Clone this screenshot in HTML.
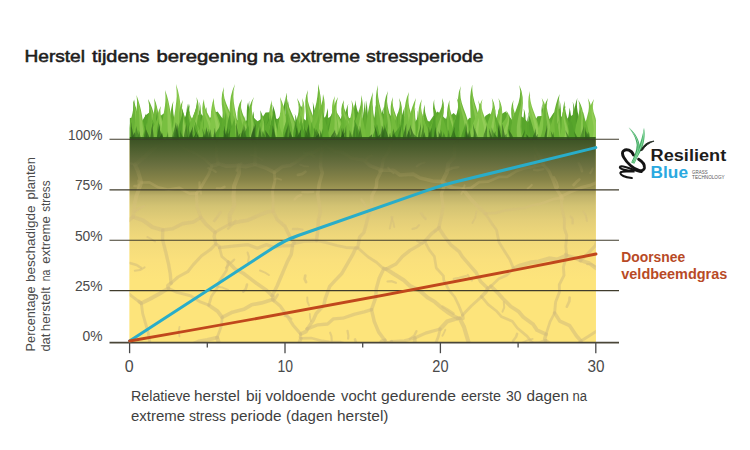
<!DOCTYPE html>
<html><head><meta charset="utf-8"><style>
html,body{margin:0;padding:0;background:#fff;width:750px;height:450px;overflow:hidden}
svg{display:block}
text{font-family:"Liberation Sans",Arial,sans-serif}
</style></head><body>
<svg width="750" height="450" viewBox="0 0 750 450">
<defs>
<linearGradient id="soil" x1="0" y1="139" x2="0" y2="343" gradientUnits="userSpaceOnUse">
<stop offset="0.005" stop-color="#3d5425"/>
<stop offset="0.054" stop-color="#4f6030"/>
<stop offset="0.127" stop-color="#6a7040"/>
<stop offset="0.201" stop-color="#878448"/>
<stop offset="0.245" stop-color="#9e9654"/>
<stop offset="0.279" stop-color="#bfb26a"/>
<stop offset="0.328" stop-color="#d3c373"/>
<stop offset="0.397" stop-color="#e3ce78"/>
<stop offset="0.495" stop-color="#f2da7b"/>
<stop offset="0.593" stop-color="#fae07c"/>
<stop offset="0.691" stop-color="#fde47b"/>
</linearGradient>
<linearGradient id="cmg" x1="0" y1="139" x2="0" y2="250" gradientUnits="userSpaceOnUse">
<stop offset="0" stop-color="#fff" stop-opacity="0"/>
<stop offset="0.2" stop-color="#fff" stop-opacity="0.04"/>
<stop offset="0.45" stop-color="#fff" stop-opacity="0.45"/>
<stop offset="0.72" stop-color="#fff" stop-opacity="0.95"/>
<stop offset="1" stop-color="#fff" stop-opacity="1"/>
</linearGradient>
<mask id="cm" maskUnits="userSpaceOnUse" x="0" y="0" width="750" height="450"><rect x="0" y="130" width="750" height="220" fill="url(#cmg)"/></mask>
<clipPath id="soilc"><rect x="129.6" y="139" width="466.2" height="203.4"/></clipPath>
<clipPath id="plot"><rect x="129.6" y="60" width="466.2" height="80"/></clipPath>
</defs>
<rect width="750" height="450" fill="#fff"/>
<text y="62.2" font-size="17.2" fill="#1e1c1c" stroke="#1e1c1c" stroke-width="0.55"><tspan x="24.50" textLength="60.50" lengthAdjust="spacingAndGlyphs">Herstel</tspan> <tspan x="92.00" textLength="57.50" lengthAdjust="spacingAndGlyphs">tijdens</tspan> <tspan x="156.50" textLength="101.50" lengthAdjust="spacingAndGlyphs">beregening</tspan> <tspan x="263.00" textLength="21.00" lengthAdjust="spacingAndGlyphs">na</tspan> <tspan x="290.00" textLength="70.00" lengthAdjust="spacingAndGlyphs">extreme</tspan> <tspan x="366.00" textLength="117.50" lengthAdjust="spacingAndGlyphs">stressperiode</tspan></text>
<rect x="129.6" y="139" width="466.2" height="203.4" fill="#fde47b"/>
<rect x="129.6" y="139" width="466.2" height="203.4" fill="url(#soil)"/>
<g clip-path="url(#soilc)" mask="url(#cm)" fill="none" stroke="#d5c07c" stroke-opacity="0.6" stroke-linecap="round" stroke-linejoin="round">
<path d="M34.0,276.7 L41.7,271.9 L51.8,266.3 L57.9,261.8 L64.4,256.3 L74.4,252.4 L79.9,245.2 L87.9,242.3 L98.5,233.8 L107.7,232.7 L114.2,226.1 L121.5,220.5" stroke-width="2.9"/>
<path d="M625.5,284.4 L618.0,293.7 L612.8,301.2 L608.2,309.6 L603.7,320.5 L598.5,329.9" stroke-width="3.9"/>
<path d="M605.4,361.5 L603.2,351.6 L600.8,341.1 L598.5,329.9" stroke-width="3.3"/>
<path d="M565.9,432.9 L564.5,425.7 L567.3,415.6 L565.6,404.0 L563.1,394.5 L562.0,387.2 L563.0,378.1 L562.6,369.3 L562.7,357.9" stroke-width="4.0"/>
<path d="M565.9,432.9 L568.1,423.7 L576.5,416.9 L581.2,408.7 L581.6,401.7 L589.1,392.2 L590.4,384.6 L598.7,378.5 L599.4,368.3 L605.4,361.5" stroke-width="2.8"/>
<path d="M598.5,329.9 L587.8,336.7 L581.0,341.0" stroke-width="2.9"/>
<path d="M581.0,341.0 L572.1,349.2 L562.7,357.9" stroke-width="2.9"/>
<path d="M34.0,276.7 L44.0,276.4 L52.5,277.6 L60.5,279.3 L68.7,283.9 L80.0,282.3 L89.3,283.2 L96.1,287.3 L106.1,285.3 L116.5,287.1 L123.3,289.6" stroke-width="3.0"/>
<path d="M121.5,220.5 L126.0,219.9 L128.1,220.9" stroke-width="3.1"/>
<path d="M128.1,220.9 L125.6,228.9 L127.1,239.4 L126.5,249.8 L125.2,262.2 L124.6,270.3 L125.6,278.4 L123.3,289.6" stroke-width="2.8"/>
<path d="M123.3,289.6 L133.4,297.4 L139.9,302.4" stroke-width="3.0"/>
<path d="M554.6,313.0 L559.8,321.1 L569.7,325.7 L576.4,335.7 L581.0,341.0" stroke-width="3.6"/>
<path d="M554.6,313.0 L550.0,321.9 L546.0,334.3" stroke-width="2.7"/>
<path d="M562.7,357.9 L556.1,348.1 L545.5,340.6" stroke-width="3.7"/>
<path d="M546.0,334.3 L544.7,338.9 L545.5,340.6" stroke-width="3.6"/>
<path d="M554.6,313.0 L555.6,302.0 L559.5,292.0 L559.3,284.6 L564.0,275.3 L563.4,267.1 L566.4,255.7" stroke-width="2.9"/>
<path d="M513.6,268.6 L520.3,265.4 L531.0,262.4 L538.6,261.6 L549.1,258.4 L557.0,259.6 L566.4,255.7" stroke-width="4.2"/>
<path d="M513.6,268.6 L506.7,275.3 L498.8,278.8 L490.9,286.2" stroke-width="2.7"/>
<path d="M546.0,334.3 L537.0,330.1 L533.1,324.3 L523.2,316.9 L518.4,311.3 L510.8,306.5 L502.8,298.5 L498.8,294.0 L490.9,286.2" stroke-width="3.8"/>
<path d="M78.3,139.1 L88.6,137.0 L99.0,131.8 L107.4,130.8 L117.6,125.4 L126.7,124.0 L135.2,119.6 L143.8,116.1 L154.2,110.5 L163.1,109.0" stroke-width="3.6"/>
<path d="M78.3,139.1 L89.9,145.0 L98.2,147.1 L107.7,152.2 L115.9,157.5 L123.8,161.4 L135.1,164.6" stroke-width="2.6"/>
<path d="M135.1,164.6 L143.8,157.4 L150.3,151.3 L159.7,143.8 L168.0,136.3" stroke-width="4.1"/>
<path d="M163.1,109.0 L165.1,115.5 L169.2,126.2" stroke-width="3.1"/>
<path d="M168.0,136.3 L169.4,129.9 L169.2,126.2" stroke-width="2.9"/>
<path d="M215.8,244.0 L219.4,246.5 L219.5,247.7" stroke-width="3.3"/>
<path d="M215.8,244.0 L210.1,249.8 L201.6,255.7 L193.1,264.9 L187.8,271.7 L178.0,277.0 L171.0,283.1" stroke-width="3.1"/>
<path d="M171.0,283.1 L168.0,285.8 L168.3,288.4" stroke-width="3.9"/>
<path d="M208.9,305.2 L200.3,301.9 L190.6,295.8 L177.0,292.4 L168.3,288.4" stroke-width="3.0"/>
<path d="M208.9,305.2 L211.5,296.2 L217.2,287.9 L219.7,280.8 L226.5,270.4 L228.3,262.0" stroke-width="2.7"/>
<path d="M228.3,262.0 L221.8,256.5 L219.5,247.7" stroke-width="2.7"/>
<path d="M625.5,284.4 L617.4,280.0 L606.7,276.1 L596.4,268.4 L589.3,263.2 L580.5,260.5" stroke-width="3.9"/>
<path d="M566.4,255.7 L565.4,254.0 L566.8,255.4" stroke-width="2.7"/>
<path d="M580.5,260.5 L574.2,257.7 L566.8,255.4" stroke-width="3.6"/>
<path d="M580.5,260.5 L587.6,253.9 L595.4,245.5 L598.4,236.6 L604.8,226.7 L612.5,221.9 L617.6,212.0 L625.4,205.1" stroke-width="3.2"/>
<path d="M513.6,268.6 L509.8,259.5 L504.7,251.4 L499.0,242.3 L496.5,230.0 L491.9,223.6 L485.3,213.5" stroke-width="2.8"/>
<path d="M566.8,255.4 L565.7,246.4 L566.8,235.7 L564.3,228.3 L564.4,219.0 L561.9,208.2 L561.2,197.9" stroke-width="2.9"/>
<path d="M485.3,213.5 L495.7,212.9 L504.9,210.5 L512.5,209.4 L525.3,207.8 L532.9,205.0 L541.4,203.6 L553.2,199.2 L561.2,197.9" stroke-width="2.7"/>
<path d="M128.1,220.9 L130.3,219.1 L133.1,216.9" stroke-width="3.8"/>
<path d="M135.1,164.6 L138.1,171.5 L141.3,182.5" stroke-width="3.9"/>
<path d="M141.3,182.5 L136.6,195.3 L134.4,204.7 L133.1,216.9" stroke-width="3.9"/>
<path d="M139.9,302.4 L139.0,301.3 L141.3,303.2" stroke-width="3.4"/>
<path d="M171.0,283.1 L170.3,274.0 L168.5,263.8 L166.0,253.2 L162.5,239.4 L162.7,230.0" stroke-width="3.4"/>
<path d="M141.3,303.2 L149.4,299.3 L159.9,293.5 L168.3,288.4" stroke-width="3.9"/>
<path d="M133.1,216.9 L143.2,220.4 L152.3,227.1 L162.7,230.0" stroke-width="4.0"/>
<path d="M226.0,354.0 L220.3,347.4 L217.1,337.7" stroke-width="4.1"/>
<path d="M226.0,354.0 L221.6,362.2 L215.6,370.0 L212.3,378.2 L205.6,387.8 L203.2,393.2 L199.9,401.8 L194.0,410.3 L187.5,417.6 L184.5,427.3 L182.1,432.2 L175.6,439.6 L170.8,450.5 L168.3,456.9 L161.2,463.6 L157.9,474.8 L151.2,482.1 L146.2,487.4 L142.5,497.5 L138.3,504.0 L135.1,510.8 L131.0,518.8 L125.4,527.3 L119.5,536.5 L116.2,544.3" stroke-width="3.3"/>
<path d="M217.1,337.7 L207.2,339.9 L198.6,341.4 L187.9,346.1 L180.5,348.3 L172.1,351.3 L162.8,352.2 L152.0,356.0" stroke-width="3.8"/>
<path d="M116.2,544.3 L119.3,537.1 L118.8,525.5 L123.2,516.1 L125.2,510.1 L123.1,498.3 L127.4,489.4 L126.4,483.0 L129.5,473.8 L129.9,463.2 L134.1,452.5 L133.6,446.5 L138.5,438.8 L136.7,427.8 L141.2,418.8 L142.6,408.4 L141.6,399.1 L143.1,392.1 L146.9,383.2 L147.0,372.6 L149.0,366.5 L152.0,356.0" stroke-width="4.2"/>
<path d="M222.2,317.3 L221.5,325.7 L217.1,337.7" stroke-width="2.7"/>
<path d="M222.2,317.3 L217.5,311.1 L208.9,305.2" stroke-width="3.8"/>
<path d="M141.3,303.2 L142.7,313.6 L145.7,324.0 L148.2,332.8 L150.7,347.0 L152.0,356.0" stroke-width="2.9"/>
<path d="M545.5,340.6 L538.8,342.9 L532.4,343.0" stroke-width="3.2"/>
<path d="M486.7,385.3 L493.0,376.8 L502.0,369.1 L511.3,365.5 L518.1,358.7 L525.4,349.6 L532.4,343.0" stroke-width="3.6"/>
<path d="M295.2,378.2 L286.6,377.3 L279.3,371.1 L271.1,370.2 L261.8,367.5 L251.6,364.8 L245.0,360.9 L235.8,358.2 L226.0,354.0" stroke-width="3.2"/>
<path d="M295.2,378.2 L297.6,366.3 L297.3,358.1 L297.3,347.7 L300.9,338.4" stroke-width="3.6"/>
<path d="M300.9,338.4 L311.1,338.1 L322.3,340.9 L329.3,341.7 L340.1,342.1 L349.0,345.0 L359.9,344.6 L370.1,346.7 L378.7,345.5" stroke-width="2.6"/>
<path d="M315.7,481.6 L320.2,474.2 L322.5,464.2 L325.5,454.7 L330.9,445.8 L334.3,440.9 L339.6,430.6 L345.3,422.3 L349.4,414.1 L352.5,403.2 L355.5,397.7 L357.0,389.9 L361.5,379.4 L365.4,371.0 L371.3,360.5 L376.7,353.6 L378.7,345.5" stroke-width="3.4"/>
<path d="M168.0,136.3 L177.2,141.6 L184.6,148.7 L194.6,153.0 L204.0,158.9 L211.8,165.7" stroke-width="2.6"/>
<path d="M141.3,182.5 L149.4,182.3 L158.2,187.3 L168.4,189.7 L179.2,187.8 L189.5,193.6 L196.5,193.4" stroke-width="2.7"/>
<path d="M211.8,165.7 L208.5,174.6 L201.5,186.3 L196.5,193.4" stroke-width="3.0"/>
<path d="M162.7,230.0 L172.3,228.8 L182.7,223.6 L193.4,222.0 L200.8,217.5" stroke-width="3.6"/>
<path d="M196.5,193.4 L197.0,206.0 L200.8,217.5" stroke-width="3.3"/>
<path d="M215.8,244.0 L214.1,236.2 L215.1,232.3" stroke-width="3.4"/>
<path d="M215.1,232.3 L206.3,224.6 L200.8,217.5" stroke-width="3.7"/>
<path d="M438.8,227.9 L431.6,233.6 L424.8,241.3" stroke-width="3.5"/>
<path d="M438.8,227.9 L444.6,236.7 L451.2,245.2 L459.2,251.6 L462.1,256.4 L471.1,266.8 L476.1,272.5 L480.6,281.5 L487.7,288.2" stroke-width="3.5"/>
<path d="M424.8,241.3 L429.4,250.1 L434.3,256.3 L436.3,268.0 L443.4,275.8 L443.8,280.4 L449.0,290.2 L454.7,297.0 L458.6,305.1 L462.6,315.1" stroke-width="2.7"/>
<path d="M487.7,288.2 L485.5,292.6 L481.6,296.6" stroke-width="3.6"/>
<path d="M481.6,296.6 L471.5,305.8 L462.6,315.1" stroke-width="2.9"/>
<path d="M444.7,184.5 L453.1,187.9 L463.0,189.2" stroke-width="3.9"/>
<path d="M444.7,184.5 L441.4,193.7 L443.1,206.7 L441.5,215.8 L438.8,227.9" stroke-width="3.3"/>
<path d="M490.9,286.2 L488.2,288.6 L487.7,288.2" stroke-width="3.2"/>
<path d="M463.0,189.2 L471.1,199.4 L477.1,205.6 L485.3,213.5" stroke-width="3.8"/>
<path d="M532.4,343.0 L527.0,336.1 L517.3,328.0 L512.3,321.3 L501.6,316.8 L496.1,310.7 L488.0,304.4 L481.6,296.6" stroke-width="2.7"/>
<path d="M486.7,385.3 L482.1,377.6 L478.1,367.7 L477.6,361.0 L472.3,350.2 L469.2,344.4 L465.9,333.4 L464.0,327.0 L459.7,318.3" stroke-width="4.1"/>
<path d="M459.7,318.3 L463.1,318.5 L462.6,315.1" stroke-width="3.3"/>
<path d="M442.3,181.6 L447.0,172.0 L448.2,163.7 L454.3,157.1 L454.7,146.0 L458.5,137.3 L462.0,128.7 L464.5,120.7 L470.5,111.9 L474.1,103.2 L474.5,95.3 L481.0,84.5 L480.6,76.8 L486.3,68.3 L489.4,59.3" stroke-width="4.1"/>
<path d="M442.3,181.6 L432.8,181.0 L420.1,178.0 L413.2,174.1 L400.0,175.0 L393.4,170.3 L381.6,170.2" stroke-width="3.6"/>
<path d="M381.6,170.2 L379.9,171.2 L381.4,170.1" stroke-width="3.6"/>
<path d="M381.4,170.1 L383.3,159.5 L388.7,151.4 L391.7,141.5 L392.9,134.7 L397.4,123.2 L399.9,114.8 L403.7,106.3 L405.8,95.1" stroke-width="3.3"/>
<path d="M322.0,126.7 L325.0,136.4 L325.1,144.6" stroke-width="4.0"/>
<path d="M322.0,126.7 L332.6,124.7 L342.3,121.7 L350.5,116.3 L360.1,114.0 L368.2,108.8 L376.3,106.7 L389.3,101.6 L395.0,97.4 L405.8,95.1" stroke-width="3.3"/>
<path d="M325.1,144.6 L333.6,150.9 L342.0,152.2 L351.6,158.0 L363.9,160.2 L370.1,165.6 L381.4,170.1" stroke-width="3.5"/>
<path d="M283.7,-46.0 L287.6,-38.9 L286.0,-29.2 L288.5,-19.9 L292.7,-9.2 L292.6,-1.9 L294.8,7.1 L299.0,16.8 L300.0,28.1 L301.8,34.8 L305.6,46.8 L305.2,54.2 L309.9,63.0 L308.7,70.2 L313.9,82.6 L313.4,90.5 L316.0,98.5 L320.1,109.2 L318.8,115.5 L322.0,126.7" stroke-width="3.4"/>
<path d="M228.3,262.0 L235.1,269.0 L243.9,273.7 L248.7,277.4 L256.8,283.5 L266.5,290.2 L272.2,295.8" stroke-width="3.6"/>
<path d="M219.5,247.7 L230.8,246.4 L237.9,245.6 L248.1,244.7 L257.4,248.2 L266.6,244.6 L273.3,247.2 L281.7,245.9 L292.6,245.7" stroke-width="3.3"/>
<path d="M292.6,245.7 L291.2,254.5 L287.4,261.6 L283.7,270.4 L280.8,277.3 L277.0,286.2 L272.2,295.8" stroke-width="3.5"/>
<path d="M222.2,317.3 L232.4,312.2 L243.8,309.3 L251.5,304.8 L261.6,302.9 L272.5,299.5" stroke-width="3.7"/>
<path d="M300.9,338.4 L300.1,337.0 L300.7,334.0" stroke-width="2.8"/>
<path d="M300.7,334.0 L293.1,325.2 L288.6,318.2 L280.2,306.0 L272.5,299.5" stroke-width="3.2"/>
<path d="M272.5,299.5 L273.3,296.5 L272.2,295.8" stroke-width="3.5"/>
<path d="M543.2,161.2 L543.0,160.7 L543.2,164.4" stroke-width="4.2"/>
<path d="M543.2,164.4 L549.0,171.1 L552.7,179.5 L556.2,188.6 L561.2,196.4" stroke-width="3.1"/>
<path d="M561.2,196.4 L570.6,191.9 L582.1,187.3 L590.1,185.3 L601.6,180.3" stroke-width="3.1"/>
<path d="M444.7,184.5 L445.4,183.3 L442.3,181.6" stroke-width="3.8"/>
<path d="M463.0,189.2 L471.1,187.9 L479.0,182.1 L487.9,181.7 L499.5,176.8 L507.1,176.9 L516.9,170.9 L524.2,168.4 L532.6,166.8 L543.2,164.4" stroke-width="2.7"/>
<path d="M489.4,59.3 L495.8,67.4 L498.5,76.9 L504.1,86.2 L506.9,92.5 L511.5,99.6 L515.9,111.1 L522.9,120.0 L526.0,127.7 L527.7,135.0 L533.6,144.9 L537.0,152.2 L543.2,161.2" stroke-width="3.4"/>
<path d="M561.2,197.9 L562.5,198.6 L561.2,196.4" stroke-width="3.6"/>
<path d="M625.4,205.1 L616.0,198.0 L611.3,188.8 L601.6,180.3" stroke-width="3.2"/>
<path d="M378.7,345.5 L381.8,341.2 L384.8,340.2" stroke-width="3.7"/>
<path d="M307.3,328.9 L306.1,331.5 L300.7,334.0" stroke-width="3.7"/>
<path d="M307.3,328.9 L317.9,324.8 L327.6,324.0 L333.5,318.8 L342.8,318.2 L354.0,314.4 L364.2,311.8 L371.5,309.6" stroke-width="3.3"/>
<path d="M384.8,340.2 L378.7,332.1 L374.3,321.6 L371.5,309.6" stroke-width="3.5"/>
<path d="M357.7,247.7 L357.0,248.2 L355.8,248.0" stroke-width="3.0"/>
<path d="M357.7,247.7 L368.2,257.0 L376.4,262.3 L383.7,268.9" stroke-width="2.8"/>
<path d="M355.8,248.0 L352.4,255.2 L347.8,263.1 L341.6,273.8 L335.0,280.6 L329.7,286.4 L325.3,298.7 L323.8,305.3 L316.2,313.5 L313.2,320.3 L307.3,328.9" stroke-width="3.5"/>
<path d="M371.5,309.6 L375.8,297.3 L376.2,289.1 L379.1,278.6 L383.7,268.9" stroke-width="3.5"/>
<path d="M459.7,318.3 L457.2,318.4 L457.5,318.3" stroke-width="3.0"/>
<path d="M424.8,241.3 L417.4,246.1 L410.0,250.4 L402.5,256.4 L396.0,264.0 L386.3,269.1" stroke-width="3.4"/>
<path d="M457.5,318.3 L449.2,313.4 L442.5,308.5 L434.9,301.9 L428.1,297.9 L419.5,290.6 L409.8,285.8 L403.9,280.2 L394.3,274.3 L386.3,269.1" stroke-width="4.0"/>
<path d="M357.7,247.7 L359.6,237.2 L364.0,232.3 L366.7,222.3 L369.4,212.4 L371.4,202.8 L372.0,195.8 L376.3,187.0 L376.9,179.7 L381.6,170.2" stroke-width="3.4"/>
<path d="M383.7,268.9 L383.9,268.2 L386.3,269.1" stroke-width="3.2"/>
<path d="M169.2,126.2 L177.9,121.2 L190.6,122.1 L199.3,118.5 L208.0,115.2 L218.2,110.7" stroke-width="3.0"/>
<path d="M211.8,165.7 L215.9,164.8 L217.9,163.3" stroke-width="4.0"/>
<path d="M217.9,163.3 L216.2,154.0 L216.4,142.4 L220.0,129.5 L217.0,120.3 L218.2,110.7" stroke-width="3.1"/>
<path d="M217.9,163.3 L226.4,166.1 L238.8,165.4" stroke-width="3.9"/>
<path d="M246.1,68.7 L246.5,77.6 L248.2,85.8 L246.6,99.1 L248.7,106.9 L252.3,118.6 L251.2,124.8 L251.3,137.5 L254.8,143.8 L255.4,154.1 L254.8,164.3" stroke-width="3.4"/>
<path d="M254.8,164.3 L245.3,166.5 L238.8,165.4" stroke-width="4.2"/>
<path d="M215.1,232.3 L221.1,228.7 L229.8,224.1" stroke-width="2.9"/>
<path d="M238.8,165.4 L239.0,173.2 L234.1,185.9 L233.5,196.5 L234.4,205.4 L229.7,215.1 L229.8,224.1" stroke-width="4.1"/>
<path d="M273.1,211.0 L273.1,199.5 L272.5,190.8 L274.9,180.7 L274.3,172.4" stroke-width="2.9"/>
<path d="M273.1,211.0 L277.2,219.7 L285.0,226.4 L289.8,236.6 L294.4,242.9" stroke-width="3.5"/>
<path d="M294.4,242.9 L304.3,240.8 L316.5,240.5" stroke-width="4.1"/>
<path d="M316.5,240.5 L317.9,230.1 L318.4,219.9 L320.5,212.1 L319.2,203.1 L317.7,194.0 L319.4,183.0 L322.3,172.9 L320.6,166.4 L321.1,154.9 L322.8,146.5" stroke-width="3.5"/>
<path d="M322.8,146.5 L313.4,152.6 L308.8,153.1 L298.4,160.5 L290.0,165.6 L282.4,166.6 L274.3,172.4" stroke-width="3.5"/>
<path d="M254.8,164.3 L265.2,167.7 L274.3,172.4" stroke-width="3.7"/>
<path d="M229.8,224.1 L239.7,221.5 L247.1,220.4 L256.6,216.3 L266.4,212.2 L273.1,211.0" stroke-width="3.8"/>
<path d="M292.6,245.7 L292.0,244.8 L294.4,242.9" stroke-width="3.0"/>
<path d="M355.8,248.0 L345.7,247.4 L337.4,245.6 L325.2,242.4 L316.5,240.5" stroke-width="3.0"/>
<path d="M325.1,144.6 L324.3,145.6 L322.8,146.5" stroke-width="2.7"/>
<path d="M407.9,421.1 L411.5,412.8 L414.7,404.3 L416.2,391.9 L418.7,384.2 L423.7,374.8 L426.2,367.1 L428.6,358.4 L434.0,347.6 L438.2,337.1 L440.2,329.0" stroke-width="2.8"/>
<path d="M406.9,410.9 L407.0,399.8 L408.0,393.2 L410.0,382.5 L411.2,372.6 L413.3,363.9 L411.8,354.7 L414.7,348.6 L414.8,338.0" stroke-width="3.9"/>
<path d="M440.2,329.0 L425.6,333.1 L414.8,338.0" stroke-width="3.2"/>
<path d="M384.8,340.2 L386.9,342.9 L391.5,341.5" stroke-width="2.7"/>
<path d="M391.5,341.5 L393.6,352.5 L398.0,359.7 L397.9,372.3 L398.2,380.0 L404.2,389.5 L404.2,400.1 L406.9,410.9" stroke-width="3.3"/>
<path d="M457.5,318.3 L447.0,321.6 L440.2,329.0" stroke-width="4.2"/>
<path d="M391.5,341.5 L404.3,340.8 L414.8,338.0" stroke-width="3.0"/>
<path d="M247.6,252.6 L248.9,256.9 L248.1,261.8" stroke-width="2.1"/>
<path d="M587.1,264.1 L591.6,264.1 L595.4,266.3" stroke-width="2.1"/>
<path d="M453.5,313.6 L447.9,309.8 L442.5,306.6" stroke-width="2.6"/>
<path d="M307.3,297.4 L307.4,301.4 L309.0,305.3" stroke-width="2.0"/>
<path d="M224.5,186.8 L220.6,188.8 L216.9,188.4" stroke-width="2.5"/>
<path d="M531.8,184.9 L530.2,186.5 L527.6,188.7" stroke-width="2.1"/>
<path d="M138.3,180.5 L138.9,185.3 L137.6,189.0" stroke-width="2.1"/>
<path d="M297.9,174.9 L302.4,173.9 L305.5,171.7" stroke-width="2.7"/>
<path d="M139.1,207.8 L137.9,209.3 L134.8,211.6" stroke-width="2.6"/>
<path d="M371.7,155.7 L367.8,157.1 L366.1,160.1" stroke-width="2.4"/>
<path d="M144.4,205.9 L139.1,208.7 L135.6,210.4" stroke-width="2.1"/>
<path d="M467.8,274.9 L469.4,278.1 L471.9,280.4" stroke-width="2.2"/>
<path d="M309.8,313.9 L310.0,317.0 L310.9,321.4" stroke-width="1.8"/>
<path d="M141.0,267.9 L136.6,265.0 L129.8,263.0" stroke-width="2.5"/>
<path d="M558.1,187.2 L557.1,182.9 L554.0,177.0" stroke-width="2.0"/>
<path d="M424.5,162.5 L419.6,164.1 L416.8,166.3" stroke-width="2.1"/>
<path d="M361.4,199.6 L363.6,202.4 L366.0,206.8" stroke-width="2.5"/>
<path d="M241.4,163.1 L238.2,167.0 L236.6,170.5" stroke-width="2.5"/>
<path d="M387.5,281.5 L391.4,281.1 L395.9,282.8" stroke-width="2.2"/>
<path d="M155.1,241.6 L150.7,238.7 L147.2,236.9" stroke-width="1.8"/>
<path d="M291.4,318.9 L288.4,316.7 L284.7,315.9" stroke-width="2.3"/>
<path d="M416.4,331.2 L414.2,335.7 L409.8,338.9" stroke-width="2.4"/>
<path d="M419.0,225.1 L416.6,227.9 L412.6,228.9" stroke-width="2.2"/>
<path d="M553.7,152.4 L556.3,155.7 L559.9,159.6" stroke-width="2.8"/>
<path d="M199.5,182.5 L199.6,186.8 L201.0,193.5" stroke-width="2.3"/>
<path d="M313.2,191.7 L307.9,192.2 L302.4,192.1" stroke-width="2.4"/>
<path d="M517.1,333.9 L516.0,337.0 L513.0,340.9" stroke-width="2.5"/>
<path d="M453.8,278.9 L459.0,277.8 L465.9,276.1" stroke-width="2.3"/>
<path d="M392.5,217.1 L391.2,222.1 L389.8,228.5" stroke-width="2.0"/>
<path d="M281.1,179.7 L277.0,178.4 L275.0,179.1" stroke-width="1.9"/>
<path d="M458.2,167.0 L452.4,168.0 L446.8,170.6" stroke-width="2.7"/>
<path d="M535.1,155.4 L535.7,159.9 L534.9,165.0" stroke-width="2.5"/>
<path d="M247.0,284.6 L245.8,288.9 L243.3,291.7" stroke-width="2.6"/>
<path d="M394.2,227.0 L393.5,222.6 L391.3,216.8" stroke-width="1.9"/>
<path d="M305.3,275.5 L304.6,279.0 L306.1,282.1" stroke-width="2.7"/>
<path d="M582.0,171.1 L580.7,166.8 L578.7,163.0" stroke-width="2.7"/>
<path d="M590.6,154.5 L588.8,151.0 L589.2,148.6" stroke-width="2.5"/>
<path d="M592.8,168.4 L591.7,170.7 L590.3,173.0" stroke-width="2.2"/>
<path d="M273.7,301.1 L275.5,298.2 L277.7,294.7" stroke-width="2.6"/>
<path d="M586.9,220.9 L585.9,215.4 L583.5,211.6" stroke-width="2.0"/>
<path d="M179.5,327.0 L178.6,331.3 L179.5,336.4" stroke-width="1.8"/>
<path d="M393.4,173.0 L390.1,170.3 L388.2,167.7" stroke-width="2.2"/>
<path d="M250.6,155.0 L256.2,156.5 L262.6,160.1" stroke-width="2.0"/>
<path d="M355.0,339.4 L356.8,345.4 L358.8,351.7" stroke-width="2.6"/>
<path d="M314.2,156.2 L309.3,154.0 L303.8,152.8" stroke-width="2.7"/>
<path d="M532.7,338.9 L527.4,340.3 L521.0,343.3" stroke-width="1.8"/>
<path d="M208.3,168.2 L212.6,169.6 L215.7,171.9" stroke-width="2.3"/>
<path d="M134.5,186.0 L137.0,186.1 L139.4,184.7" stroke-width="2.6"/>
<path d="M472.4,222.9 L475.1,218.1 L476.5,211.1" stroke-width="1.9"/>
<path d="M572.7,223.4 L572.6,218.8 L570.7,216.5" stroke-width="2.4"/>
<path d="M235.5,220.7 L232.6,224.4 L228.1,228.7" stroke-width="2.4"/>
<path d="M294.7,199.4 L297.0,196.8 L301.2,195.0" stroke-width="2.5"/>
<path d="M228.1,289.9 L222.0,287.4 L217.5,286.7" stroke-width="1.9"/>
<path d="M292.9,229.0 L297.4,228.9 L302.4,229.6" stroke-width="2.3"/>
<path d="M573.6,184.9 L577.1,181.3 L579.3,179.5" stroke-width="2.8"/>
<path d="M330.1,332.7 L331.4,336.2 L331.8,341.2" stroke-width="2.1"/>
<path d="M445.3,329.8 L443.5,334.0 L442.4,335.8" stroke-width="1.9"/>
<path d="M425.5,218.7 L423.7,216.9 L421.2,213.3" stroke-width="2.7"/>
<path d="M422.7,243.4 L420.7,242.7 L417.2,241.0" stroke-width="2.3"/>
<path d="M439.8,226.8 L437.4,229.3 L434.5,231.5" stroke-width="2.3"/>
<path d="M144.6,267.3 L140.0,270.1 L134.8,270.7" stroke-width="2.0"/>
<path d="M348.1,338.6 L348.4,335.9 L347.5,330.8" stroke-width="2.2"/>
<path d="M534.0,169.7 L538.1,170.2 L543.4,169.1" stroke-width="2.4"/>
<path d="M566.8,306.7 L569.4,301.1 L569.6,297.5" stroke-width="2.7"/>
<path d="M461.4,193.9 L463.0,190.5 L464.6,185.4" stroke-width="2.0"/>
<path d="M260.0,270.5 L265.1,272.7 L268.9,275.0" stroke-width="2.0"/>
<path d="M502.5,311.7 L504.2,307.5 L503.8,301.9" stroke-width="2.0"/>
<path d="M300.2,164.6 L305.0,166.3 L308.1,166.4" stroke-width="1.9"/>
<path d="M214.3,220.8 L218.4,215.5 L220.5,212.2" stroke-width="2.8"/>
<path d="M226.0,267.7 L229.4,264.1 L234.2,259.6" stroke-width="2.2"/>
</g>
<g clip-path="url(#plot)">
<path d="M129.6,139.5 L129.6,122 L129.6,118.0 L133.6,117.6 L137.6,122.0 L141.6,121.8 L145.6,115.3 L149.6,112.2 L153.6,116.3 L157.6,118.9 L161.6,115.0 L165.6,112.2 L169.6,117.1 L173.6,122.7 L177.6,120.9 L181.6,117.0 L185.6,119.3 L189.6,124.2 L193.6,122.3 L197.6,115.7 L201.6,114.6 L205.6,118.7 L209.6,118.7 L213.6,113.1 L217.6,111.5 L221.6,117.2 L225.6,121.0 L229.6,117.9 L233.6,115.6 L237.6,120.3 L241.6,124.9 L245.6,121.8 L249.6,116.4 L253.6,117.5 L257.6,121.3 L261.6,118.8 L265.6,112.5 L269.6,112.2 L273.6,117.7 L277.6,119.0 L281.6,114.7 L285.6,114.4 L289.6,120.6 L293.6,124.2 L297.6,120.3 L301.6,117.0 L305.6,120.3 L309.6,123.4 L313.6,119.0 L317.6,113.1 L321.6,114.3 L325.6,118.7 L329.6,117.2 L333.6,112.3 L337.6,113.7 L341.6,120.3 L345.6,122.1 L349.6,118.0 L353.6,117.2 L357.6,122.4 L361.6,124.5 L365.6,119.0 L369.6,114.6 L373.6,117.3 L377.6,120.1 L381.6,116.0 L385.6,111.1 L389.6,113.9 L393.6,119.7 L397.6,119.3 L401.6,115.4 L405.6,117.1 L409.6,123.4 L413.6,124.1 L417.6,118.6 L421.6,116.5 L425.6,120.4 L429.6,121.4 L433.6,115.5 L437.6,111.5 L441.6,115.1 L445.6,119.1 L449.6,116.4 L453.6,113.0 L457.6,116.9 L461.6,123.1 L465.6,122.4 L469.6,117.7 L473.6,118.3 L477.6,123.1 L481.6,122.3 L485.6,115.7 L489.6,113.2 L493.6,117.3 L497.6,118.9 L501.6,114.1 L505.6,111.6 L509.6,116.8 L513.6,121.8 L517.6,119.6 L521.6,116.3 L525.6,119.7 L529.6,124.7 L533.6,122.4 L537.6,116.2 L541.6,115.9 L545.6,119.9 L549.6,118.9 L553.6,112.8 L557.6,111.6 L561.6,117.1 L565.6,120.0 L569.6,116.4 L573.6,114.8 L577.6,120.3 L581.6,124.7 L585.6,121.4 L589.6,116.8 L593.6,118.8 L595.8,120 L595.8,139.5 Z" fill="#5ba82d"/>
<path d="M145.4,139.8 145.0,135.0 144.3,130.6 143.5,126.5 142.5,122.7 141.5,119.1 140.6,115.5 139.8,111.9 139.1,108.1 138.8,104.1 138.8,104.1 138.2,108.1 137.8,112.0 137.6,115.8 137.5,119.6 137.4,123.3 137.3,127.1 137.0,130.9 136.6,135.0 135.9,139.2Z" fill="#4f9c28"/>
<path d="M233.0,139.5 232.6,134.8 232.3,130.4 232.2,126.2 232.2,122.1 232.2,118.2 232.2,114.2 232.2,110.2 232.0,106.1 231.8,101.8 231.8,101.8 231.3,106.0 230.6,110.1 229.8,113.9 228.9,117.8 228.1,121.7 227.2,125.7 226.4,130.0 225.8,134.6 225.3,139.5Z" fill="#62ad30"/>
<path d="M197.5,139.2 196.8,134.5 196.5,130.1 196.6,125.9 196.8,121.6 197.2,117.4 197.5,113.2 197.7,108.9 197.6,104.6 197.2,100.1 197.2,100.1 196.7,104.5 195.8,108.7 194.6,112.7 193.2,116.6 191.8,120.6 190.5,124.8 189.3,129.4 188.5,134.4 188.0,139.8Z" fill="#4f9c28"/>
<path d="M142.2,140.0 141.9,134.4 141.2,129.3 140.1,124.6 138.8,120.3 137.5,116.2 136.3,112.1 135.3,108.1 134.6,103.8 134.3,99.2 134.3,99.2 133.6,103.8 133.3,108.2 133.2,112.6 133.4,116.9 133.6,121.2 133.7,125.5 133.6,129.8 133.2,134.3 132.4,139.0Z" fill="#4f9c28"/>
<path d="M229.6,139.4 228.9,134.2 228.2,129.4 227.5,124.9 226.8,120.6 226.1,116.4 225.3,112.3 224.6,108.1 223.8,103.8 223.0,99.3 223.0,99.3 222.9,103.9 222.8,108.2 222.7,112.5 222.5,116.7 222.2,120.9 222.0,125.2 221.7,129.7 221.4,134.5 221.1,139.6Z" fill="#62ad30"/>
<path d="M347.1,139.4 346.6,135.5 346.4,131.9 346.5,128.3 346.7,124.9 347.0,121.4 347.3,117.9 347.5,114.4 347.5,110.8 347.3,107.1 347.3,107.1 346.7,110.7 345.8,114.1 344.7,117.4 343.5,120.6 342.3,123.9 341.1,127.4 340.0,131.1 339.2,135.2 338.7,139.6Z" fill="#62ad30"/>
<path d="M364.5,139.8 364.1,134.4 363.2,129.4 362.0,124.9 360.7,120.6 359.4,116.6 358.1,112.7 356.9,108.7 356.0,104.6 355.5,100.1 355.5,100.1 355.0,104.6 354.8,109.0 354.8,113.2 355.0,117.4 355.2,121.6 355.2,125.8 355.1,130.1 354.8,134.5 354.0,139.2Z" fill="#57a52b"/>
<path d="M347.0,138.7 346.0,136.0 345.3,133.4 344.8,130.8 344.4,128.1 344.0,125.5 343.5,122.9 342.9,120.2 342.0,117.5 340.9,114.8 340.9,114.8 341.1,117.7 340.8,120.3 340.4,122.8 339.7,125.3 339.0,127.8 338.3,130.5 337.7,133.4 337.3,136.7 337.1,140.3Z" fill="#62ad30"/>
<path d="M431.3,140.4 431.4,135.2 430.8,130.6 429.7,126.5 428.5,122.7 427.2,119.2 426.1,115.8 425.2,112.3 424.8,108.6 425.0,104.6 425.0,104.6 423.8,108.5 423.3,112.4 423.1,116.2 423.3,120.0 423.6,123.7 423.7,127.4 423.6,131.1 423.1,134.8 422.1,138.6Z" fill="#62ad30"/>
<path d="M271.8,139.3 271.2,135.8 270.9,132.5 270.7,129.4 270.6,126.3 270.5,123.2 270.5,120.1 270.3,117.0 270.0,113.8 269.6,110.5 269.6,110.5 269.2,113.8 268.7,116.9 268.0,119.8 267.2,122.7 266.3,125.7 265.5,128.8 264.8,132.2 264.2,135.8 263.9,139.7Z" fill="#4f9c28"/>
<path d="M409.4,140.2 409.4,136.4 408.9,132.9 408.1,129.8 407.2,127.0 406.2,124.4 405.3,121.9 404.6,119.3 404.2,116.6 404.3,113.6 404.3,113.6 403.4,116.5 402.9,119.4 402.7,122.2 402.8,125.0 402.9,127.8 402.9,130.6 402.7,133.3 402.3,136.0 401.5,138.8Z" fill="#57a52b"/>
<path d="M526.8,138.8 525.9,135.3 525.5,132.0 525.3,128.7 525.4,125.4 525.5,122.1 525.6,118.8 525.4,115.5 524.8,112.1 523.7,108.6 523.7,108.6 524.0,112.2 523.8,115.5 523.2,118.6 522.4,121.6 521.5,124.8 520.5,128.1 519.8,131.7 519.4,135.8 519.6,140.2Z" fill="#57a52b"/>
<path d="M304.9,140.5 305.2,135.5 304.9,131.0 304.3,126.9 303.5,123.1 302.7,119.6 302.1,116.1 301.7,112.5 301.8,108.8 302.4,104.7 302.4,104.7 300.8,108.6 299.7,112.3 299.0,116.1 298.6,119.8 298.3,123.5 297.9,127.1 297.4,130.8 296.6,134.6 295.5,138.5Z" fill="#4f9c28"/>
<path d="M511.1,139.2 510.6,136.2 510.2,133.3 510.1,130.5 510.0,127.8 510.0,125.0 509.9,122.3 509.8,119.5 509.5,116.6 509.0,113.7 509.0,113.7 508.8,116.6 508.2,119.4 507.6,122.0 506.8,124.5 505.9,127.2 505.1,129.9 504.4,132.9 503.8,136.2 503.5,139.8Z" fill="#57a52b"/>
<path d="M351.2,140.4 351.4,135.3 351.1,130.7 350.5,126.5 349.6,122.6 348.8,118.9 348.1,115.3 347.7,111.7 347.7,107.8 348.3,103.7 348.3,103.7 346.8,107.7 345.8,111.5 345.2,115.4 344.8,119.2 344.6,123.0 344.3,126.8 343.9,130.6 343.1,134.5 342.0,138.6Z" fill="#57a52b"/>
<path d="M593.1,138.7 592.2,135.0 591.8,131.4 591.8,127.8 592.1,124.1 592.6,120.4 592.9,116.6 593.0,112.8 592.6,109.0 591.7,105.1 591.7,105.1 591.7,109.0 591.0,112.6 589.9,116.0 588.6,119.4 587.1,122.8 585.7,126.5 584.5,130.6 583.7,135.2 583.7,140.3Z" fill="#62ad30"/>
<path d="M165.0,139.6 164.5,136.6 164.0,133.9 163.6,131.3 163.2,128.8 162.9,126.3 162.5,123.8 162.2,121.3 161.8,118.7 161.5,116.0 161.5,116.0 160.8,118.6 160.1,121.1 159.3,123.5 158.5,125.9 157.8,128.3 157.0,130.8 156.2,133.5 155.5,136.3 154.9,139.4Z" fill="#57a52b"/>
<path d="M405.8,140.0 405.7,135.7 405.5,131.7 405.2,128.0 404.9,124.5 404.6,121.1 404.4,117.7 404.3,114.3 404.3,110.7 404.6,107.0 404.6,107.0 403.4,110.6 402.4,114.0 401.5,117.4 400.7,120.8 400.0,124.2 399.3,127.6 398.6,131.2 397.7,135.0 396.8,139.0Z" fill="#57a52b"/>
<path d="M176.6,140.2 176.6,134.9 176.3,130.0 175.7,125.5 174.9,121.4 174.1,117.4 173.4,113.5 173.0,109.6 172.9,105.4 173.4,101.0 173.4,101.0 172.0,105.3 171.1,109.5 170.4,113.6 170.1,117.6 169.8,121.7 169.5,125.8 169.0,130.0 168.3,134.2 167.2,138.8Z" fill="#62ad30"/>
<path d="M442.8,139.4 442.2,136.4 441.5,133.5 440.9,130.9 440.3,128.3 439.7,125.8 439.1,123.3 438.5,120.8 437.9,118.2 437.3,115.5 437.3,115.5 436.8,118.2 436.3,120.8 435.8,123.3 435.2,125.8 434.6,128.3 434.0,130.9 433.4,133.6 432.8,136.5 432.3,139.6Z" fill="#4f9c28"/>
<path d="M146.0,138.4 145.1,136.1 144.7,133.8 144.7,131.2 145.1,128.4 145.7,125.5 146.2,122.5 146.4,119.4 146.2,116.4 145.3,113.5 145.3,113.5 145.1,116.4 144.3,119.0 143.0,121.4 141.5,123.8 139.8,126.3 138.2,129.1 136.7,132.4 135.8,136.2 135.7,140.6Z" fill="#57a52b"/>
<path d="M327.8,139.1 327.1,135.6 326.8,132.3 326.9,128.9 327.1,125.6 327.5,122.2 327.9,118.7 328.1,115.2 328.0,111.7 327.6,108.1 327.6,108.1 327.0,111.6 326.1,114.9 324.8,117.9 323.4,121.0 321.9,124.1 320.4,127.5 319.2,131.2 318.2,135.3 317.8,139.9Z" fill="#57a52b"/>
<path d="M369.8,139.5 369.4,134.5 369.0,129.8 368.7,125.4 368.3,121.2 368.0,117.1 367.7,113.1 367.3,108.9 367.0,104.7 366.7,100.2 366.7,100.2 366.3,104.7 365.8,108.9 365.3,113.0 364.8,117.1 364.3,121.1 363.8,125.4 363.3,129.8 362.8,134.4 362.3,139.5Z" fill="#57a52b"/>
<path d="M279.5,138.6 278.4,134.6 277.6,130.7 277.1,126.9 276.6,123.2 276.2,119.5 275.7,115.8 275.0,112.0 273.9,108.2 272.4,104.3 272.4,104.3 273.0,108.4 273.1,112.2 272.8,115.8 272.3,119.4 271.6,123.0 270.9,126.8 270.4,130.9 270.2,135.4 270.3,140.4Z" fill="#4f9c28"/>
<path d="M237.7,140.1 237.6,135.5 237.2,131.2 236.6,127.4 235.9,123.8 235.1,120.3 234.4,117.0 233.9,113.5 233.7,110.0 233.9,106.1 233.9,106.1 232.8,109.9 232.1,113.5 231.6,117.1 231.3,120.6 231.1,124.1 230.8,127.7 230.5,131.3 229.8,135.0 228.9,138.9Z" fill="#57a52b"/>
<path d="M368.3,139.7 368.0,134.6 367.6,129.9 367.2,125.5 366.7,121.3 366.2,117.3 365.8,113.3 365.4,109.2 365.2,105.0 365.1,100.6 365.1,100.6 364.4,105.0 363.9,109.2 363.4,113.3 363.0,117.3 362.6,121.4 362.1,125.5 361.7,129.9 361.2,134.4 360.6,139.3Z" fill="#62ad30"/>
<path d="M532.9,140.1 532.9,136.6 532.5,133.4 531.8,130.5 530.9,127.9 530.1,125.4 529.3,123.1 528.7,120.7 528.4,118.1 528.5,115.3 528.5,115.3 527.7,118.0 527.2,120.7 527.1,123.4 527.1,126.0 527.2,128.6 527.2,131.1 527.1,133.7 526.7,136.2 525.9,138.9Z" fill="#57a52b"/>
<path d="M187.8,138.5 186.7,135.5 186.1,132.5 185.8,129.6 185.6,126.6 185.5,123.6 185.3,120.5 184.8,117.5 184.0,114.4 182.6,111.3 182.6,111.3 183.2,114.6 183.2,117.6 182.7,120.4 182.1,123.2 181.2,126.1 180.4,129.1 179.8,132.5 179.5,136.3 179.8,140.5Z" fill="#62ad30"/>
<path d="M188.9,139.3 188.3,135.0 188.1,131.0 188.1,127.1 188.3,123.2 188.6,119.4 188.9,115.5 189.1,111.6 189.1,107.5 188.8,103.4 188.8,103.4 188.1,107.5 187.1,111.2 185.9,114.9 184.6,118.5 183.2,122.1 181.9,126.0 180.8,130.2 179.9,134.7 179.3,139.7Z" fill="#57a52b"/>
<path d="M275.6,139.2 274.9,134.6 274.3,130.3 273.9,126.1 273.6,122.1 273.3,118.2 273.0,114.2 272.5,110.2 272.0,106.1 271.2,101.9 271.2,101.9 271.0,106.1 270.6,110.2 269.9,114.1 269.2,117.9 268.4,121.8 267.6,125.8 266.9,130.1 266.4,134.8 266.0,139.8Z" fill="#4f9c28"/>
<path d="M362.9,140.8 363.1,136.4 362.9,132.4 362.4,128.9 361.8,125.6 361.3,122.6 360.8,119.6 360.6,116.5 360.8,113.3 361.5,109.8 361.5,109.8 359.8,113.0 358.4,116.2 357.4,119.3 356.7,122.5 356.0,125.6 355.4,128.8 354.6,131.9 353.7,135.0 352.4,138.2Z" fill="#62ad30"/>
<path d="M562.4,139.1 561.7,134.3 561.2,129.8 561.1,125.4 561.0,121.2 561.0,117.0 561.0,112.8 560.8,108.6 560.4,104.2 559.6,99.7 559.6,99.7 559.6,104.3 559.2,108.5 558.5,112.6 557.6,116.6 556.7,120.7 555.8,125.0 555.1,129.5 554.5,134.5 554.4,139.9Z" fill="#62ad30"/>
<path d="M306.4,139.2 305.7,135.1 305.1,131.2 304.7,127.5 304.4,123.9 304.1,120.3 303.7,116.8 303.3,113.2 302.7,109.5 301.9,105.7 301.9,105.7 301.8,109.6 301.5,113.2 301.0,116.7 300.5,120.2 299.8,123.6 299.2,127.3 298.6,131.1 298.2,135.3 297.9,139.8Z" fill="#4f9c28"/>
<path d="M190.9,139.6 190.6,134.9 190.2,130.6 189.7,126.6 189.3,122.8 188.8,119.0 188.4,115.3 188.0,111.6 187.7,107.7 187.4,103.6 187.4,103.6 186.9,107.7 186.5,111.5 186.0,115.3 185.6,119.0 185.2,122.8 184.7,126.6 184.3,130.6 183.8,134.9 183.3,139.4Z" fill="#4f9c28"/>
<path d="M321.0,139.3 320.2,134.4 319.4,130.0 318.5,125.8 317.7,121.8 316.7,117.9 315.8,114.1 314.8,110.2 313.8,106.2 312.8,102.0 312.8,102.0 313.0,106.3 313.1,110.4 313.1,114.4 313.1,118.3 313.1,122.3 313.0,126.3 312.9,130.5 312.7,134.9 312.5,139.7Z" fill="#4f9c28"/>
<path d="M574.3,139.3 573.6,135.3 573.0,131.6 572.6,128.1 572.1,124.6 571.7,121.2 571.3,117.9 570.8,114.5 570.3,111.0 569.6,107.4 569.6,107.4 569.3,111.0 568.8,114.5 568.2,117.8 567.5,121.1 566.8,124.4 566.1,127.8 565.4,131.5 564.8,135.4 564.4,139.7Z" fill="#4f9c28"/>
<path d="M581.7,140.4 581.8,134.5 581.3,129.2 580.5,124.4 579.5,119.9 578.5,115.7 577.6,111.5 577.0,107.3 576.9,102.9 577.3,98.1 577.3,98.1 575.8,102.7 574.8,107.2 574.2,111.7 573.9,116.1 573.7,120.5 573.4,124.9 573.0,129.3 572.2,133.9 571.0,138.6Z" fill="#4f9c28"/>
<path d="M456.5,139.0 455.6,135.7 454.8,132.7 454.0,129.8 453.2,127.0 452.4,124.3 451.6,121.5 450.7,118.8 449.7,116.0 448.6,113.1 448.6,113.1 448.7,116.2 448.6,119.1 448.4,121.9 448.2,124.6 447.8,127.4 447.4,130.3 447.1,133.3 446.7,136.5 446.5,140.0Z" fill="#57a52b"/>
<path d="M365.2,139.0 364.5,135.3 364.2,131.8 364.2,128.3 364.5,124.9 364.8,121.4 365.0,118.0 365.1,114.5 364.8,110.9 364.2,107.3 364.2,107.3 364.1,110.9 363.6,114.4 362.8,117.6 361.8,120.8 360.6,124.1 359.6,127.5 358.7,131.3 358.1,135.4 358.0,140.0Z" fill="#57a52b"/>
<path d="M408.5,139.3 407.9,136.3 407.6,133.4 407.6,130.5 407.8,127.6 408.0,124.7 408.3,121.7 408.4,118.7 408.4,115.6 408.1,112.5 408.1,112.5 407.5,115.5 406.5,118.3 405.3,120.9 404.1,123.6 402.8,126.3 401.5,129.1 400.4,132.3 399.5,135.8 398.9,139.7Z" fill="#4f9c28"/>
<path d="M270.0,139.0 269.0,135.3 268.0,131.8 267.0,128.6 266.0,125.5 265.0,122.5 263.9,119.5 262.8,116.5 261.6,113.4 260.4,110.2 260.4,110.2 260.5,113.7 260.6,116.9 260.5,120.1 260.4,123.1 260.2,126.2 259.9,129.4 259.7,132.7 259.4,136.2 259.1,140.0Z" fill="#4f9c28"/>
<path d="M283.6,140.8 283.9,136.7 283.7,133.1 283.2,129.8 282.5,126.9 281.8,124.2 281.3,121.5 281.0,118.8 281.1,115.9 281.9,112.7 281.9,112.7 280.2,115.6 279.1,118.5 278.3,121.4 277.8,124.3 277.4,127.2 277.0,130.0 276.4,132.7 275.6,135.4 274.4,138.2Z" fill="#57a52b"/>
<path d="M362.0,139.7 361.7,135.0 360.9,130.7 359.9,126.7 358.8,123.0 357.6,119.5 356.4,116.1 355.4,112.6 354.6,109.0 354.1,105.1 354.1,105.1 353.8,109.0 353.8,112.8 354.1,116.6 354.4,120.2 354.8,123.9 355.1,127.6 355.2,131.3 355.0,135.2 354.5,139.3Z" fill="#4f9c28"/>
<path d="M148.4,140.4 148.4,136.8 148.2,133.6 147.7,130.7 147.2,128.0 146.7,125.4 146.2,123.0 146.0,120.4 146.0,117.7 146.4,114.8 146.4,114.8 145.1,117.5 144.1,120.1 143.3,122.8 142.7,125.4 142.2,128.0 141.6,130.6 141.0,133.2 140.2,135.9 139.3,138.6Z" fill="#57a52b"/>
<path d="M358.4,138.8 357.5,134.8 356.9,130.9 356.6,127.2 356.5,123.4 356.5,119.6 356.4,115.8 356.1,111.9 355.5,108.0 354.4,104.0 354.4,104.0 354.4,108.1 353.9,111.8 353.0,115.4 352.0,118.9 350.8,122.5 349.7,126.4 348.7,130.5 348.1,135.1 347.9,140.2Z" fill="#57a52b"/>
<path d="M176.9,139.3 176.1,135.5 175.2,131.9 174.3,128.6 173.3,125.5 172.2,122.5 171.2,119.6 170.2,116.6 169.2,113.6 168.2,110.3 168.2,110.3 168.2,113.7 168.1,116.9 168.1,120.1 168.0,123.2 167.9,126.3 167.8,129.4 167.5,132.7 167.2,136.1 166.8,139.7Z" fill="#62ad30"/>
<path d="M191.2,140.2 191.5,135.2 191.4,130.7 190.9,126.6 190.4,122.7 189.8,119.0 189.3,115.4 189.1,111.7 189.3,107.9 190.0,103.8 190.0,103.8 188.6,107.7 187.6,111.6 187.0,115.4 186.7,119.2 186.4,122.9 186.2,126.7 185.8,130.6 185.1,134.6 184.1,138.8Z" fill="#57a52b"/>
<path d="M301.6,139.0 300.8,136.1 300.4,133.3 300.1,130.4 300.1,127.6 300.1,124.8 300.0,121.9 299.9,118.9 299.5,116.0 298.8,113.0 298.8,113.0 298.5,116.0 297.8,118.7 297.0,121.4 295.9,124.0 294.9,126.6 293.8,129.5 292.9,132.6 292.2,136.1 291.8,140.0Z" fill="#4f9c28"/>
<path d="M574.6,139.2 574.0,135.6 573.8,132.1 573.9,128.7 574.2,125.4 574.6,122.0 575.0,118.6 575.3,115.2 575.2,111.7 574.9,108.1 574.9,108.1 574.5,111.6 573.7,114.9 572.6,118.0 571.4,121.2 570.1,124.3 568.9,127.7 567.8,131.4 567.1,135.4 566.7,139.8Z" fill="#4f9c28"/>
<path d="M201.6,138.4 200.6,135.8 199.8,133.2 199.2,130.7 198.8,128.1 198.4,125.5 197.8,122.9 197.0,120.3 195.9,117.7 194.3,115.1 194.3,115.1 195.1,118.0 195.4,120.6 195.3,123.1 194.9,125.6 194.4,128.1 193.9,130.7 193.6,133.7 193.5,137.0 193.8,140.6Z" fill="#4f9c28"/>
<path d="M336.9,139.4 336.2,135.1 335.7,131.1 335.3,127.3 335.0,123.6 334.7,119.9 334.5,116.2 334.2,112.5 333.8,108.7 333.3,104.8 333.3,104.8 332.7,108.7 332.0,112.4 331.1,116.0 330.2,119.5 329.3,123.1 328.3,126.8 327.5,130.7 326.7,135.0 326.2,139.6Z" fill="#4f9c28"/>
<path d="M504.1,140.1 504.0,135.5 503.5,131.4 502.8,127.7 501.9,124.2 501.1,120.9 500.3,117.6 499.7,114.4 499.3,110.9 499.4,107.2 499.4,107.2 498.4,110.8 497.8,114.4 497.4,117.8 497.1,121.3 497.0,124.7 496.8,128.1 496.4,131.6 495.8,135.2 495.0,138.9Z" fill="#57a52b"/>
<path d="M286.9,139.7 286.5,134.4 286.2,129.5 286.0,124.9 285.8,120.5 285.6,116.2 285.5,111.9 285.4,107.5 285.3,103.0 285.3,98.3 285.3,98.3 284.4,102.9 283.4,107.3 282.5,111.6 281.5,115.8 280.6,120.1 279.7,124.5 278.9,129.1 278.1,134.0 277.3,139.3Z" fill="#4f9c28"/>
<path d="M377.0,140.1 376.8,135.3 376.3,131.0 375.6,127.0 374.9,123.2 374.1,119.7 373.4,116.2 372.8,112.7 372.5,109.0 372.6,105.0 372.6,105.0 371.5,108.8 370.7,112.6 370.1,116.3 369.7,119.9 369.3,123.6 368.9,127.2 368.4,131.0 367.7,134.8 366.7,138.9Z" fill="#4f9c28"/>
<path d="M205.0,139.0 204.2,135.6 203.7,132.4 203.3,129.2 203.0,126.2 202.7,123.1 202.4,120.1 201.9,117.0 201.3,113.9 200.3,110.7 200.3,110.7 200.5,114.0 200.4,117.1 200.1,120.1 199.6,123.0 199.0,125.9 198.5,129.1 198.0,132.4 197.7,136.0 197.7,140.0Z" fill="#4f9c28"/>
<path d="M257.3,140.1 257.3,136.1 256.9,132.5 256.4,129.2 255.7,126.1 255.0,123.2 254.4,120.3 254.0,117.5 253.8,114.4 254.1,111.1 254.1,111.1 253.0,114.3 252.3,117.4 251.9,120.4 251.6,123.4 251.4,126.5 251.1,129.5 250.8,132.5 250.2,135.6 249.3,138.9Z" fill="#57a52b"/>
<path d="M255.7,139.6 255.0,134.6 254.2,130.0 253.2,125.8 252.2,121.8 251.1,118.0 250.0,114.3 249.0,110.5 248.1,106.6 247.5,102.4 247.5,102.4 247.1,106.6 246.8,110.7 246.7,114.7 246.6,118.6 246.5,122.5 246.3,126.5 246.1,130.6 245.7,134.9 245.0,139.4Z" fill="#57a52b"/>
<path d="M585.1,138.7 584.2,136.0 583.6,133.3 583.2,130.7 583.0,128.1 582.8,125.4 582.5,122.6 582.1,119.9 581.3,117.2 580.2,114.4 580.2,114.4 580.4,117.3 580.2,120.0 579.7,122.5 579.0,125.0 578.2,127.5 577.4,130.2 576.7,133.2 576.3,136.6 576.3,140.3Z" fill="#57a52b"/>
<path d="M421.4,139.2 420.8,135.7 420.4,132.3 420.0,129.1 419.7,126.0 419.5,122.9 419.2,119.8 418.8,116.7 418.3,113.5 417.7,110.2 417.7,110.2 417.6,113.6 417.3,116.7 416.8,119.7 416.2,122.7 415.6,125.7 415.0,128.9 414.5,132.2 414.1,135.8 413.9,139.8Z" fill="#62ad30"/>
<path d="M211.1,140.1 211.0,135.5 210.5,131.3 209.8,127.5 209.0,124.0 208.1,120.7 207.4,117.4 206.8,114.1 206.5,110.6 206.6,106.8 206.6,106.8 205.6,110.5 205.0,114.0 204.6,117.6 204.4,121.0 204.3,124.5 204.1,128.0 203.8,131.5 203.2,135.1 202.4,138.9Z" fill="#4f9c28"/>
<path d="M182.2,140.0 182.0,136.0 181.4,132.4 180.5,129.2 179.4,126.2 178.3,123.5 177.2,120.8 176.3,118.1 175.7,115.2 175.5,112.1 175.5,112.1 174.9,115.2 174.7,118.3 174.8,121.3 175.0,124.3 175.3,127.2 175.5,130.1 175.4,133.0 175.1,136.0 174.5,139.0Z" fill="#62ad30"/>
<path d="M295.1,139.8 294.9,134.5 294.2,129.7 293.3,125.3 292.2,121.2 291.1,117.2 290.1,113.3 289.1,109.4 288.5,105.3 288.2,100.9 288.2,100.9 287.7,105.3 287.6,109.5 287.7,113.7 287.9,117.8 288.1,121.8 288.3,126.0 288.3,130.2 288.1,134.6 287.5,139.2Z" fill="#4f9c28"/>
<path d="M304.3,140.6 304.7,136.9 304.5,133.6 304.0,130.6 303.3,127.9 302.6,125.5 302.0,123.1 301.7,120.6 301.9,118.0 302.6,115.1 302.6,115.1 301.1,117.8 300.1,120.4 299.5,123.1 299.1,125.7 298.9,128.3 298.6,130.9 298.2,133.4 297.5,135.8 296.5,138.4Z" fill="#62ad30"/>
<path d="M189.5,139.0 188.5,134.7 187.6,130.6 186.8,126.7 185.9,123.0 185.1,119.3 184.2,115.7 183.2,112.1 182.1,108.3 180.9,104.4 180.9,104.4 181.1,108.5 181.0,112.3 180.9,116.0 180.6,119.7 180.2,123.3 179.9,127.1 179.5,131.1 179.2,135.4 178.9,140.0Z" fill="#62ad30"/>
<path d="M253.5,139.9 253.4,134.6 253.0,129.8 252.3,125.3 251.5,121.1 250.7,117.0 250.0,113.1 249.4,109.0 249.2,104.8 249.3,100.4 249.3,100.4 248.4,104.8 247.8,109.0 247.4,113.2 247.3,117.3 247.2,121.4 247.1,125.6 246.8,129.9 246.3,134.3 245.4,139.1Z" fill="#4f9c28"/>
<path d="M571.0,140.2 570.9,134.7 570.2,129.7 569.3,125.2 568.2,121.0 567.0,117.1 566.0,113.2 565.2,109.3 564.7,105.2 564.8,100.7 564.8,100.7 563.7,105.1 563.0,109.3 562.8,113.5 562.7,117.7 562.7,121.8 562.6,125.9 562.4,130.1 561.8,134.4 560.8,138.8Z" fill="#62ad30"/>
<path d="M417.4,139.9 417.2,135.7 416.9,131.8 416.5,128.2 416.1,124.8 415.7,121.5 415.3,118.2 415.1,114.9 415.0,111.4 415.2,107.8 415.2,107.8 414.1,111.3 413.2,114.7 412.5,118.0 411.8,121.3 411.1,124.6 410.5,128.0 409.9,131.5 409.1,135.2 408.3,139.1Z" fill="#62ad30"/>
<path d="M407.9,139.8 407.6,135.7 407.0,131.9 406.1,128.4 405.2,125.2 404.3,122.1 403.4,119.1 402.6,116.1 402.0,112.9 401.7,109.5 401.7,109.5 401.1,112.9 400.8,116.2 400.6,119.4 400.6,122.6 400.6,125.8 400.5,129.0 400.3,132.3 399.9,135.7 399.2,139.2Z" fill="#4f9c28"/>
<path d="M386.3,140.3 386.5,135.7 386.3,131.4 385.7,127.6 385.0,124.0 384.3,120.7 383.7,117.4 383.4,114.0 383.5,110.5 384.1,106.7 384.1,106.7 382.6,110.3 381.7,113.9 381.1,117.4 380.8,120.9 380.5,124.3 380.2,127.8 379.8,131.3 379.1,134.9 378.1,138.7Z" fill="#57a52b"/>
<path d="M369.2,138.8 368.2,135.2 367.6,131.7 367.2,128.4 367.0,125.0 366.7,121.7 366.4,118.4 365.9,115.1 365.0,111.7 363.8,108.2 363.8,108.2 364.3,111.8 364.3,115.2 363.9,118.4 363.4,121.5 362.7,124.7 362.0,128.1 361.5,131.8 361.2,135.8 361.4,140.2Z" fill="#62ad30"/>
<path d="M569.7,140.6 569.7,135.8 568.8,131.5 567.3,127.9 565.7,124.7 563.9,121.8 562.4,119.0 561.1,116.2 560.3,113.2 560.3,109.8 560.3,109.8 559.3,113.2 559.0,116.6 559.2,120.0 559.7,123.3 560.3,126.6 560.7,129.8 560.7,132.8 560.3,135.6 559.3,138.4Z" fill="#57a52b"/>
<path d="M578.1,138.8 577.1,134.3 576.4,130.1 576.1,126.0 575.9,122.0 575.7,117.9 575.4,113.9 574.9,109.9 574.0,105.8 572.7,101.5 572.7,101.5 573.2,105.9 573.2,110.0 572.8,113.9 572.1,117.7 571.3,121.6 570.6,125.7 570.0,130.1 569.7,134.9 569.8,140.2Z" fill="#57a52b"/>
<path d="M443.5,140.3 443.5,134.4 442.7,129.1 441.3,124.3 439.6,120.0 437.8,116.0 436.2,112.0 434.9,108.0 434.2,103.8 434.2,99.2 434.2,99.2 433.3,103.8 433.0,108.3 433.4,112.7 434.0,117.1 434.8,121.4 435.4,125.7 435.6,130.0 435.3,134.3 434.3,138.7Z" fill="#62ad30"/>
<path d="M584.5,138.7 583.6,136.1 583.1,133.5 582.8,130.9 582.7,128.2 582.7,125.6 582.5,122.8 582.2,120.1 581.6,117.3 580.6,114.6 580.6,114.6 580.7,117.4 580.4,120.1 579.8,122.5 579.0,125.0 578.1,127.5 577.2,130.2 576.4,133.2 575.9,136.5 575.9,140.3Z" fill="#62ad30"/>
<path d="M378.8,138.9 377.8,134.8 377.3,130.9 377.1,127.1 377.1,123.4 377.1,119.7 377.0,115.9 376.7,112.1 376.1,108.3 374.9,104.4 374.9,104.4 375.3,108.4 375.1,112.2 374.6,115.7 373.8,119.3 372.9,122.9 372.0,126.6 371.3,130.7 371.0,135.2 371.1,140.1Z" fill="#62ad30"/>
<path d="M201.0,139.0 200.2,134.5 199.8,130.3 199.9,126.2 200.2,122.1 200.5,118.1 200.8,114.0 200.8,109.9 200.4,105.8 199.5,101.5 199.5,101.5 199.7,105.8 199.4,109.8 198.6,113.7 197.5,117.5 196.4,121.4 195.3,125.5 194.4,129.9 193.9,134.7 194.0,140.0Z" fill="#62ad30"/>
<path d="M549.7,140.2 549.8,134.9 549.2,130.1 548.1,125.7 546.8,121.8 545.3,118.0 544.1,114.4 543.1,110.7 542.6,106.8 542.9,102.6 542.9,102.6 541.8,106.8 541.4,110.8 541.6,114.9 542.0,118.9 542.5,122.8 542.9,126.7 543.0,130.7 542.7,134.6 541.7,138.8Z" fill="#57a52b"/>
<path d="M574.2,139.9 573.8,136.7 573.5,133.8 573.2,131.0 573.0,128.3 572.8,125.7 572.6,123.1 572.5,120.4 572.5,117.6 572.5,114.7 572.5,114.7 571.4,117.4 570.3,120.0 569.3,122.5 568.3,124.9 567.2,127.5 566.3,130.1 565.3,132.9 564.4,135.9 563.5,139.1Z" fill="#57a52b"/>
<path d="M503.2,140.9 503.3,137.0 502.9,133.6 502.1,130.6 501.1,128.1 500.1,125.7 499.2,123.5 498.6,121.2 498.4,118.7 498.8,115.9 498.8,115.9 497.4,118.5 496.5,121.1 495.9,123.7 495.6,126.4 495.4,129.0 495.2,131.4 494.7,133.7 494.0,135.9 493.0,138.1Z" fill="#4f9c28"/>
<path d="M176.7,139.2 176.2,135.5 176.1,131.9 176.3,128.4 176.7,125.0 177.2,121.6 177.7,118.1 178.1,114.6 178.1,111.0 177.8,107.3 177.8,107.3 177.4,111.0 176.6,114.3 175.5,117.6 174.3,120.7 173.0,124.0 171.7,127.5 170.6,131.2 169.9,135.3 169.6,139.8Z" fill="#57a52b"/>
<path d="M142.7,138.2 141.3,133.8 140.2,129.6 139.3,125.4 138.7,121.3 138.0,117.1 137.2,112.9 136.2,108.6 134.8,104.3 133.0,100.0 133.0,100.0 133.4,104.6 133.2,108.9 132.5,112.9 131.6,116.8 130.6,120.9 129.6,125.2 128.7,129.9 128.1,135.1 128.0,140.8Z" fill="#69b236"/>
<path d="M140.6,139.0 139.6,134.5 138.9,130.3 138.3,126.3 137.9,122.4 137.4,118.6 136.8,114.8 135.9,111.0 134.8,107.1 133.2,103.0 133.2,103.0 134.3,107.2 134.9,111.2 135.1,115.0 135.1,118.7 135.0,122.5 134.9,126.5 134.9,130.6 135.0,135.1 135.5,140.0Z" fill="#a3d566" fill-opacity="0.5"/>
<path d="M146.7,138.6 145.4,133.3 144.3,128.3 143.4,123.4 142.5,118.7 141.7,114.0 140.8,109.4 139.6,104.7 138.2,99.9 136.5,95.0 136.5,95.0 137.0,100.2 137.0,105.0 136.6,109.6 136.1,114.2 135.5,118.8 134.8,123.6 134.3,128.7 133.9,134.3 133.8,140.4Z" fill="#74bb3c"/>
<path d="M144.9,139.2 143.9,134.0 143.1,129.1 142.5,124.5 141.8,120.0 141.1,115.7 140.4,111.4 139.4,107.1 138.2,102.6 136.7,98.0 136.7,98.0 137.8,102.8 138.5,107.3 138.9,111.6 139.2,115.9 139.4,120.3 139.5,124.7 139.7,129.4 139.9,134.4 140.4,139.8Z" fill="#a3d566" fill-opacity="0.5"/>
<path d="M160.0,138.0 158.4,133.5 157.1,129.1 156.1,124.8 155.2,120.6 154.4,116.3 153.3,112.0 152.0,107.7 150.3,103.4 148.0,99.0 148.0,99.0 148.9,103.8 149.2,108.2 149.0,112.4 148.4,116.5 147.7,120.7 147.0,125.1 146.4,129.9 146.1,135.2 146.4,141.0Z" fill="#69b236"/>
<path d="M158.1,138.9 156.8,134.3 155.9,130.0 155.1,125.9 154.5,121.9 153.8,118.0 152.9,114.1 151.8,110.2 150.2,106.2 148.2,102.0 148.2,102.0 149.8,106.3 150.8,110.4 151.4,114.4 151.7,118.2 151.9,122.1 152.0,126.2 152.2,130.5 152.6,135.1 153.3,140.1Z" fill="#a3d566" fill-opacity="0.5"/>
<path d="M161.7,138.4 160.4,133.7 159.5,129.2 158.9,124.8 158.5,120.4 158.2,116.0 157.7,111.6 157.0,107.1 155.8,102.6 154.0,98.0 154.0,98.0 154.6,102.8 154.5,107.3 154.0,111.5 153.2,115.7 152.2,119.9 151.2,124.4 150.5,129.3 150.1,134.7 150.2,140.6Z" fill="#6fb83a"/>
<path d="M160.1,139.1 159.1,134.3 158.5,129.9 158.1,125.7 157.9,121.6 157.7,117.5 157.4,113.5 156.8,109.5 155.8,105.3 154.2,101.0 154.2,101.0 155.4,105.4 155.9,109.6 156.1,113.6 156.0,117.5 155.7,121.5 155.4,125.7 155.3,130.1 155.5,134.8 156.1,139.9Z" fill="#a3d566" fill-opacity="0.5"/>
<path d="M166.1,141.2 166.4,135.9 165.9,131.1 164.8,127.0 163.6,123.3 162.3,120.0 161.2,116.8 160.5,113.5 160.3,109.9 161.0,106.0 161.0,106.0 159.1,109.7 157.9,113.3 157.3,117.1 157.0,120.8 156.9,124.4 156.7,127.9 156.2,131.3 155.3,134.6 153.9,137.8Z" fill="#82c548"/>
<path d="M164.4,140.1 165.0,135.8 164.8,131.8 164.0,128.3 162.9,125.0 161.8,121.9 160.9,118.8 160.3,115.7 160.3,112.5 161.2,109.0 161.2,109.0 159.9,112.4 159.4,115.8 159.5,119.1 160.0,122.3 160.6,125.6 161.2,128.8 161.4,132.1 161.1,135.4 160.1,138.9Z" fill="#a3d566" fill-opacity="0.5"/>
<path d="M175.3,138.5 173.8,132.6 172.7,127.1 171.8,121.7 171.0,116.5 170.3,111.3 169.4,106.1 168.3,100.8 166.9,95.5 165.0,90.0 165.0,90.0 165.5,95.7 165.4,101.1 164.9,106.2 164.1,111.2 163.3,116.3 162.4,121.7 161.6,127.4 161.1,133.7 161.1,140.5Z" fill="#78bf40"/>
<path d="M173.3,139.1 172.2,133.3 171.4,127.9 170.8,122.7 170.3,117.7 169.7,112.9 169.0,108.1 168.1,103.2 166.8,98.2 165.2,93.0 165.2,93.0 166.3,98.3 167.0,103.4 167.4,108.2 167.5,113.0 167.5,117.9 167.5,122.9 167.6,128.2 167.8,133.8 168.3,139.9Z" fill="#a3d566" fill-opacity="0.5"/>
<path d="M185.1,138.7 183.7,132.0 182.6,125.7 181.9,119.6 181.3,113.7 180.8,107.9 180.1,102.1 179.2,96.2 177.9,90.2 176.0,84.0 176.0,84.0 176.6,90.4 176.7,96.4 176.2,102.1 175.5,107.8 174.7,113.5 173.8,119.5 173.1,125.9 172.7,132.8 172.8,140.3Z" fill="#82c548"/>
<path d="M183.3,139.2 182.3,132.6 181.6,126.4 181.1,120.6 180.7,115.0 180.3,109.5 179.8,104.1 179.0,98.6 177.8,92.9 176.2,87.0 176.2,87.0 177.4,93.0 178.1,98.7 178.4,104.2 178.5,109.6 178.4,115.0 178.2,120.7 178.2,126.6 178.5,133.0 179.0,139.8Z" fill="#a3d566" fill-opacity="0.5"/>
<path d="M186.6,140.9 187.1,135.0 186.7,129.7 185.8,125.0 184.7,120.7 183.6,116.7 182.6,112.8 182.0,108.8 182.1,104.6 183.0,100.0 183.0,100.0 181.0,104.3 179.7,108.7 179.0,113.0 178.8,117.2 178.7,121.5 178.5,125.6 178.0,129.7 177.1,133.9 175.7,138.1Z" fill="#74bb3c"/>
<path d="M185.1,140.0 185.8,135.0 185.7,130.4 185.1,126.2 184.1,122.3 183.1,118.5 182.3,114.8 181.9,111.1 182.1,107.2 183.2,103.0 183.2,103.0 181.7,107.1 181.0,111.1 181.0,115.0 181.5,118.8 182.0,122.7 182.5,126.6 182.7,130.5 182.3,134.6 181.3,139.0Z" fill="#a3d566" fill-opacity="0.5"/>
<path d="M201.2,141.3 201.5,135.9 200.5,131.3 198.6,127.5 196.4,124.3 194.2,121.5 192.2,118.9 190.7,116.3 189.8,113.4 190.0,110.0 190.0,110.0 188.7,113.3 188.4,116.8 188.9,120.3 189.8,123.8 190.8,127.2 191.6,130.3 191.8,133.1 191.3,135.5 190.2,137.7Z" fill="#6fb83a"/>
<path d="M199.7,140.2 200.2,136.1 199.5,132.5 197.9,129.4 195.9,126.5 193.9,123.9 191.9,121.3 190.5,118.7 189.8,116.0 190.2,113.0 190.2,113.0 189.4,116.0 189.7,119.0 190.8,122.0 192.4,124.9 194.1,127.7 195.6,130.6 196.5,133.4 196.7,136.1 195.9,138.8Z" fill="#a3d566" fill-opacity="0.5"/>
<path d="M199.0,138.3 197.7,133.8 197.1,129.4 197.2,125.0 197.6,120.4 198.2,115.8 198.7,111.2 198.7,106.5 198.1,101.8 196.5,97.0 196.5,97.0 197.0,101.9 196.5,106.3 195.3,110.5 193.7,114.6 191.9,118.9 190.1,123.5 188.7,128.6 188.0,134.3 188.3,140.7Z" fill="#6fb83a"/>
<path d="M197.5,139.0 196.5,134.3 196.2,129.8 196.5,125.5 197.1,121.3 197.8,117.1 198.4,113.0 198.6,108.7 198.1,104.4 196.7,100.0 196.7,100.0 197.7,104.5 197.8,108.7 197.2,112.8 196.2,116.8 195.1,120.8 194.0,125.1 193.2,129.6 193.1,134.6 193.7,140.0Z" fill="#a3d566" fill-opacity="0.5"/>
<path d="M215.9,140.7 215.7,134.4 214.6,128.8 212.8,123.9 210.8,119.5 208.7,115.5 206.7,111.7 205.2,107.8 204.2,103.6 204.0,99.0 204.0,99.0 202.8,103.6 202.3,108.2 202.5,112.7 203.0,117.3 203.6,121.7 204.0,126.0 204.0,130.2 203.5,134.2 202.3,138.3Z" fill="#78bf40"/>
<path d="M213.9,140.0 214.1,134.7 213.4,129.9 211.9,125.5 210.1,121.5 208.1,117.7 206.3,114.0 204.9,110.2 204.1,106.2 204.2,102.0 204.2,102.0 203.6,106.3 203.9,110.4 204.9,114.5 206.2,118.5 207.7,122.5 208.9,126.5 209.7,130.6 209.9,134.7 209.2,139.0Z" fill="#a3d566" fill-opacity="0.5"/>
<path d="M222.4,140.6 222.2,134.5 221.3,129.0 220.0,124.0 218.6,119.5 217.1,115.4 215.7,111.3 214.7,107.1 214.0,102.8 214.0,98.0 214.0,98.0 212.5,102.6 211.6,107.2 211.0,111.8 210.8,116.3 210.6,120.7 210.3,125.1 209.8,129.5 209.0,133.9 207.6,138.4Z" fill="#82c548"/>
<path d="M220.3,139.9 220.5,134.6 220.0,129.8 219.0,125.3 217.8,121.2 216.5,117.3 215.3,113.4 214.4,109.5 213.9,105.4 214.2,101.0 214.2,101.0 213.4,105.4 213.3,109.6 213.6,113.7 214.3,117.8 215.0,121.9 215.7,126.0 216.0,130.2 215.9,134.5 215.1,139.1Z" fill="#a3d566" fill-opacity="0.5"/>
<path d="M236.0,141.0 236.3,133.0 235.2,125.9 233.2,119.6 230.9,113.9 228.4,108.7 226.2,103.6 224.5,98.5 223.6,93.0 224.0,87.0 224.0,87.0 222.2,92.9 221.6,98.8 221.8,104.6 222.6,110.4 223.5,116.1 224.2,121.7 224.4,127.2 223.8,132.5 222.2,138.0Z" fill="#78bf40"/>
<path d="M234.1,140.1 234.7,133.2 234.0,127.0 232.3,121.2 230.2,115.9 227.9,110.9 225.8,105.9 224.2,100.9 223.6,95.6 224.2,90.0 224.2,90.0 223.1,95.6 223.2,101.0 224.3,106.4 225.9,111.6 227.7,116.9 229.2,122.2 230.2,127.6 230.3,133.1 229.3,138.9Z" fill="#a3d566" fill-opacity="0.5"/>
<path d="M237.3,140.8 238.0,133.0 237.7,125.8 236.9,119.4 235.8,113.3 234.7,107.7 233.8,102.1 233.3,96.4 233.6,90.4 235.0,84.0 235.0,84.0 232.5,90.2 230.9,96.2 230.1,102.1 229.7,108.0 229.5,113.9 229.3,119.8 228.8,125.7 227.7,131.8 225.9,138.2Z" fill="#78bf40"/>
<path d="M235.7,140.0 236.7,133.0 236.7,126.5 236.1,120.5 235.2,114.9 234.2,109.4 233.4,104.1 233.2,98.6 233.6,93.0 235.2,87.0 235.2,87.0 233.2,92.9 232.3,98.6 232.1,104.2 232.5,109.7 233.0,115.2 233.5,120.8 233.6,126.5 233.1,132.6 231.7,139.0Z" fill="#a3d566" fill-opacity="0.5"/>
<path d="M248.3,141.7 248.9,135.2 248.3,129.3 247.0,124.2 245.3,119.8 243.5,115.8 242.1,111.9 241.1,108.0 241.0,103.8 242.0,99.0 242.0,99.0 239.5,103.4 238.1,107.9 237.5,112.5 237.4,117.0 237.5,121.4 237.5,125.7 237.0,129.7 236.0,133.5 234.2,137.3Z" fill="#6fb83a"/>
<path d="M246.3,140.3 247.3,135.0 247.0,130.0 246.0,125.6 244.5,121.6 242.9,117.8 241.6,114.0 240.8,110.3 240.9,106.3 242.2,102.0 242.2,102.0 240.4,106.2 239.8,110.3 240.0,114.4 240.8,118.4 241.8,122.4 242.7,126.4 243.1,130.4 242.8,134.4 241.5,138.7Z" fill="#a3d566" fill-opacity="0.5"/>
<path d="M254.0,141.0 254.8,134.8 254.8,129.2 254.2,124.1 253.4,119.5 252.6,115.1 251.9,110.9 251.8,106.6 252.4,102.0 254.0,97.0 254.0,97.0 251.4,101.7 249.7,106.2 248.7,110.8 248.2,115.3 247.9,119.9 247.5,124.3 246.9,128.8 245.9,133.3 244.1,138.0Z" fill="#6fb83a"/>
<path d="M252.6,140.1 253.7,134.7 253.9,129.8 253.6,125.2 252.9,121.0 252.2,116.9 251.7,112.9 251.7,108.8 252.4,104.5 254.2,100.0 254.2,100.0 252.1,104.4 250.9,108.7 250.5,112.9 250.6,117.0 251.0,121.2 251.2,125.4 251.2,129.7 250.6,134.2 249.2,138.9Z" fill="#a3d566" fill-opacity="0.5"/>
<path d="M267.1,138.1 266.0,135.6 265.2,133.0 264.8,130.4 264.5,127.6 264.4,124.7 264.1,121.8 263.5,118.8 262.5,115.9 261.0,113.0 261.0,113.0 261.5,116.1 261.3,118.9 260.7,121.5 259.8,124.1 258.8,126.7 257.8,129.6 256.9,132.9 256.5,136.7 256.7,140.9Z" fill="#6fb83a"/>
<path d="M265.7,139.0 264.8,136.2 264.3,133.6 264.1,131.1 264.0,128.6 264.0,126.1 263.8,123.6 263.3,121.1 262.5,118.6 261.2,116.0 261.2,116.0 262.2,118.7 262.6,121.3 262.6,123.7 262.3,126.1 262.0,128.5 261.6,131.0 261.4,133.8 261.5,136.8 262.0,140.0Z" fill="#a3d566" fill-opacity="0.5"/>
<path d="M277.6,140.4 277.6,134.8 277.1,129.6 276.1,125.0 275.0,120.7 273.8,116.7 272.7,112.7 272.0,108.7 271.7,104.5 272.0,100.0 272.0,100.0 270.6,104.4 269.7,108.7 269.2,113.0 269.1,117.3 269.0,121.5 268.9,125.7 268.5,129.9 267.8,134.1 266.6,138.6Z" fill="#82c548"/>
<path d="M276.0,139.9 276.4,134.9 276.1,130.4 275.4,126.2 274.4,122.3 273.3,118.5 272.4,114.8 271.8,111.1 271.7,107.2 272.2,103.0 272.2,103.0 271.3,107.1 271.0,111.1 271.2,115.0 271.7,118.8 272.3,122.7 272.8,126.6 273.1,130.6 272.9,134.7 272.2,139.1Z" fill="#a3d566" fill-opacity="0.5"/>
<path d="M291.3,138.3 289.7,133.4 288.5,128.7 287.6,124.1 286.7,119.6 285.8,115.2 284.8,110.7 283.6,106.2 282.0,101.7 280.0,97.0 280.0,97.0 280.6,102.0 280.7,106.6 280.4,111.0 279.8,115.3 279.1,119.7 278.4,124.3 277.8,129.3 277.4,134.7 277.5,140.7Z" fill="#82c548"/>
<path d="M289.3,139.1 288.2,134.1 287.3,129.5 286.6,125.2 285.9,121.0 285.2,116.8 284.4,112.8 283.3,108.6 282.0,104.4 280.2,100.0 280.2,100.0 281.5,104.5 282.3,108.9 282.9,113.0 283.2,117.1 283.3,121.2 283.4,125.5 283.6,129.9 283.9,134.7 284.5,139.9Z" fill="#a3d566" fill-opacity="0.5"/>
<path d="M298.0,140.7 297.9,133.7 296.9,127.3 295.2,121.7 293.2,116.7 291.2,111.9 289.3,107.4 287.8,102.8 286.9,97.9 287.0,92.5 287.0,92.5 285.6,97.8 285.0,103.0 285.2,108.3 285.7,113.4 286.2,118.5 286.7,123.5 286.7,128.4 286.1,133.3 284.8,138.3Z" fill="#69b236"/>
<path d="M296.1,139.9 296.4,133.9 295.8,128.3 294.4,123.3 292.6,118.6 290.7,114.1 288.9,109.6 287.6,105.2 286.9,100.5 287.2,95.5 287.2,95.5 286.4,100.5 286.6,105.3 287.5,110.1 288.8,114.7 290.2,119.4 291.4,124.1 292.2,128.9 292.3,133.8 291.5,139.1Z" fill="#a3d566" fill-opacity="0.5"/>
<path d="M307.0,138.0 305.4,133.4 304.3,129.0 303.6,124.7 303.1,120.3 302.7,115.9 302.1,111.5 301.0,107.0 299.4,102.5 297.0,98.0 297.0,98.0 298.3,102.9 298.7,107.4 298.5,111.6 297.9,115.7 297.0,120.0 296.2,124.5 295.6,129.4 295.5,134.9 296.1,141.0Z" fill="#6fb83a"/>
<path d="M305.5,138.9 304.2,134.3 303.3,129.8 302.8,125.6 302.6,121.5 302.3,117.5 301.7,113.5 300.9,109.4 299.4,105.3 297.2,101.0 297.2,101.0 299.0,105.4 300.1,109.6 300.5,113.6 300.6,117.6 300.4,121.6 300.3,125.7 300.3,130.1 300.7,134.9 301.7,140.1Z" fill="#a3d566" fill-opacity="0.5"/>
<path d="M305.0,138.3 303.7,133.8 303.1,129.6 303.1,125.3 303.5,120.8 304.1,116.4 304.4,111.8 304.4,107.2 303.7,102.6 302.0,98.0 302.0,98.0 302.6,102.8 302.2,107.1 301.2,111.2 299.7,115.3 298.0,119.4 296.3,123.9 295.0,128.9 294.4,134.5 294.7,140.7Z" fill="#82c548"/>
<path d="M303.6,139.0 302.5,134.4 302.2,130.1 302.5,125.9 303.0,121.8 303.7,117.7 304.2,113.6 304.3,109.5 303.7,105.3 302.2,101.0 302.2,101.0 303.3,105.4 303.5,109.5 303.0,113.5 302.1,117.4 301.1,121.3 300.1,125.5 299.4,129.9 299.3,134.7 300.0,140.0Z" fill="#a3d566" fill-opacity="0.5"/>
<path d="M316.9,140.9 317.2,133.5 316.4,126.9 314.9,120.9 312.9,115.6 310.9,110.6 309.2,105.8 307.9,100.9 307.4,95.7 308.0,90.0 308.0,90.0 306.1,95.5 305.3,101.0 305.3,106.5 305.7,111.9 306.3,117.2 306.8,122.5 306.8,127.7 306.1,132.8 304.6,138.1Z" fill="#74bb3c"/>
<path d="M315.1,140.0 315.8,133.6 315.3,127.8 314.0,122.4 312.3,117.4 310.5,112.7 308.8,108.0 307.7,103.2 307.3,98.3 308.2,93.0 308.2,93.0 306.9,98.2 306.8,103.3 307.5,108.3 308.7,113.3 310.0,118.2 311.3,123.2 312.0,128.2 311.9,133.4 310.8,139.0Z" fill="#a3d566" fill-opacity="0.5"/>
<path d="M325.0,138.7 323.7,132.1 322.8,125.9 322.2,119.9 321.8,114.0 321.5,108.1 321.1,102.2 320.5,96.3 319.5,90.2 318.0,84.0 318.0,84.0 318.0,90.3 317.4,96.3 316.5,102.0 315.2,107.6 313.9,113.3 312.6,119.2 311.4,125.7 310.6,132.6 310.4,140.3Z" fill="#6fb83a"/>
<path d="M322.9,139.2 322.0,132.6 321.5,126.5 321.2,120.7 321.0,115.1 320.9,109.6 320.7,104.1 320.2,98.6 319.4,92.9 318.2,87.0 318.2,87.0 318.9,93.0 319.1,98.6 319.0,104.1 318.7,109.5 318.3,115.0 317.8,120.6 317.5,126.6 317.5,132.9 317.8,139.8Z" fill="#a3d566" fill-opacity="0.5"/>
<path d="M325.3,138.4 324.0,133.6 323.4,128.9 323.4,124.2 323.7,119.3 324.2,114.4 324.6,109.3 324.7,104.3 324.2,99.1 323.0,94.0 323.0,94.0 322.7,99.2 321.6,103.9 320.0,108.3 318.0,112.7 315.9,117.2 313.8,122.1 312.1,127.6 310.9,133.7 310.6,140.6Z" fill="#74bb3c"/>
<path d="M323.2,139.1 322.4,134.0 322.2,129.1 322.4,124.5 323.0,120.0 323.6,115.5 324.2,111.0 324.4,106.4 324.2,101.8 323.2,97.0 323.2,97.0 323.6,101.8 323.3,106.4 322.6,110.7 321.5,115.0 320.2,119.4 319.1,124.0 318.2,128.8 317.8,134.1 318.0,139.9Z" fill="#a3d566" fill-opacity="0.5"/>
<path d="M343.2,141.1 343.7,134.4 342.9,128.3 341.4,123.0 339.5,118.3 337.6,114.0 335.9,109.8 334.7,105.6 334.3,101.0 335.0,96.0 335.0,96.0 333.0,100.8 332.1,105.7 331.9,110.5 332.3,115.4 332.8,120.1 333.2,124.7 333.1,129.1 332.4,133.5 330.8,137.9Z" fill="#82c548"/>
<path d="M341.5,140.1 342.3,134.4 341.8,129.3 340.6,124.6 338.9,120.2 337.1,116.1 335.6,112.0 334.5,107.9 334.3,103.6 335.2,99.0 335.2,99.0 333.8,103.6 333.6,108.0 334.2,112.4 335.3,116.7 336.6,121.0 337.7,125.3 338.4,129.7 338.3,134.2 337.2,138.9Z" fill="#a3d566" fill-opacity="0.5"/>
<path d="M338.3,140.8 338.7,134.8 338.6,129.4 338.1,124.4 337.5,119.7 337.0,115.4 336.6,111.0 336.5,106.6 336.9,102.0 338.0,97.0 338.0,97.0 335.7,101.6 334.0,106.2 332.7,110.7 331.7,115.1 330.9,119.6 330.1,124.1 329.2,128.6 327.9,133.3 326.3,138.2Z" fill="#74bb3c"/>
<path d="M336.6,140.0 337.4,134.7 337.5,129.8 337.3,125.3 336.9,121.0 336.5,116.9 336.2,112.9 336.3,108.8 336.9,104.5 338.2,100.0 338.2,100.0 336.5,104.4 335.4,108.7 334.8,112.9 334.6,117.0 334.6,121.1 334.5,125.3 334.2,129.7 333.6,134.2 332.4,139.0Z" fill="#a3d566" fill-opacity="0.5"/>
<path d="M354.8,141.5 355.1,134.9 354.1,129.0 352.3,124.1 350.0,119.8 347.8,115.9 345.8,112.3 344.3,108.6 343.6,104.6 344.0,100.0 344.0,100.0 342.1,104.4 341.3,108.9 341.3,113.5 341.9,118.0 342.5,122.4 343.0,126.6 342.9,130.4 342.1,134.0 340.6,137.5Z" fill="#6fb83a"/>
<path d="M352.8,140.3 353.5,134.9 352.8,130.1 351.3,125.8 349.3,121.9 347.2,118.2 345.4,114.6 344.0,111.0 343.5,107.2 344.2,103.0 344.2,103.0 343.0,107.1 343.0,111.2 343.8,115.2 345.3,119.1 346.8,123.1 348.2,127.0 349.0,130.8 348.9,134.7 347.9,138.7Z" fill="#a3d566" fill-opacity="0.5"/>
<path d="M357.7,138.6 356.5,134.1 355.8,129.8 355.3,125.5 355.1,121.3 354.9,117.1 354.6,112.9 354.0,108.7 353.0,104.4 351.5,100.0 351.5,100.0 352.0,104.6 351.9,108.8 351.4,112.8 350.6,116.8 349.6,120.8 348.7,125.1 347.9,129.7 347.5,134.8 347.6,140.4Z" fill="#78bf40"/>
<path d="M356.3,139.2 355.4,134.7 354.9,130.4 354.7,126.4 354.6,122.5 354.5,118.7 354.3,114.9 353.9,111.0 353.1,107.1 351.7,103.0 351.7,103.0 352.7,107.2 353.2,111.1 353.2,114.9 353.0,118.7 352.7,122.4 352.3,126.4 352.1,130.5 352.2,135.0 352.8,139.8Z" fill="#a3d566" fill-opacity="0.5"/>
<path d="M363.6,138.6 362.5,133.6 361.9,128.8 361.9,124.1 362.2,119.4 362.6,114.6 362.9,109.8 362.8,104.9 362.3,100.0 361.0,95.0 361.0,95.0 361.2,100.1 360.6,104.8 359.4,109.2 357.9,113.6 356.3,118.1 354.8,122.9 353.5,128.2 352.7,134.0 352.7,140.4Z" fill="#6fb83a"/>
<path d="M362.1,139.2 361.2,134.1 361.0,129.3 361.2,124.8 361.6,120.3 362.2,116.0 362.6,111.6 362.7,107.2 362.3,102.7 361.2,98.0 361.2,98.0 361.9,102.7 361.9,107.2 361.4,111.5 360.5,115.7 359.6,120.0 358.7,124.4 358.0,129.2 357.8,134.3 358.2,139.8Z" fill="#a3d566" fill-opacity="0.5"/>
<path d="M375.6,140.3 375.6,133.9 375.2,128.0 374.6,122.5 374.0,117.4 373.3,112.4 372.8,107.6 372.5,102.6 372.5,97.5 373.0,92.0 373.0,92.0 371.3,97.3 369.9,102.4 368.9,107.4 368.0,112.3 367.2,117.3 366.5,122.4 365.6,127.6 364.5,133.0 363.2,138.7Z" fill="#6fb83a"/>
<path d="M373.8,139.8 374.2,133.9 374.1,128.5 373.8,123.5 373.3,118.7 372.8,114.1 372.4,109.5 372.3,104.9 372.5,100.1 373.2,95.0 373.2,95.0 372.1,100.0 371.4,104.8 371.1,109.5 371.0,114.1 371.0,118.8 370.9,123.6 370.8,128.5 370.3,133.7 369.5,139.2Z" fill="#a3d566" fill-opacity="0.5"/>
<path d="M385.3,140.3 385.3,132.7 384.6,125.8 383.5,119.5 382.0,113.6 380.5,108.0 379.2,102.6 378.2,97.0 377.7,91.2 378.0,85.0 378.0,85.0 376.6,91.1 375.9,97.1 375.8,103.0 376.0,108.8 376.3,114.5 376.4,120.3 376.3,126.2 375.8,132.3 374.5,138.7Z" fill="#6fb83a"/>
<path d="M383.7,139.8 384.1,132.9 383.7,126.6 382.8,120.8 381.5,115.3 380.1,109.9 378.9,104.7 378.0,99.4 377.7,93.8 378.2,88.0 378.2,88.0 377.3,93.8 377.2,99.4 377.7,104.9 378.5,110.3 379.5,115.7 380.3,121.2 380.8,126.9 380.8,132.9 380.0,139.2Z" fill="#a3d566" fill-opacity="0.5"/>
<path d="M392.4,140.7 392.8,133.8 392.3,127.5 391.4,121.7 390.1,116.5 388.9,111.5 387.8,106.7 387.1,101.8 387.1,96.6 388.0,91.0 388.0,91.0 385.9,96.4 384.7,101.7 384.1,106.9 383.8,112.1 383.8,117.3 383.7,122.4 383.2,127.6 382.3,132.8 380.8,138.3Z" fill="#69b236"/>
<path d="M390.7,140.0 391.5,133.8 391.3,128.2 390.6,123.0 389.5,118.1 388.4,113.4 387.4,108.8 386.9,104.1 387.1,99.2 388.2,94.0 388.2,94.0 386.7,99.1 386.1,104.1 386.1,108.9 386.6,113.7 387.3,118.5 387.9,123.3 388.1,128.3 387.8,133.5 386.7,139.0Z" fill="#a3d566" fill-opacity="0.5"/>
<path d="M401.0,140.7 401.1,134.4 400.4,128.6 399.1,123.6 397.4,119.0 395.7,114.7 394.2,110.5 393.1,106.3 392.6,101.9 393.0,97.0 393.0,97.0 391.4,101.8 390.7,106.5 390.6,111.2 390.8,115.8 391.2,120.4 391.5,124.9 391.4,129.3 390.7,133.7 389.4,138.3Z" fill="#74bb3c"/>
<path d="M399.3,140.0 399.8,134.5 399.4,129.5 398.3,125.0 396.8,120.7 395.3,116.7 393.9,112.7 392.9,108.7 392.6,104.5 393.2,100.0 393.2,100.0 392.2,104.5 392.1,108.8 392.6,113.0 393.6,117.2 394.7,121.4 395.7,125.6 396.2,129.9 396.2,134.4 395.3,139.0Z" fill="#a3d566" fill-opacity="0.5"/>
<path d="M403.4,138.1 402.0,133.7 401.3,129.5 401.2,125.2 401.4,120.8 401.8,116.3 402.0,111.8 401.8,107.2 400.9,102.6 399.0,98.0 399.0,98.0 399.8,102.8 399.5,107.2 398.5,111.3 397.1,115.3 395.5,119.5 393.9,124.0 392.6,129.0 392.0,134.6 392.5,140.9Z" fill="#69b236"/>
<path d="M401.9,139.0 400.7,134.4 400.3,130.0 400.4,125.8 400.9,121.7 401.4,117.7 401.7,113.6 401.6,109.5 400.9,105.3 399.2,101.0 399.2,101.0 400.5,105.4 400.8,109.5 400.5,113.5 399.7,117.4 398.8,121.4 397.9,125.5 397.3,129.9 397.3,134.8 398.1,140.0Z" fill="#a3d566" fill-opacity="0.5"/>
<path d="M414.6,140.9 414.8,134.0 414.2,127.7 413.1,122.1 411.8,116.9 410.5,112.1 409.3,107.4 408.5,102.6 408.3,97.5 409.0,92.0 409.0,92.0 406.9,97.3 405.6,102.4 404.8,107.6 404.3,112.7 404.1,117.8 403.7,122.8 403.1,127.8 402.1,132.8 400.5,138.1Z" fill="#78bf40"/>
<path d="M412.6,140.0 413.2,134.0 413.0,128.4 412.2,123.3 411.0,118.5 409.9,113.9 408.9,109.4 408.3,104.8 408.3,100.1 409.2,95.0 409.2,95.0 407.8,100.0 407.2,104.9 407.3,109.6 407.7,114.3 408.4,119.0 408.9,123.7 409.1,128.6 408.7,133.6 407.7,139.0Z" fill="#a3d566" fill-opacity="0.5"/>
<path d="M415.8,140.5 416.0,134.8 415.9,129.6 415.6,124.8 415.2,120.3 414.9,116.0 414.6,111.7 414.6,107.4 415.1,102.9 416.0,98.0 416.0,98.0 414.0,102.6 412.3,107.0 411.0,111.3 410.0,115.6 409.1,120.0 408.2,124.4 407.2,128.9 406.0,133.5 404.6,138.5Z" fill="#78bf40"/>
<path d="M414.2,139.9 414.8,134.8 415.0,130.1 414.9,125.7 414.6,121.5 414.4,117.5 414.3,113.6 414.5,109.6 415.1,105.4 416.2,101.0 416.2,101.0 414.7,105.3 413.7,109.5 413.0,113.5 412.7,117.5 412.5,121.6 412.2,125.7 411.9,129.9 411.3,134.4 410.3,139.1Z" fill="#a3d566" fill-opacity="0.5"/>
<path d="M426.2,140.9 426.7,134.8 426.3,129.4 425.4,124.5 424.1,120.1 422.8,116.0 421.7,112.1 421.1,108.0 421.1,103.7 422.0,99.0 422.0,99.0 420.0,103.5 418.9,107.9 418.4,112.3 418.3,116.7 418.4,121.1 418.4,125.4 418.0,129.6 417.2,133.8 415.8,138.1Z" fill="#82c548"/>
<path d="M424.8,140.0 425.5,134.9 425.4,130.1 424.6,125.8 423.6,121.8 422.4,117.9 421.4,114.1 420.9,110.3 421.1,106.3 422.2,102.0 422.2,102.0 420.7,106.2 420.1,110.3 420.3,114.3 420.8,118.3 421.6,122.2 422.2,126.2 422.5,130.3 422.2,134.5 421.1,139.0Z" fill="#a3d566" fill-opacity="0.5"/>
<path d="M436.7,137.8 435.6,135.7 435.0,133.6 434.9,131.2 435.2,128.5 435.7,125.7 436.0,122.7 435.9,119.7 435.2,116.8 433.6,114.0 433.6,114.0 434.2,117.0 433.9,119.6 433.0,121.9 431.6,124.2 430.1,126.7 428.6,129.5 427.4,132.8 426.8,136.7 427.3,141.2Z" fill="#69b236"/>
<path d="M435.4,138.8 434.5,136.4 434.2,134.0 434.3,131.7 434.8,129.3 435.4,126.9 435.8,124.4 435.8,122.0 435.2,119.5 433.8,117.0 433.8,117.0 434.9,119.6 435.1,122.0 434.7,124.2 433.9,126.4 433.0,128.7 432.1,131.2 431.5,133.8 431.4,136.9 432.2,140.2Z" fill="#a3d566" fill-opacity="0.5"/>
<path d="M443.0,138.0 441.7,133.9 441.1,129.9 441.3,125.7 442.0,121.3 443.0,116.7 443.8,112.1 444.1,107.4 443.6,102.7 442.0,98.0 442.0,98.0 442.3,102.8 441.5,107.0 440.0,111.0 437.9,114.9 435.6,119.0 433.4,123.5 431.6,128.6 430.6,134.4 430.8,141.0Z" fill="#69b236"/>
<path d="M441.3,138.9 440.3,134.4 440.1,130.2 440.6,126.0 441.5,121.9 442.6,117.8 443.5,113.7 443.9,109.6 443.6,105.3 442.2,101.0 442.2,101.0 443.1,105.4 443.0,109.5 442.1,113.4 440.8,117.2 439.2,121.2 437.8,125.3 436.7,129.8 436.4,134.7 437.1,140.1Z" fill="#a3d566" fill-opacity="0.5"/>
<path d="M456.9,140.5 456.7,134.7 456.0,129.5 454.9,124.8 453.5,120.5 452.2,116.5 450.9,112.7 449.9,108.7 449.4,104.5 449.5,100.0 449.5,100.0 448.2,104.4 447.4,108.8 447.0,113.1 446.9,117.4 446.9,121.6 446.8,125.8 446.4,130.0 445.7,134.2 444.5,138.5Z" fill="#74bb3c"/>
<path d="M455.1,139.9 455.3,134.9 454.9,130.3 454.0,126.1 452.9,122.2 451.7,118.4 450.6,114.8 449.7,111.0 449.4,107.1 449.7,103.0 449.7,103.0 448.9,107.1 448.8,111.1 449.2,115.0 449.8,118.9 450.6,122.8 451.2,126.7 451.6,130.6 451.5,134.8 450.8,139.1Z" fill="#a3d566" fill-opacity="0.5"/>
<path d="M465.2,137.5 463.4,133.4 462.4,129.3 461.9,125.1 461.8,120.7 461.7,116.2 461.5,111.7 460.7,107.1 459.2,102.5 456.7,98.0 456.7,98.0 457.9,102.9 458.0,107.3 457.3,111.4 456.2,115.4 454.7,119.6 453.3,124.1 452.2,129.2 451.9,135.0 452.6,141.5Z" fill="#6fb83a"/>
<path d="M463.4,138.8 462.0,134.2 461.2,129.9 461.0,125.8 461.1,121.7 461.2,117.6 461.1,113.5 460.5,109.4 459.2,105.3 456.9,101.0 456.9,101.0 458.8,105.4 459.6,109.6 459.6,113.6 459.3,117.5 458.6,121.4 458.0,125.6 457.7,130.1 457.9,134.9 459.1,140.2Z" fill="#a3d566" fill-opacity="0.5"/>
<path d="M469.4,140.8 469.8,133.0 469.0,125.9 467.5,119.6 465.6,113.8 463.6,108.4 461.8,103.1 460.6,97.8 460.1,92.1 460.8,86.0 460.8,86.0 458.9,92.0 458.1,97.9 458.0,103.8 458.5,109.6 459.2,115.3 459.7,121.0 459.7,126.6 459.0,132.3 457.5,138.2Z" fill="#6fb83a"/>
<path d="M467.7,140.0 468.4,133.1 468.0,126.8 466.7,121.0 465.0,115.6 463.1,110.4 461.5,105.3 460.4,100.1 460.1,94.7 461.0,89.0 461.0,89.0 459.7,94.7 459.5,100.2 460.2,105.6 461.4,110.9 462.8,116.3 464.0,121.7 464.7,127.2 464.7,132.9 463.6,139.0Z" fill="#a3d566" fill-opacity="0.5"/>
<path d="M482.5,140.4 482.3,132.6 481.3,125.5 479.8,119.1 478.0,113.2 476.2,107.6 474.5,102.1 473.2,96.6 472.3,90.8 472.3,84.5 472.3,84.5 470.9,90.7 470.2,96.8 470.1,102.7 470.3,108.6 470.5,114.5 470.7,120.4 470.5,126.3 469.8,132.3 468.5,138.6Z" fill="#6fb83a"/>
<path d="M480.5,139.8 480.7,132.9 480.1,126.4 478.9,120.5 477.3,114.9 475.6,109.6 474.1,104.3 472.9,98.9 472.3,93.4 472.5,87.5 472.5,87.5 471.8,93.4 471.9,99.1 472.6,104.6 473.6,110.1 474.7,115.6 475.7,121.1 476.3,126.9 476.3,132.8 475.6,139.2Z" fill="#a3d566" fill-opacity="0.5"/>
<path d="M481.4,137.9 479.9,133.9 479.3,130.1 479.3,126.1 479.8,121.9 480.5,117.6 481.0,113.2 481.0,108.8 480.0,104.4 478.0,100.0 478.0,100.0 479.0,104.6 478.8,108.7 477.8,112.5 476.2,116.3 474.4,120.3 472.6,124.6 471.2,129.4 470.7,134.9 471.4,141.1Z" fill="#82c548"/>
<path d="M480.0,138.9 478.8,134.6 478.4,130.6 478.7,126.6 479.4,122.7 480.2,118.9 480.7,115.0 480.8,111.1 480.1,107.1 478.2,103.0 478.2,103.0 479.7,107.2 480.1,111.1 479.6,114.8 478.6,118.5 477.4,122.2 476.3,126.2 475.6,130.4 475.5,135.0 476.6,140.1Z" fill="#a3d566" fill-opacity="0.5"/>
<path d="M488.6,141.3 489.1,134.9 488.6,129.3 487.3,124.3 485.7,119.9 484.1,115.8 482.7,111.9 481.7,108.0 481.5,103.7 482.5,99.0 482.5,99.0 480.3,103.5 479.2,107.9 478.8,112.5 478.9,117.0 479.2,121.4 479.3,125.6 479.1,129.7 478.2,133.7 476.7,137.7Z" fill="#82c548"/>
<path d="M486.9,140.2 487.8,134.9 487.5,130.1 486.5,125.7 485.1,121.7 483.6,117.8 482.3,114.1 481.5,110.3 481.5,106.3 482.7,102.0 482.7,102.0 481.1,106.2 480.6,110.3 481.0,114.4 481.8,118.4 482.8,122.4 483.7,126.4 484.2,130.4 484.0,134.5 482.8,138.8Z" fill="#a3d566" fill-opacity="0.5"/>
<path d="M497.4,138.0 495.9,133.7 495.1,129.4 494.9,125.1 495.0,120.8 495.2,116.3 495.3,111.7 494.9,107.2 493.8,102.6 491.8,98.0 491.8,98.0 492.6,102.8 492.5,107.2 491.6,111.3 490.3,115.4 488.8,119.5 487.3,124.0 486.2,129.0 485.6,134.7 486.1,141.0Z" fill="#78bf40"/>
<path d="M495.8,138.9 494.6,134.3 494.1,130.0 494.1,125.8 494.4,121.7 494.8,117.6 495.0,113.6 494.7,109.5 493.8,105.3 492.0,101.0 492.0,101.0 493.4,105.4 493.9,109.6 493.7,113.5 493.0,117.4 492.2,121.4 491.5,125.5 491.0,130.0 491.0,134.8 491.9,140.1Z" fill="#a3d566" fill-opacity="0.5"/>
<path d="M504.6,137.9 503.0,133.6 502.2,129.4 501.9,125.1 502.0,120.7 502.2,116.3 502.2,111.7 501.7,107.1 500.5,102.6 498.4,98.0 498.4,98.0 499.4,102.8 499.4,107.2 498.6,111.3 497.4,115.4 495.9,119.6 494.5,124.1 493.4,129.1 492.9,134.8 493.5,141.1Z" fill="#78bf40"/>
<path d="M503.0,138.9 501.8,134.3 501.2,130.0 501.2,125.8 501.4,121.7 501.8,117.6 501.9,113.6 501.6,109.5 500.5,105.3 498.6,101.0 498.6,101.0 500.2,105.4 500.7,109.6 500.6,113.5 500.1,117.4 499.3,121.4 498.6,125.5 498.1,130.0 498.2,134.8 499.2,140.1Z" fill="#a3d566" fill-opacity="0.5"/>
<path d="M510.3,136.9 508.9,135.1 508.2,133.1 507.9,130.5 508.3,127.5 508.9,124.1 509.3,120.6 509.3,117.0 508.3,113.6 506.3,110.5 506.3,110.5 506.9,113.9 506.4,116.8 505.1,119.3 503.3,121.8 501.3,124.5 499.2,127.7 497.5,131.6 496.6,136.5 497.2,142.1Z" fill="#78bf40"/>
<path d="M508.5,138.5 507.4,135.8 507.0,133.2 507.2,130.6 507.7,127.8 508.5,125.0 509.0,122.1 509.0,119.2 508.3,116.4 506.5,113.5 506.5,113.5 507.8,116.5 508.0,119.3 507.5,121.8 506.5,124.3 505.2,126.9 504.1,129.8 503.2,132.9 503.1,136.5 504.0,140.5Z" fill="#a3d566" fill-opacity="0.5"/>
<path d="M521.3,140.8 521.6,134.8 520.9,129.4 519.5,124.6 517.9,120.3 516.2,116.4 514.6,112.5 513.5,108.7 513.0,104.5 513.5,100.0 513.5,100.0 511.9,104.4 511.2,108.8 511.2,113.2 511.5,117.6 512.0,121.8 512.3,126.0 512.3,130.1 511.7,134.1 510.4,138.2Z" fill="#6fb83a"/>
<path d="M519.8,140.0 520.3,134.9 519.9,130.3 518.8,126.0 517.3,122.1 515.7,118.4 514.3,114.7 513.4,111.0 513.0,107.2 513.7,103.0 513.7,103.0 512.7,107.1 512.6,111.1 513.1,115.1 514.2,118.9 515.3,122.8 516.3,126.7 516.9,130.7 516.9,134.7 516.0,139.0Z" fill="#a3d566" fill-opacity="0.5"/>
<path d="M524.1,138.0 522.3,132.1 521.5,126.4 521.5,120.6 521.8,114.9 522.4,109.0 522.8,103.1 522.6,97.1 521.5,91.1 519.3,85.0 519.3,85.0 520.2,91.3 519.8,97.0 518.6,102.4 516.8,107.8 514.8,113.3 512.8,119.2 511.3,125.7 510.6,133.0 511.1,141.0Z" fill="#69b236"/>
<path d="M522.2,138.9 520.9,132.7 520.4,126.8 520.6,121.2 521.2,115.7 521.9,110.3 522.4,104.9 522.3,99.4 521.5,93.8 519.5,88.0 519.5,88.0 521.0,93.9 521.4,99.4 520.9,104.7 519.9,109.9 518.7,115.3 517.6,120.8 516.8,126.7 516.7,133.1 517.7,140.1Z" fill="#a3d566" fill-opacity="0.5"/>
<path d="M539.7,140.4 539.7,133.4 538.8,127.1 537.3,121.4 535.5,116.2 533.6,111.3 531.9,106.5 530.6,101.6 529.9,96.5 530.0,91.0 530.0,91.0 528.7,96.5 528.3,101.8 528.4,107.1 529.0,112.4 529.6,117.6 530.1,122.8 530.2,127.9 529.7,133.1 528.5,138.6Z" fill="#82c548"/>
<path d="M538.1,139.8 538.4,133.7 537.8,128.0 536.6,122.8 535.0,118.0 533.2,113.3 531.6,108.7 530.4,104.0 529.9,99.2 530.2,94.0 530.2,94.0 529.5,99.2 529.6,104.1 530.4,109.0 531.6,113.8 532.9,118.6 534.1,123.5 534.8,128.5 534.9,133.6 534.2,139.2Z" fill="#a3d566" fill-opacity="0.5"/>
<path d="M552.0,137.7 550.2,133.3 549.1,129.1 548.4,124.8 547.9,120.4 547.5,116.0 546.9,111.5 545.8,107.0 544.2,102.5 541.7,98.0 541.7,98.0 542.9,102.9 543.1,107.4 542.6,111.5 541.7,115.6 540.7,119.9 539.6,124.4 538.7,129.4 538.5,135.0 539.0,141.3Z" fill="#82c548"/>
<path d="M550.2,138.8 548.8,134.2 547.9,129.8 547.5,125.6 547.2,121.6 546.9,117.5 546.4,113.5 545.6,109.4 544.1,105.3 541.9,101.0 541.9,101.0 543.7,105.4 544.6,109.6 545.0,113.6 544.9,117.5 544.6,121.5 544.4,125.7 544.3,130.1 544.7,134.9 545.6,140.2Z" fill="#a3d566" fill-opacity="0.5"/>
<path d="M551.8,141.1 552.4,134.9 552.0,129.2 551.1,124.2 549.8,119.7 548.5,115.5 547.5,111.4 546.8,107.3 546.9,102.9 548.0,98.0 548.0,98.0 545.7,102.6 544.3,107.1 543.6,111.6 543.4,116.1 543.3,120.6 543.2,125.0 542.7,129.3 541.7,133.5 540.1,137.9Z" fill="#69b236"/>
<path d="M550.2,140.1 551.1,134.8 551.0,129.9 550.2,125.4 549.2,121.3 548.0,117.3 547.1,113.5 546.6,109.5 546.9,105.4 548.2,101.0 548.2,101.0 546.5,105.3 545.7,109.5 545.8,113.6 546.2,117.7 546.9,121.8 547.5,125.9 547.7,130.1 547.3,134.4 546.1,138.9Z" fill="#a3d566" fill-opacity="0.5"/>
<path d="M561.5,140.6 561.6,134.3 561.3,128.5 560.7,123.2 560.1,118.3 559.4,113.6 558.9,109.0 558.7,104.2 558.9,99.3 559.6,94.0 559.6,94.0 557.6,99.0 556.1,103.9 554.9,108.7 553.9,113.5 553.1,118.2 552.3,123.1 551.4,128.0 550.3,133.1 548.8,138.4Z" fill="#69b236"/>
<path d="M559.6,139.9 560.1,134.2 560.2,129.0 559.9,124.2 559.4,119.6 558.9,115.2 558.5,110.9 558.5,106.4 558.8,101.9 559.8,97.0 559.8,97.0 558.4,101.8 557.5,106.4 557.1,110.9 557.0,115.3 557.0,119.7 556.9,124.3 556.7,129.0 556.2,133.9 555.2,139.1Z" fill="#a3d566" fill-opacity="0.5"/>
<path d="M568.3,141.2 569.0,135.9 568.8,131.1 568.0,126.9 566.9,123.2 565.8,119.8 565.0,116.5 564.5,113.1 564.7,109.5 566.0,105.5 566.0,105.5 563.8,109.2 562.4,112.9 561.7,116.7 561.5,120.4 561.5,124.1 561.4,127.6 561.0,131.1 560.1,134.4 558.6,137.8Z" fill="#78bf40"/>
<path d="M567.0,140.1 567.9,135.8 568.0,131.8 567.4,128.2 566.4,124.8 565.4,121.6 564.7,118.5 564.4,115.4 564.8,112.1 566.2,108.5 566.2,108.5 564.4,112.0 563.6,115.3 563.6,118.7 564.0,122.0 564.6,125.3 565.1,128.6 565.2,131.9 564.8,135.3 563.6,138.9Z" fill="#a3d566" fill-opacity="0.5"/>
<path d="M588.1,137.9 586.5,133.7 585.4,129.6 584.7,125.5 584.2,121.3 583.7,117.1 583.1,112.9 582.1,108.6 580.6,104.3 578.4,100.0 578.4,100.0 579.3,104.6 579.4,108.9 578.9,112.9 578.1,116.8 577.1,120.8 576.0,125.1 575.2,129.9 574.9,135.2 575.2,141.1Z" fill="#6fb83a"/>
<path d="M586.3,138.9 585.1,134.5 584.3,130.3 583.8,126.3 583.5,122.5 583.2,118.6 582.7,114.8 581.9,111.0 580.5,107.1 578.6,103.0 578.6,103.0 580.1,107.2 580.9,111.2 581.2,115.0 581.2,118.7 581.0,122.5 580.8,126.4 580.7,130.6 581.0,135.2 581.8,140.1Z" fill="#a3d566" fill-opacity="0.5"/>
<path d="M595.5,138.1 594.0,133.6 593.1,129.2 592.6,124.9 592.4,120.5 592.3,116.1 592.0,111.6 591.3,107.1 589.9,102.6 587.8,98.0 587.8,98.0 588.8,102.8 588.9,107.3 588.4,111.5 587.4,115.6 586.3,119.8 585.2,124.3 584.3,129.3 584.0,134.8 584.5,140.9Z" fill="#78bf40"/>
<path d="M594.0,139.0 592.7,134.3 592.1,129.9 591.8,125.7 591.8,121.6 591.8,117.6 591.6,113.5 591.1,109.5 589.9,105.3 588.0,101.0 588.0,101.0 589.5,105.4 590.3,109.6 590.4,113.6 590.1,117.5 589.7,121.5 589.2,125.6 589.0,130.0 589.3,134.8 590.1,140.0Z" fill="#a3d566" fill-opacity="0.5"/>
<path d="M598.8,141.7 599.4,135.2 598.9,129.5 597.8,124.4 596.3,120.0 594.9,115.9 593.6,112.1 592.9,108.1 592.9,103.8 594.0,99.0 594.0,99.0 591.5,103.4 589.8,107.8 589.0,112.3 588.6,116.8 588.5,121.2 588.2,125.5 587.6,129.5 586.5,133.4 584.7,137.3Z" fill="#82c548"/>
<path d="M596.9,140.3 597.8,135.0 597.7,130.1 596.8,125.7 595.5,121.7 594.2,117.8 593.2,114.1 592.6,110.3 592.8,106.3 594.2,102.0 594.2,102.0 592.3,106.2 591.5,110.3 591.6,114.3 592.1,118.4 592.9,122.4 593.5,126.3 593.7,130.3 593.3,134.4 592.0,138.7Z" fill="#a3d566" fill-opacity="0.5"/>
<path d="M555.2,140.0 555.1,136.4 555.0,133.1 554.8,130.1 554.6,127.2 554.4,124.4 554.4,121.6 554.4,118.7 554.5,115.8 554.9,112.6 554.9,112.6 553.8,115.6 552.8,118.4 551.9,121.2 551.1,124.0 550.4,126.8 549.7,129.6 549.0,132.6 548.2,135.7 547.4,139.0Z" fill="#74bb3c"/>
<path d="M290.0,138.9 289.2,135.8 288.7,132.9 288.5,130.0 288.4,127.2 288.4,124.3 288.3,121.4 288.0,118.4 287.5,115.5 286.5,112.5 286.5,112.5 286.7,115.6 286.5,118.5 286.0,121.2 285.2,123.9 284.4,126.6 283.6,129.5 283.0,132.7 282.6,136.2 282.6,140.1Z" fill="#5eaa2f"/>
<path d="M460.4,139.1 459.8,135.5 459.4,132.1 459.4,128.8 459.5,125.5 459.6,122.3 459.7,119.0 459.7,115.7 459.4,112.3 458.7,108.8 458.7,108.8 458.6,112.3 458.1,115.5 457.4,118.6 456.4,121.7 455.4,124.8 454.5,128.1 453.6,131.7 453.1,135.6 452.9,139.9Z" fill="#53a02a"/>
<path d="M402.8,140.1 402.9,136.1 402.5,132.5 401.7,129.2 400.8,126.3 399.8,123.5 399.0,120.7 398.3,117.9 398.1,115.0 398.3,111.9 398.3,111.9 397.4,115.0 397.1,118.0 397.0,121.0 397.2,124.0 397.5,127.0 397.7,129.9 397.7,132.8 397.4,135.8 396.7,138.9Z" fill="#5eaa2f"/>
<path d="M272.8,139.3 272.4,137.4 272.1,135.5 272.0,133.7 272.0,131.8 272.1,129.8 272.2,127.8 272.3,125.8 272.2,123.8 271.9,121.8 271.9,121.8 271.4,123.7 270.7,125.5 269.9,127.2 269.0,128.9 268.1,130.7 267.2,132.6 266.3,134.7 265.7,137.1 265.3,139.7Z" fill="#68b334"/>
<path d="M244.6,139.5 244.3,136.6 244.2,133.9 244.3,131.3 244.4,128.7 244.6,126.2 244.9,123.6 245.1,121.0 245.2,118.3 245.1,115.6 245.1,115.6 244.5,118.2 243.8,120.8 242.9,123.2 242.0,125.5 241.1,128.0 240.2,130.5 239.4,133.3 238.7,136.3 238.3,139.5Z" fill="#74bb3c"/>
<path d="M328.6,139.7 328.2,137.0 327.9,134.5 327.6,132.1 327.4,129.8 327.2,127.5 327.0,125.3 326.9,122.9 326.7,120.6 326.7,118.1 326.7,118.1 325.9,120.4 325.1,122.7 324.3,124.9 323.5,127.0 322.7,129.2 321.9,131.5 321.2,133.9 320.5,136.5 319.8,139.3Z" fill="#53a02a"/>
<path d="M329.2,139.6 328.8,135.4 328.2,131.5 327.4,127.9 326.5,124.6 325.5,121.4 324.6,118.2 323.7,115.0 323.0,111.7 322.6,108.2 322.6,108.2 322.4,111.8 322.4,115.2 322.5,118.6 322.7,121.9 323.0,125.2 323.1,128.6 323.2,132.0 323.0,135.6 322.6,139.4Z" fill="#5eaa2f"/>
<path d="M221.6,138.9 221.0,137.4 220.7,136.0 220.5,134.4 220.6,132.7 220.7,130.9 220.8,129.0 220.8,127.2 220.6,125.3 220.0,123.5 220.0,123.5 219.8,125.3 219.3,126.9 218.5,128.4 217.6,129.8 216.6,131.4 215.6,133.1 214.8,135.1 214.1,137.5 213.9,140.1Z" fill="#53a02a"/>
<path d="M502.0,140.0 502.0,135.6 501.5,131.6 500.5,128.0 499.2,124.7 497.9,121.5 496.8,118.5 495.8,115.4 495.3,112.2 495.4,108.7 495.4,108.7 494.7,112.2 494.6,115.6 494.9,118.9 495.4,122.3 496.0,125.6 496.5,128.9 496.7,132.2 496.6,135.5 495.9,139.0Z" fill="#5eaa2f"/>
<path d="M226.2,139.1 225.6,136.0 225.4,133.0 225.4,130.1 225.6,127.2 225.9,124.2 226.1,121.2 226.2,118.2 226.1,115.2 225.7,112.0 225.7,112.0 225.3,115.1 224.7,118.0 223.8,120.7 222.7,123.4 221.6,126.2 220.5,129.2 219.6,132.4 218.9,135.9 218.6,139.9Z" fill="#5eaa2f"/>
<path d="M455.4,139.3 454.8,136.1 454.2,133.2 453.5,130.4 452.7,127.8 452.0,125.3 451.2,122.8 450.4,120.3 449.6,117.7 448.8,115.0 448.8,115.0 448.9,117.8 448.9,120.5 448.9,123.2 448.9,125.7 448.8,128.3 448.7,131.0 448.6,133.7 448.4,136.6 448.2,139.7Z" fill="#68b334"/>
<path d="M434.3,139.1 433.7,136.8 433.4,134.6 433.3,132.4 433.3,130.2 433.3,128.0 433.3,125.7 433.2,123.5 432.8,121.2 432.2,118.9 432.2,118.9 432.2,121.3 431.9,123.4 431.4,125.5 430.7,127.5 430.0,129.6 429.3,131.8 428.7,134.3 428.3,137.0 428.2,139.9Z" fill="#68b334"/>
<path d="M399.0,139.7 398.7,136.3 398.1,133.2 397.5,130.3 396.8,127.6 396.1,125.0 395.4,122.5 394.8,120.0 394.3,117.3 394.0,114.4 394.0,114.4 393.5,117.3 393.1,120.0 392.8,122.7 392.6,125.4 392.4,128.0 392.1,130.7 391.8,133.4 391.4,136.3 390.8,139.3Z" fill="#74bb3c"/>
<path d="M233.3,140.3 233.3,136.4 233.0,132.8 232.5,129.5 231.9,126.5 231.3,123.7 230.8,120.9 230.5,118.1 230.4,115.1 230.8,111.9 230.8,111.9 229.6,115.0 228.6,117.9 228.0,120.9 227.5,123.8 227.1,126.7 226.7,129.7 226.2,132.6 225.4,135.6 224.5,138.7Z" fill="#53a02a"/>
<path d="M430.2,139.9 429.9,136.1 429.1,132.6 428.0,129.5 426.8,126.7 425.5,124.1 424.3,121.6 423.3,119.0 422.5,116.3 422.1,113.4 422.1,113.4 421.7,116.4 421.6,119.3 421.7,122.2 422.0,125.1 422.4,127.9 422.6,130.7 422.6,133.5 422.3,136.2 421.7,139.1Z" fill="#74bb3c"/>
<path d="M535.3,139.4 534.7,135.7 534.1,132.2 533.3,129.0 532.5,126.0 531.6,123.0 530.8,120.2 529.9,117.3 529.1,114.2 528.4,111.1 528.4,111.1 528.5,114.3 528.6,117.5 528.8,120.5 529.0,123.5 529.1,126.5 529.3,129.6 529.3,132.7 529.2,136.0 529.0,139.6Z" fill="#53a02a"/>
<path d="M304.7,139.4 304.2,136.3 303.7,133.4 303.3,130.7 303.0,128.1 302.6,125.5 302.2,123.0 301.8,120.4 301.3,117.8 300.8,115.0 300.8,115.0 300.7,117.8 300.4,120.4 300.0,123.0 299.6,125.5 299.2,128.0 298.8,130.7 298.4,133.5 298.0,136.4 297.7,139.6Z" fill="#5eaa2f"/>
<path d="M276.5,139.9 276.2,137.1 275.8,134.7 275.2,132.4 274.6,130.4 274.0,128.4 273.4,126.5 272.9,124.6 272.6,122.6 272.4,120.4 272.4,120.4 271.8,122.5 271.4,124.6 271.1,126.7 270.8,128.7 270.6,130.8 270.4,132.8 270.1,134.9 269.6,137.0 269.1,139.1Z" fill="#74bb3c"/>
<path d="M448.6,140.0 448.4,136.8 448.1,133.9 447.8,131.2 447.4,128.7 447.0,126.3 446.7,123.8 446.5,121.4 446.5,118.8 446.6,116.1 446.6,116.1 445.6,118.6 444.7,121.1 444.0,123.6 443.3,126.0 442.6,128.5 442.0,130.9 441.4,133.5 440.6,136.1 439.8,139.0Z" fill="#5eaa2f"/>
<path d="M273.3,139.4 272.9,137.2 272.7,135.0 272.6,132.9 272.7,130.8 272.8,128.6 273.0,126.4 273.1,124.2 273.1,121.9 272.9,119.6 272.9,119.6 272.3,121.8 271.5,123.8 270.6,125.7 269.6,127.7 268.5,129.6 267.5,131.8 266.6,134.1 265.9,136.7 265.4,139.6Z" fill="#74bb3c"/>
<path d="M436.8,139.6 436.5,136.1 436.2,132.8 436.0,129.7 435.8,126.7 435.6,123.7 435.5,120.8 435.4,117.9 435.2,114.8 435.2,111.6 435.2,111.6 434.5,114.7 433.8,117.7 433.1,120.6 432.4,123.4 431.7,126.3 431.0,129.3 430.4,132.4 429.8,135.8 429.2,139.4Z" fill="#53a02a"/>
<path d="M316.5,139.8 316.2,137.2 315.7,134.8 315.1,132.7 314.4,130.8 313.7,129.0 313.0,127.2 312.4,125.4 312.0,123.5 311.7,121.4 311.7,121.4 311.2,123.5 311.0,125.5 310.8,127.5 310.6,129.4 310.5,131.4 310.4,133.3 310.1,135.2 309.8,137.2 309.3,139.2Z" fill="#5eaa2f"/>
<path d="M238.0,138.9 237.4,136.3 237.2,133.7 237.4,131.1 237.9,128.4 238.6,125.7 239.2,122.9 239.5,120.1 239.4,117.2 238.8,114.4 238.8,114.4 238.8,117.2 238.2,119.8 237.2,122.3 235.9,124.7 234.6,127.2 233.3,129.9 232.2,132.9 231.6,136.3 231.6,140.1Z" fill="#74bb3c"/>
<path d="M404.3,140.1 404.2,137.5 404.0,135.2 403.8,133.1 403.6,131.1 403.3,129.2 403.2,127.3 403.1,125.3 403.2,123.3 403.4,121.1 403.4,121.1 402.5,123.1 401.6,125.1 400.9,127.0 400.3,128.9 399.7,130.8 399.1,132.7 398.6,134.7 397.9,136.8 397.2,138.9Z" fill="#53a02a"/>
<path d="M402.6,140.3 402.8,136.3 402.6,132.8 402.1,129.5 401.4,126.5 400.8,123.7 400.3,121.0 400.0,118.2 400.0,115.2 400.5,112.0 400.5,112.0 399.2,115.1 398.4,118.0 397.9,121.0 397.5,123.9 397.3,126.8 397.1,129.7 396.7,132.7 396.0,135.6 395.1,138.7Z" fill="#68b334"/>
<path d="M200.2,138.9 199.5,136.8 198.9,134.7 198.3,132.6 197.9,130.6 197.4,128.6 196.9,126.6 196.3,124.6 195.6,122.6 194.7,120.5 194.7,120.5 194.8,122.7 194.6,124.8 194.3,126.7 193.9,128.7 193.5,130.6 193.0,132.7 192.6,134.9 192.3,137.4 192.1,140.1Z" fill="#5eaa2f"/>
<path d="M396.7,139.8 396.5,136.6 396.2,133.8 395.7,131.1 395.2,128.6 394.7,126.3 394.2,123.9 393.8,121.6 393.5,119.1 393.4,116.5 393.4,116.5 392.9,119.0 392.4,121.6 392.1,124.0 391.9,126.4 391.7,128.9 391.5,131.3 391.2,133.8 390.8,136.5 390.2,139.2Z" fill="#74bb3c"/>
<path d="M269.3,139.4 268.9,137.0 268.4,134.8 268.0,132.8 267.6,130.8 267.2,128.8 266.8,126.9 266.3,125.0 265.9,123.0 265.4,120.9 265.4,120.9 265.2,123.0 265.0,125.0 264.7,127.0 264.4,128.9 264.1,130.9 263.8,132.9 263.5,135.0 263.2,137.2 262.9,139.6Z" fill="#5eaa2f"/>
<path d="M380.8,139.3 380.2,137.5 379.7,135.8 379.3,134.1 379.0,132.4 378.6,130.7 378.2,129.1 377.9,127.4 377.4,125.6 376.9,123.9 376.9,123.9 376.5,125.6 376.0,127.3 375.5,128.9 374.8,130.4 374.2,132.0 373.5,133.7 372.9,135.5 372.4,137.5 371.9,139.7Z" fill="#53a02a"/>
<path d="M160.6,139.9 160.6,135.6 160.3,131.7 159.8,128.1 159.2,124.7 158.6,121.5 158.0,118.3 157.6,115.1 157.5,111.7 157.7,108.1 157.7,108.1 156.9,111.7 156.3,115.1 156.0,118.4 155.8,121.7 155.7,125.0 155.5,128.4 155.3,131.8 154.8,135.3 154.1,139.1Z" fill="#53a02a"/>
<path d="M311.6,139.6 311.2,136.0 310.6,132.7 310.1,129.6 309.4,126.7 308.8,123.9 308.2,121.1 307.6,118.3 307.1,115.4 306.7,112.4 306.7,112.4 306.3,115.5 306.0,118.4 305.8,121.3 305.6,124.1 305.3,127.0 305.1,129.9 304.8,132.9 304.4,136.1 304.0,139.4Z" fill="#5eaa2f"/>
<path d="M319.8,139.0 319.1,136.2 318.8,133.6 318.7,131.0 318.8,128.3 319.0,125.6 319.1,122.9 319.1,120.1 318.8,117.3 318.2,114.5 318.2,114.5 318.0,117.3 317.5,119.9 316.7,122.4 315.7,124.8 314.7,127.4 313.6,130.0 312.8,133.0 312.2,136.3 312.0,140.0Z" fill="#68b334"/>
<path d="M148.3,139.0 147.7,137.2 147.4,135.5 147.3,133.7 147.3,131.9 147.3,130.1 147.3,128.2 147.2,126.4 146.9,124.5 146.3,122.6 146.3,122.6 146.3,124.5 146.0,126.3 145.4,127.9 144.8,129.6 144.1,131.3 143.4,133.1 142.8,135.1 142.3,137.4 142.3,140.0Z" fill="#68b334"/>
<path d="M361.9,138.8 361.0,136.4 360.2,134.1 359.4,131.8 358.7,129.7 357.9,127.6 357.1,125.5 356.1,123.4 355.1,121.3 353.9,119.1 353.9,119.1 354.3,121.6 354.5,123.8 354.5,126.0 354.3,128.1 354.2,130.3 354.0,132.5 353.8,134.9 353.6,137.4 353.5,140.2Z" fill="#53a02a"/>
<path d="M460.2,140.3 460.1,137.1 459.5,134.2 458.7,131.7 457.7,129.5 456.7,127.5 455.8,125.6 455.1,123.6 454.6,121.5 454.6,119.2 454.6,119.2 453.8,121.5 453.3,123.7 453.1,126.0 453.1,128.3 453.1,130.6 453.1,132.7 452.9,134.8 452.4,136.7 451.7,138.7Z" fill="#68b334"/>
<path d="M459.1,139.7 458.8,135.8 458.6,132.1 458.4,128.6 458.3,125.3 458.3,122.0 458.2,118.7 458.2,115.4 458.2,112.0 458.3,108.4 458.3,108.4 457.4,111.9 456.5,115.2 455.6,118.4 454.7,121.5 453.8,124.8 453.0,128.1 452.2,131.6 451.4,135.3 450.7,139.3Z" fill="#53a02a"/>
<path d="M589.8,139.7 589.4,135.9 588.8,132.4 588.0,129.1 587.1,126.1 586.2,123.3 585.4,120.5 584.6,117.7 584.0,114.7 583.6,111.6 583.6,111.6 583.2,114.8 583.0,117.8 582.9,120.8 582.9,123.8 583.0,126.8 582.9,129.8 582.8,132.8 582.5,136.0 581.9,139.3Z" fill="#68b334"/>
<path d="M559.1,140.3 559.3,137.6 559.2,135.1 559.0,132.8 558.7,130.7 558.4,128.8 558.2,126.9 558.2,124.9 558.4,122.9 559.0,120.6 559.0,120.6 557.8,122.6 556.9,124.6 556.2,126.6 555.7,128.6 555.2,130.6 554.8,132.6 554.3,134.6 553.6,136.6 552.8,138.7Z" fill="#68b334"/>
<path d="M447.8,139.9 447.6,135.9 447.1,132.2 446.4,128.9 445.5,125.8 444.7,122.9 443.8,120.0 443.2,117.1 442.7,114.0 442.6,110.7 442.6,110.7 441.9,114.0 441.5,117.1 441.3,120.2 441.2,123.3 441.2,126.4 441.1,129.5 440.9,132.6 440.5,135.7 439.8,139.1Z" fill="#68b334"/>
<path d="M282.6,139.9 282.5,137.4 282.2,135.0 281.7,132.9 281.1,131.0 280.5,129.2 280.0,127.4 279.6,125.6 279.4,123.7 279.4,121.7 279.4,121.7 278.7,123.7 278.3,125.6 278.1,127.6 277.9,129.5 277.8,131.4 277.6,133.3 277.4,135.2 277.0,137.1 276.5,139.1Z" fill="#74bb3c"/>
<path d="M159.3,138.5 158.4,136.3 157.6,134.1 156.9,132.0 156.3,129.9 155.7,127.7 155.0,125.6 154.1,123.4 153.0,121.3 151.7,119.1 151.7,119.1 152.2,121.6 152.4,123.8 152.3,126.0 152.0,128.0 151.7,130.1 151.4,132.4 151.1,134.8 150.9,137.5 151.0,140.5Z" fill="#5eaa2f"/>
<path d="M157.7,138.8 157.0,136.2 156.7,133.6 156.8,130.9 157.3,128.1 157.8,125.3 158.4,122.4 158.6,119.5 158.5,116.6 157.8,113.6 157.8,113.6 157.7,116.6 157.0,119.2 156.0,121.7 154.7,124.2 153.3,126.7 151.9,129.5 150.8,132.6 150.1,136.2 150.0,140.2Z" fill="#74bb3c"/>
<path d="M183.5,139.0 182.7,135.4 182.4,132.0 182.4,128.6 182.6,125.3 182.9,122.0 183.1,118.6 183.1,115.3 182.7,111.8 181.8,108.3 181.8,108.3 182.1,111.9 181.8,115.2 181.1,118.3 180.2,121.4 179.2,124.6 178.2,128.0 177.4,131.6 176.9,135.6 177.0,140.0Z" fill="#53a02a"/>
<path d="M207.7,139.6 207.2,136.6 206.4,133.9 205.5,131.5 204.5,129.3 203.4,127.2 202.4,125.3 201.4,123.2 200.6,121.1 200.0,118.9 200.0,118.9 199.8,121.3 199.8,123.6 199.8,125.9 200.0,128.2 200.1,130.4 200.2,132.7 200.1,134.9 199.8,137.1 199.4,139.4Z" fill="#68b334"/>
<path d="M300.0,138.8 299.1,135.8 298.5,133.1 298.1,130.3 297.9,127.6 297.6,124.9 297.3,122.1 296.8,119.4 295.9,116.6 294.7,113.8 294.7,113.8 295.2,116.8 295.3,119.5 295.1,122.2 294.7,124.7 294.2,127.4 293.6,130.2 293.2,133.2 293.1,136.6 293.3,140.2Z" fill="#53a02a"/>
<path d="M303.7,140.0 303.7,136.4 303.1,133.1 302.3,130.1 301.2,127.5 300.2,125.0 299.2,122.5 298.4,120.1 297.9,117.5 297.9,114.7 297.9,114.7 297.3,117.5 297.1,120.2 297.2,123.0 297.5,125.7 297.8,128.4 298.1,131.0 298.2,133.6 297.9,136.3 297.3,139.0Z" fill="#68b334"/>
<path d="M352.8,139.9 352.5,136.5 351.9,133.5 351.2,130.8 350.3,128.3 349.4,125.9 348.6,123.6 347.8,121.3 347.3,118.8 347.0,116.2 347.0,116.2 346.4,118.8 346.1,121.4 345.9,124.0 345.8,126.5 345.7,129.0 345.5,131.5 345.3,134.0 344.9,136.5 344.2,139.1Z" fill="#74bb3c"/>
<path d="M366.7,139.4 366.2,136.2 365.6,133.3 365.1,130.5 364.6,127.8 364.1,125.2 363.6,122.7 363.1,120.1 362.6,117.4 362.0,114.6 362.0,114.6 361.8,117.5 361.6,120.2 361.3,122.8 360.9,125.4 360.6,128.0 360.2,130.6 359.9,133.4 359.5,136.4 359.2,139.6Z" fill="#74bb3c"/>
<path d="M401.2,138.1 400.5,137.2 400.1,136.3 400.0,134.9 400.2,133.3 400.6,131.4 400.9,129.5 401.0,127.5 400.6,125.7 399.6,124.0 399.6,124.0 399.7,125.8 399.2,127.3 398.4,128.5 397.3,129.8 396.1,131.2 394.8,132.9 393.7,135.1 393.0,137.8 393.2,140.9Z" fill="#53a02a"/>
<path d="M275.5,139.5 275.1,135.7 274.8,132.0 274.6,128.6 274.5,125.3 274.4,122.0 274.3,118.7 274.2,115.4 274.1,112.1 273.9,108.5 273.9,108.5 273.3,112.0 272.6,115.3 271.8,118.5 271.0,121.6 270.3,124.8 269.5,128.2 268.8,131.7 268.2,135.4 267.6,139.5Z" fill="#53a02a"/>
<path d="M305.6,140.1 305.5,137.6 305.2,135.3 304.7,133.3 304.1,131.5 303.5,129.8 303.0,128.2 302.6,126.5 302.4,124.7 302.4,122.8 302.4,122.8 301.7,124.6 301.1,126.4 300.7,128.3 300.4,130.1 300.1,131.9 299.8,133.6 299.5,135.4 299.0,137.1 298.3,138.9Z" fill="#53a02a"/>
<path d="M346.1,138.7 345.3,136.0 344.8,133.4 344.5,130.8 344.4,128.2 344.4,125.5 344.3,122.7 344.0,119.9 343.4,117.2 342.3,114.4 342.3,114.4 342.5,117.3 342.2,119.9 341.6,122.4 340.8,124.8 339.8,127.4 338.9,130.1 338.1,133.1 337.7,136.5 337.7,140.3Z" fill="#68b334"/>
<path d="M250.3,138.3 249.6,137.1 249.1,135.8 248.9,134.3 248.9,132.6 249.0,130.8 249.0,128.9 248.7,127.1 248.1,125.3 247.1,123.5 247.1,123.5 247.4,125.4 247.2,127.1 246.6,128.5 245.8,130.0 245.0,131.5 244.1,133.3 243.3,135.3 243.0,137.9 243.2,140.7Z" fill="#53a02a"/>
<path d="M269.9,138.7 269.1,136.1 268.9,133.6 269.0,130.9 269.5,128.2 270.1,125.3 270.6,122.5 270.8,119.5 270.6,116.6 269.8,113.7 269.8,113.7 269.9,116.6 269.3,119.3 268.3,121.8 267.0,124.2 265.6,126.8 264.3,129.6 263.1,132.7 262.4,136.3 262.5,140.3Z" fill="#5eaa2f"/>
<path d="M204.7,139.6 204.5,136.4 204.2,133.3 203.9,130.5 203.6,127.8 203.3,125.1 203.1,122.5 202.9,119.9 202.7,117.1 202.7,114.2 202.7,114.2 202.1,117.1 201.6,119.8 201.1,122.4 200.6,125.0 200.2,127.7 199.8,130.4 199.3,133.2 198.9,136.2 198.4,139.4Z" fill="#74bb3c"/>
<path d="M387.2,139.7 387.0,135.7 386.8,132.0 386.6,128.6 386.3,125.3 386.0,122.1 385.8,118.9 385.7,115.7 385.6,112.4 385.7,108.9 385.7,108.9 385.0,112.3 384.4,115.6 383.9,118.8 383.4,122.0 383.0,125.2 382.5,128.5 382.1,131.9 381.6,135.4 381.0,139.3Z" fill="#68b334"/>
<path d="M236.3,138.7 235.5,136.1 235.1,133.6 234.9,131.1 235.0,128.5 235.1,125.9 235.1,123.2 234.9,120.5 234.3,117.9 233.3,115.2 233.3,115.2 233.7,118.0 233.5,120.5 232.9,123.0 232.2,125.3 231.3,127.8 230.4,130.4 229.7,133.3 229.3,136.6 229.5,140.3Z" fill="#5eaa2f"/>
<path d="M467.5,139.1 467.0,137.3 466.7,135.5 466.4,133.8 466.3,132.0 466.2,130.2 466.1,128.4 465.9,126.5 465.6,124.7 465.0,122.8 465.0,122.8 464.9,124.7 464.5,126.5 464.0,128.1 463.4,129.7 462.7,131.4 462.1,133.2 461.5,135.2 461.1,137.4 460.9,139.9Z" fill="#53a02a"/>
<path d="M576.4,138.9 575.5,136.2 574.8,133.6 574.1,131.2 573.5,128.8 572.9,126.5 572.2,124.1 571.4,121.8 570.4,119.4 569.3,116.9 569.3,116.9 569.7,119.6 569.8,122.1 569.7,124.5 569.5,126.8 569.3,129.1 569.0,131.6 568.7,134.2 568.6,137.0 568.6,140.1Z" fill="#53a02a"/>
<path d="M501.4,139.6 501.3,137.6 501.0,135.7 500.6,134.0 500.1,132.4 499.5,130.9 499.0,129.4 498.6,127.9 498.2,126.4 498.1,124.7 498.1,124.7 497.9,126.4 497.9,128.0 498.0,129.6 498.1,131.2 498.3,132.8 498.4,134.4 498.4,136.0 498.4,137.6 498.1,139.4Z" fill="#26561a" fill-opacity="0.65"/>
<path d="M198.0,139.6 197.8,137.5 197.5,135.6 197.0,133.9 196.5,132.3 195.9,130.7 195.4,129.2 194.9,127.7 194.5,126.1 194.2,124.4 194.2,124.4 194.2,126.1 194.3,127.8 194.5,129.4 194.7,131.1 194.9,132.7 195.1,134.3 195.3,135.9 195.3,137.6 195.1,139.4Z" fill="#3b7a22" fill-opacity="0.65"/>
<path d="M588.8,139.7 588.6,138.8 588.5,137.9 588.5,137.0 588.4,136.2 588.4,135.3 588.5,134.4 588.5,133.5 588.6,132.6 588.6,131.7 588.6,131.7 588.2,132.5 587.7,133.3 587.2,134.0 586.7,134.7 586.2,135.5 585.7,136.3 585.2,137.2 584.8,138.2 584.4,139.3Z" fill="#3b7a22" fill-opacity="0.65"/>
<path d="M417.8,140.0 417.7,138.6 417.3,137.5 416.7,136.6 416.0,136.0 415.3,135.4 414.7,134.9 414.2,134.5 413.8,133.9 413.7,133.2 413.7,133.2 413.4,134.0 413.5,134.8 413.7,135.6 414.0,136.4 414.2,137.2 414.4,137.9 414.4,138.4 414.3,138.8 414.0,139.0Z" fill="#3b7a22" fill-opacity="0.65"/>
<path d="M436.8,139.8 436.8,138.0 436.7,136.4 436.5,134.9 436.2,133.5 436.0,132.1 435.8,130.8 435.6,129.5 435.6,128.1 435.8,126.7 435.8,126.7 435.3,128.1 434.9,129.5 434.7,130.8 434.5,132.2 434.3,133.5 434.2,134.9 434.0,136.3 433.7,137.7 433.3,139.2Z" fill="#26561a" fill-opacity="0.65"/>
<path d="M244.6,139.3 244.3,137.8 244.2,136.2 244.2,134.7 244.3,133.2 244.5,131.7 244.7,130.1 244.8,128.6 244.8,127.0 244.6,125.3 244.6,125.3 244.3,126.9 243.9,128.4 243.4,129.8 242.8,131.2 242.1,132.6 241.5,134.1 241.0,135.8 240.6,137.6 240.4,139.7Z" fill="#2f6a1a" fill-opacity="0.65"/>
<path d="M454.9,139.8 454.9,138.1 454.9,136.5 454.8,135.0 454.7,133.6 454.6,132.2 454.6,130.9 454.6,129.5 454.8,128.1 455.0,126.6 455.0,126.6 454.4,128.0 453.8,129.3 453.3,130.7 452.9,132.0 452.5,133.3 452.1,134.7 451.7,136.1 451.3,137.6 450.8,139.2Z" fill="#2f6a1a" fill-opacity="0.65"/>
<path d="M443.2,139.0 442.8,138.0 442.5,137.0 442.3,136.0 442.1,134.9 441.9,133.9 441.8,132.8 441.5,131.7 441.1,130.6 440.5,129.5 440.5,129.5 440.7,130.7 440.6,131.8 440.4,132.8 440.1,133.7 439.8,134.8 439.5,135.8 439.2,137.1 439.0,138.4 439.0,140.0Z" fill="#3b7a22" fill-opacity="0.65"/>
<path d="M322.8,139.2 322.4,138.0 322.1,136.8 321.8,135.6 321.5,134.5 321.2,133.5 320.8,132.4 320.4,131.3 320.0,130.2 319.4,129.1 319.4,129.1 319.7,130.3 319.8,131.4 319.9,132.5 319.9,133.6 319.8,134.7 319.7,135.8 319.7,137.1 319.7,138.4 319.7,139.8Z" fill="#2f6a1a" fill-opacity="0.65"/>
<path d="M587.3,139.6 587.2,137.8 587.0,136.2 586.7,134.7 586.3,133.3 586.0,132.0 585.7,130.7 585.4,129.3 585.2,127.9 585.0,126.5 585.0,126.5 584.9,127.9 584.8,129.4 584.8,130.8 584.8,132.1 584.8,133.5 584.8,134.9 584.8,136.3 584.6,137.8 584.5,139.4Z" fill="#26561a" fill-opacity="0.65"/>
<path d="M414.6,139.5 414.3,137.5 413.9,135.6 413.4,133.8 412.8,132.2 412.2,130.7 411.6,129.2 411.0,127.7 410.5,126.1 410.1,124.4 410.1,124.4 410.1,126.2 410.2,127.9 410.3,129.5 410.5,131.1 410.6,132.7 410.7,134.4 410.8,136.0 410.7,137.7 410.5,139.5Z" fill="#26561a" fill-opacity="0.65"/>
<path d="M243.3,139.4 243.1,137.5 243.0,135.8 243.0,134.2 243.1,132.5 243.3,130.9 243.4,129.3 243.5,127.7 243.4,126.0 243.1,124.3 243.1,124.3 243.1,126.0 242.9,127.6 242.6,129.2 242.2,130.7 241.7,132.3 241.3,133.9 240.9,135.7 240.7,137.6 240.7,139.6Z" fill="#2f6a1a" fill-opacity="0.65"/>
<path d="M310.6,139.6 310.5,137.6 310.3,135.8 310.0,134.1 309.7,132.5 309.3,131.0 309.0,129.5 308.8,128.0 308.6,126.4 308.6,124.7 308.6,124.7 308.3,126.4 308.1,128.0 307.9,129.6 307.9,131.1 307.8,132.7 307.8,134.3 307.6,135.9 307.4,137.6 307.2,139.4Z" fill="#2f6a1a" fill-opacity="0.65"/>
<path d="M466.9,139.5 466.8,137.4 466.8,135.4 466.8,133.5 466.8,131.7 466.9,129.9 466.9,128.2 467.0,126.4 467.0,124.5 467.1,122.6 467.1,122.6 466.8,124.5 466.4,126.3 466.0,128.1 465.6,129.8 465.3,131.5 464.9,133.3 464.6,135.2 464.3,137.3 464.1,139.5Z" fill="#2f6a1a" fill-opacity="0.65"/>
<path d="M547.3,139.3 546.9,137.6 546.8,136.0 546.8,134.4 546.9,132.8 547.0,131.3 547.1,129.7 547.1,128.1 546.9,126.5 546.6,124.9 546.6,124.9 546.6,126.6 546.5,128.1 546.2,129.6 545.8,131.1 545.4,132.6 545.0,134.1 544.6,135.8 544.4,137.7 544.4,139.7Z" fill="#26561a" fill-opacity="0.65"/>
<path d="M524.1,139.4 523.9,138.2 523.9,137.1 524.0,136.0 524.2,134.9 524.5,133.8 524.7,132.7 524.9,131.6 525.0,130.4 524.9,129.2 524.9,129.2 524.7,130.4 524.4,131.4 523.9,132.4 523.4,133.4 522.9,134.5 522.4,135.6 521.9,136.8 521.6,138.1 521.5,139.6Z" fill="#2f6a1a" fill-opacity="0.65"/>
<path d="M216.1,139.3 215.8,137.9 215.6,136.5 215.5,135.2 215.4,133.9 215.3,132.6 215.2,131.4 215.0,130.1 214.8,128.8 214.5,127.4 214.5,127.4 214.5,128.8 214.5,130.1 214.4,131.3 214.2,132.6 214.0,133.8 213.7,135.1 213.6,136.5 213.4,138.0 213.4,139.7Z" fill="#26561a" fill-opacity="0.65"/>
<path d="M211.0,139.6 210.9,138.1 210.7,136.7 210.4,135.4 210.1,134.2 209.7,133.1 209.4,132.0 209.2,130.9 209.0,129.7 208.9,128.4 208.9,128.4 208.7,129.7 208.6,130.9 208.5,132.1 208.5,133.3 208.5,134.5 208.5,135.6 208.5,136.8 208.4,138.1 208.1,139.4Z" fill="#26561a" fill-opacity="0.65"/>
<path d="M178.6,139.3 178.2,137.1 177.8,135.1 177.5,133.2 177.2,131.3 176.9,129.5 176.5,127.7 176.1,125.9 175.7,124.0 175.2,122.1 175.2,122.1 175.2,124.1 175.1,126.0 174.9,127.8 174.7,129.6 174.5,131.4 174.2,133.3 174.0,135.3 173.8,137.4 173.7,139.7Z" fill="#2f6a1a" fill-opacity="0.65"/>
<path d="M288.8,139.4 288.5,137.3 288.4,135.4 288.4,133.5 288.5,131.6 288.7,129.7 288.8,127.9 288.9,126.0 288.9,124.1 288.7,122.1 288.7,122.1 288.5,124.1 288.1,125.9 287.6,127.7 287.0,129.4 286.4,131.2 285.9,133.1 285.4,135.0 285.0,137.2 284.8,139.6Z" fill="#3b7a22" fill-opacity="0.65"/>
<path d="M266.0,139.9 265.9,138.3 265.5,136.8 264.9,135.6 264.3,134.6 263.6,133.7 263.1,132.9 262.6,132.0 262.2,131.1 262.1,130.0 262.1,130.0 261.8,131.1 261.6,132.2 261.7,133.3 261.9,134.4 262.0,135.5 262.1,136.5 262.1,137.5 261.9,138.3 261.6,139.1Z" fill="#3b7a22" fill-opacity="0.65"/>
<path d="M183.0,139.7 182.9,138.2 182.6,137.0 182.2,135.8 181.8,134.8 181.4,133.8 180.9,132.9 180.6,131.9 180.3,130.9 180.2,129.8 180.2,129.8 180.0,130.9 179.9,132.0 179.9,133.1 180.0,134.2 180.1,135.2 180.1,136.2 180.1,137.3 180.0,138.3 179.8,139.3Z" fill="#2f6a1a" fill-opacity="0.65"/>
<path d="M495.6,139.8 495.6,138.6 495.6,137.4 495.6,136.4 495.6,135.4 495.6,134.4 495.7,133.5 495.8,132.5 496.0,131.5 496.2,130.4 496.2,130.4 495.7,131.4 495.2,132.3 494.8,133.2 494.4,134.2 494.0,135.1 493.7,136.1 493.4,137.1 493.0,138.1 492.6,139.2Z" fill="#3b7a22" fill-opacity="0.65"/>
<path d="M291.0,139.7 291.0,137.7 290.8,135.9 290.6,134.3 290.4,132.7 290.2,131.2 289.9,129.7 289.8,128.2 289.8,126.7 289.9,125.0 289.9,125.0 289.5,126.6 289.2,128.2 289.1,129.7 289.0,131.3 288.9,132.8 288.8,134.3 288.7,135.9 288.5,137.6 288.2,139.3Z" fill="#3b7a22" fill-opacity="0.65"/>
<path d="M301.3,139.9 301.3,138.5 301.2,137.3 301.1,136.1 301.0,135.0 300.9,133.9 300.9,132.8 301.0,131.7 301.1,130.5 301.3,129.3 301.3,129.3 300.6,130.3 300.0,131.4 299.5,132.4 299.0,133.5 298.5,134.5 298.0,135.6 297.6,136.7 297.1,137.9 296.6,139.1Z" fill="#26561a" fill-opacity="0.65"/>
<path d="M261.4,139.3 261.1,137.6 260.9,135.9 260.7,134.3 260.6,132.7 260.6,131.2 260.5,129.6 260.3,128.1 260.1,126.5 259.7,124.8 259.7,124.8 259.8,126.5 259.7,128.1 259.5,129.6 259.2,131.1 258.9,132.6 258.7,134.2 258.4,135.9 258.3,137.7 258.2,139.7Z" fill="#26561a" fill-opacity="0.65"/>
<path d="M320.4,139.4 320.1,138.0 319.7,136.6 319.2,135.4 318.7,134.2 318.2,133.2 317.7,132.1 317.2,131.0 316.8,129.9 316.3,128.8 316.3,128.8 316.3,130.0 316.3,131.2 316.3,132.4 316.4,133.6 316.4,134.7 316.3,135.9 316.3,137.1 316.2,138.3 316.0,139.6Z" fill="#2f6a1a" fill-opacity="0.65"/>
<path d="M400.8,139.5 400.7,137.7 400.6,136.0 400.7,134.3 400.8,132.7 401.0,131.1 401.2,129.5 401.3,127.9 401.4,126.2 401.4,124.5 401.4,124.5 401.0,126.2 400.6,127.8 400.1,129.3 399.5,130.8 399.0,132.3 398.5,133.9 398.0,135.6 397.6,137.5 397.4,139.5Z" fill="#3b7a22" fill-opacity="0.65"/>
<path d="M529.5,139.6 529.3,138.7 529.0,137.9 528.6,137.2 528.3,136.6 527.9,136.0 527.5,135.5 527.1,135.0 526.8,134.5 526.6,133.8 526.6,133.8 526.5,134.5 526.4,135.2 526.4,135.9 526.5,136.5 526.5,137.2 526.5,137.8 526.4,138.3 526.3,138.9 526.1,139.4Z" fill="#26561a" fill-opacity="0.65"/>
<path d="M384.2,139.2 383.8,137.5 383.5,135.9 383.3,134.4 383.1,132.9 383.0,131.4 382.8,129.8 382.6,128.3 382.2,126.7 381.6,125.2 381.6,125.2 381.8,126.8 381.7,128.4 381.5,129.8 381.3,131.3 381.0,132.7 380.7,134.3 380.4,136.0 380.3,137.8 380.3,139.8Z" fill="#26561a" fill-opacity="0.65"/>
<path d="M133.7,139.6 133.5,137.2 133.3,135.1 133.0,133.1 132.6,131.3 132.3,129.5 131.9,127.7 131.6,125.9 131.4,124.0 131.2,122.0 131.2,122.0 131.0,124.0 131.0,125.9 130.9,127.8 130.9,129.6 130.9,131.4 130.9,133.3 130.8,135.2 130.7,137.3 130.5,139.4Z" fill="#26561a" fill-opacity="0.65"/>
<path d="M163.6,139.5 163.3,138.2 163.0,137.1 162.7,136.1 162.3,135.2 161.9,134.3 161.5,133.4 161.1,132.5 160.7,131.6 160.4,130.6 160.4,130.6 160.4,131.6 160.4,132.6 160.3,133.6 160.3,134.6 160.3,135.5 160.3,136.5 160.2,137.5 160.1,138.5 159.9,139.5Z" fill="#26561a" fill-opacity="0.65"/>
<path d="M352.7,139.3 352.4,138.1 352.1,137.0 351.7,136.0 351.4,135.0 351.1,134.0 350.7,133.1 350.4,132.1 350.0,131.1 349.6,130.1 349.6,130.1 349.6,131.2 349.6,132.2 349.5,133.2 349.4,134.2 349.3,135.2 349.2,136.2 349.1,137.3 348.9,138.4 348.8,139.7Z" fill="#2f6a1a" fill-opacity="0.65"/>
<path d="M475.8,139.7 475.9,138.1 475.8,136.6 475.7,135.2 475.5,133.9 475.3,132.7 475.1,131.5 475.1,130.2 475.1,128.9 475.3,127.6 475.3,127.6 474.8,128.9 474.5,130.2 474.2,131.4 474.1,132.7 473.9,133.9 473.8,135.2 473.6,136.5 473.3,137.8 473.0,139.3Z" fill="#26561a" fill-opacity="0.65"/>
<path d="M226.7,139.7 226.7,138.2 226.4,136.8 226.0,135.6 225.5,134.6 225.0,133.6 224.5,132.6 224.1,131.6 223.8,130.5 223.7,129.4 223.7,129.4 223.6,130.5 223.6,131.7 223.7,132.8 223.9,133.9 224.2,135.0 224.3,136.1 224.4,137.2 224.4,138.2 224.1,139.3Z" fill="#3b7a22" fill-opacity="0.65"/>
<path d="M385.4,139.3 385.1,137.5 384.9,135.8 384.9,134.2 384.9,132.6 385.0,131.0 385.1,129.4 385.1,127.7 384.9,126.0 384.6,124.3 384.6,124.3 384.6,126.1 384.4,127.7 384.0,129.2 383.6,130.7 383.1,132.3 382.7,133.9 382.3,135.7 382.0,137.6 382.0,139.7Z" fill="#26561a" fill-opacity="0.65"/>
<path d="M179.3,139.4 179.0,137.3 178.7,135.3 178.4,133.4 178.2,131.6 178.0,129.8 177.8,128.0 177.6,126.2 177.2,124.4 176.9,122.4 176.9,122.4 176.8,124.4 176.6,126.2 176.4,128.0 176.1,129.7 175.8,131.5 175.5,133.3 175.2,135.3 174.9,137.4 174.8,139.6Z" fill="#26561a" fill-opacity="0.65"/>
<path d="M343.5,139.2 343.2,138.6 343.2,137.9 343.3,137.2 343.6,136.4 344.0,135.5 344.3,134.7 344.6,133.8 344.6,132.9 344.4,132.0 344.4,132.0 344.3,132.9 344.0,133.6 343.6,134.3 343.0,134.9 342.4,135.6 341.8,136.4 341.2,137.4 340.9,138.5 340.9,139.8Z" fill="#26561a" fill-opacity="0.65"/>
<path d="M238.9,139.4 238.7,137.2 238.4,135.2 238.1,133.3 237.7,131.4 237.4,129.7 237.0,127.9 236.7,126.1 236.3,124.3 235.9,122.4 235.9,122.4 236.0,124.3 236.1,126.2 236.2,128.0 236.3,129.8 236.3,131.6 236.3,133.4 236.3,135.3 236.3,137.4 236.3,139.6Z" fill="#26561a" fill-opacity="0.65"/>
<path d="M177.1,139.7 176.9,138.6 176.8,137.5 176.6,136.5 176.6,135.5 176.5,134.5 176.5,133.6 176.5,132.5 176.5,131.5 176.5,130.4 176.5,130.4 176.0,131.4 175.5,132.3 175.0,133.2 174.5,134.1 174.0,135.0 173.6,136.0 173.1,137.0 172.7,138.1 172.3,139.3Z" fill="#3b7a22" fill-opacity="0.65"/>
<path d="M470.3,139.7 470.1,138.7 469.9,137.8 469.7,137.0 469.5,136.3 469.2,135.5 469.0,134.9 468.8,134.2 468.7,133.4 468.6,132.6 468.6,132.6 468.3,133.4 468.0,134.1 467.8,134.9 467.5,135.6 467.3,136.3 467.1,137.0 466.9,137.8 466.7,138.5 466.4,139.3Z" fill="#2f6a1a" fill-opacity="0.65"/>
<path d="M584.2,139.3 583.9,137.7 583.8,136.2 583.7,134.7 583.8,133.2 583.8,131.7 583.9,130.1 583.9,128.6 583.8,127.0 583.6,125.4 583.6,125.4 583.4,127.0 583.1,128.5 582.6,129.9 582.1,131.3 581.6,132.7 581.1,134.2 580.6,135.9 580.3,137.7 580.2,139.7Z" fill="#3b7a22" fill-opacity="0.65"/>
<path d="M338.0,139.5 337.7,138.6 337.4,137.7 337.2,136.9 336.9,136.1 336.6,135.3 336.3,134.6 336.0,133.8 335.8,133.0 335.5,132.2 335.5,132.2 335.3,133.1 335.0,133.8 334.8,134.6 334.5,135.4 334.3,136.1 334.0,136.9 333.8,137.7 333.5,138.6 333.2,139.5Z" fill="#2f6a1a" fill-opacity="0.65"/>
<path d="M160.9,139.4 160.6,137.4 160.3,135.6 160.2,133.9 160.1,132.2 160.0,130.5 159.9,128.8 159.8,127.1 159.6,125.4 159.3,123.6 159.3,123.6 159.2,125.4 158.9,127.1 158.6,128.7 158.2,130.3 157.8,132.0 157.5,133.7 157.1,135.5 156.8,137.5 156.7,139.6Z" fill="#26561a" fill-opacity="0.65"/>
<path d="M344.0,139.5 343.8,138.1 343.7,136.8 343.7,135.6 343.7,134.3 343.7,133.1 343.8,131.9 343.8,130.7 343.8,129.4 343.7,128.1 343.7,128.1 343.4,129.3 343.1,130.5 342.7,131.7 342.3,132.8 341.8,134.0 341.4,135.2 341.0,136.5 340.7,138.0 340.5,139.5Z" fill="#26561a" fill-opacity="0.65"/>
<path d="M318.0,139.7 317.8,138.0 317.5,136.5 317.1,135.1 316.6,133.8 316.2,132.6 315.7,131.5 315.3,130.3 315.0,129.1 314.8,127.8 314.8,127.8 314.5,129.1 314.3,130.4 314.2,131.7 314.1,133.0 314.0,134.2 313.8,135.5 313.6,136.7 313.4,138.0 313.1,139.3Z" fill="#2f6a1a" fill-opacity="0.65"/>
<path d="M380.0,139.4 379.8,139.0 379.7,138.5 379.7,137.9 379.8,137.2 380.0,136.5 380.2,135.8 380.3,135.0 380.4,134.3 380.4,133.5 380.4,133.5 380.1,134.2 379.7,134.7 379.2,135.2 378.7,135.7 378.1,136.2 377.6,136.9 377.0,137.6 376.6,138.5 376.4,139.6Z" fill="#26561a" fill-opacity="0.65"/>
<path d="M411.5,139.4 411.3,138.4 411.0,137.4 410.8,136.5 410.7,135.6 410.5,134.7 410.3,133.9 410.1,133.0 409.9,132.1 409.6,131.2 409.6,131.2 409.5,132.1 409.4,133.0 409.3,133.9 409.1,134.7 408.9,135.6 408.7,136.5 408.6,137.5 408.4,138.5 408.3,139.6Z" fill="#3b7a22" fill-opacity="0.65"/>
<path d="M554.5,139.2 554.1,138.1 553.7,137.1 553.3,136.1 553.0,135.2 552.5,134.3 552.1,133.5 551.6,132.6 551.1,131.7 550.6,130.7 550.6,130.7 550.9,131.8 551.1,132.8 551.2,133.7 551.3,134.7 551.4,135.6 551.5,136.6 551.5,137.6 551.6,138.6 551.6,139.8Z" fill="#2f6a1a" fill-opacity="0.65"/>
<path d="M195.8,139.2 195.5,138.6 195.5,138.0 195.5,137.3 195.6,136.6 195.8,135.8 195.9,135.0 196.0,134.3 195.9,133.5 195.7,132.7 195.7,132.7 195.7,133.5 195.5,134.1 195.1,134.8 194.7,135.4 194.3,136.0 193.8,136.8 193.4,137.6 193.2,138.6 193.2,139.8Z" fill="#26561a" fill-opacity="0.65"/>
<path d="M287.1,139.4 286.9,137.6 286.8,135.9 287.0,134.2 287.1,132.6 287.4,130.9 287.6,129.3 287.8,127.6 287.9,125.9 287.9,124.2 287.9,124.2 287.6,125.9 287.2,127.5 286.6,129.1 286.1,130.6 285.5,132.2 284.9,133.8 284.4,135.5 284.0,137.5 283.9,139.6Z" fill="#2f6a1a" fill-opacity="0.65"/>
<path d="M199.4,139.4 199.1,138.3 198.8,137.3 198.5,136.4 198.1,135.5 197.7,134.7 197.3,133.9 197.0,133.1 196.6,132.2 196.2,131.4 196.2,131.4 196.3,132.3 196.4,133.2 196.6,134.1 196.7,135.0 196.8,135.9 196.8,136.8 196.9,137.7 196.9,138.6 196.8,139.6Z" fill="#26561a" fill-opacity="0.65"/>
<path d="M319.5,139.0 319.2,138.7 319.0,138.3 318.8,137.7 318.8,137.0 318.9,136.2 319.0,135.4 319.0,134.6 318.9,133.8 318.6,133.0 318.6,133.0 318.4,133.8 318.1,134.4 317.6,134.9 317.1,135.4 316.6,136.0 316.0,136.7 315.5,137.6 315.1,138.7 315.0,140.0Z" fill="#26561a" fill-opacity="0.65"/>
<path d="M362.5,139.4 362.2,137.7 361.9,136.0 361.6,134.5 361.3,133.0 361.1,131.6 360.8,130.2 360.5,128.7 360.2,127.2 359.9,125.7 359.9,125.7 359.7,127.3 359.6,128.8 359.4,130.2 359.2,131.6 358.9,133.1 358.7,134.6 358.5,136.1 358.3,137.8 358.1,139.6Z" fill="#2f6a1a" fill-opacity="0.65"/>
<path d="M205.6,139.7 205.6,138.0 205.3,136.4 204.9,135.0 204.4,133.7 203.9,132.5 203.4,131.3 203.0,130.1 202.7,128.9 202.7,127.5 202.7,127.5 202.5,128.9 202.4,130.2 202.6,131.5 202.8,132.8 203.0,134.1 203.2,135.4 203.3,136.7 203.2,138.0 203.0,139.3Z" fill="#3b7a22" fill-opacity="0.65"/>
<path d="M500.4,139.5 500.3,137.3 500.1,135.3 499.9,133.4 499.8,131.6 499.6,129.8 499.5,128.0 499.3,126.3 499.2,124.4 499.0,122.5 499.0,122.5 498.9,124.4 498.7,126.3 498.6,128.0 498.4,129.8 498.2,131.6 498.1,133.4 497.9,135.3 497.8,137.3 497.6,139.5Z" fill="#26561a" fill-opacity="0.65"/>
<path d="M386.1,139.6 385.9,137.6 385.5,135.9 385.1,134.3 384.6,132.7 384.1,131.3 383.7,129.9 383.2,128.5 382.8,127.0 382.6,125.4 382.6,125.4 382.5,127.0 382.5,128.6 382.5,130.1 382.6,131.6 382.6,133.1 382.7,134.6 382.6,136.2 382.5,137.8 382.3,139.4Z" fill="#2f6a1a" fill-opacity="0.65"/>
<path d="M255.3,139.3 254.9,137.6 254.7,136.0 254.6,134.4 254.5,132.9 254.5,131.3 254.4,129.8 254.3,128.2 254.1,126.6 253.8,124.9 253.8,124.9 253.7,126.6 253.4,128.1 253.0,129.6 252.5,131.0 252.0,132.5 251.5,134.1 251.1,135.8 250.8,137.6 250.6,139.7Z" fill="#26561a" fill-opacity="0.65"/>
<path d="M162.1,139.5 161.9,138.0 161.6,136.6 161.3,135.3 160.9,134.1 160.5,132.9 160.2,131.7 159.8,130.6 159.5,129.4 159.2,128.1 159.2,128.1 159.2,129.4 159.2,130.7 159.2,131.9 159.2,133.1 159.2,134.3 159.2,135.5 159.2,136.8 159.1,138.1 159.0,139.5Z" fill="#3b7a22" fill-opacity="0.65"/>
<path d="M430.9,139.6 430.8,137.8 430.6,136.2 430.3,134.7 430.0,133.3 429.7,131.9 429.4,130.6 429.2,129.3 429.0,127.9 428.8,126.4 428.8,126.4 428.7,127.9 428.6,129.3 428.5,130.7 428.5,132.1 428.4,133.5 428.4,134.9 428.3,136.3 428.2,137.8 428.0,139.4Z" fill="#26561a" fill-opacity="0.65"/>
<path d="M193.1,139.8 193.0,138.5 192.8,137.3 192.6,136.2 192.3,135.2 192.0,134.3 191.8,133.4 191.6,132.5 191.5,131.5 191.5,130.4 191.5,130.4 191.1,131.4 190.8,132.4 190.5,133.4 190.3,134.3 190.1,135.3 189.9,136.3 189.7,137.2 189.4,138.2 189.1,139.2Z" fill="#26561a" fill-opacity="0.65"/>
<path d="M495.6,139.7 495.4,137.9 495.1,136.3 494.6,134.8 494.0,133.5 493.4,132.2 492.9,131.0 492.4,129.8 492.1,128.6 491.9,127.2 491.9,127.2 491.6,128.6 491.4,130.0 491.4,131.4 491.4,132.7 491.4,134.0 491.4,135.4 491.3,136.7 491.1,137.9 490.7,139.3Z" fill="#3b7a22" fill-opacity="0.65"/>
<path d="M190.5,139.7 190.4,137.7 190.2,135.9 189.9,134.2 189.6,132.7 189.2,131.2 188.9,129.7 188.6,128.2 188.5,126.7 188.4,125.0 188.4,125.0 188.1,126.6 187.8,128.2 187.7,129.8 187.6,131.3 187.5,132.8 187.4,134.4 187.2,136.0 187.0,137.6 186.7,139.3Z" fill="#3b7a22" fill-opacity="0.65"/>
<path d="M446.2,139.4 445.9,138.4 445.6,137.6 445.3,136.8 445.1,136.0 444.8,135.2 444.5,134.5 444.2,133.7 443.9,132.9 443.6,132.1 443.6,132.1 443.5,133.0 443.4,133.8 443.2,134.6 443.0,135.3 442.9,136.1 442.7,136.9 442.5,137.8 442.3,138.7 442.1,139.6Z" fill="#3b7a22" fill-opacity="0.65"/>
<path d="M396.9,139.3 396.5,138.4 396.1,137.7 395.6,137.0 395.2,136.4 394.7,135.8 394.2,135.3 393.8,134.8 393.3,134.2 392.9,133.6 392.9,133.6 392.9,134.4 392.8,135.1 392.8,135.8 392.8,136.5 392.7,137.1 392.6,137.8 392.5,138.4 392.3,139.1 392.1,139.7Z" fill="#26561a" fill-opacity="0.65"/>
<path d="M188.1,139.5 187.8,137.5 187.6,135.7 187.4,133.9 187.2,132.2 187.0,130.5 186.9,128.9 186.7,127.2 186.5,125.5 186.4,123.7 186.4,123.7 186.1,125.5 185.7,127.2 185.4,128.8 185.0,130.4 184.7,132.1 184.3,133.8 184.0,135.5 183.6,137.4 183.3,139.5Z" fill="#2f6a1a" fill-opacity="0.65"/>
<path d="M492.3,139.5 492.1,137.9 491.8,136.5 491.4,135.2 490.9,133.9 490.5,132.7 490.1,131.6 489.6,130.4 489.3,129.2 488.9,127.9 488.9,127.9 489.0,129.2 489.1,130.5 489.2,131.8 489.4,133.0 489.5,134.2 489.7,135.5 489.7,136.8 489.7,138.1 489.6,139.5Z" fill="#26561a" fill-opacity="0.65"/>
<path d="M226.4,139.5 226.2,137.7 226.0,136.0 225.8,134.4 225.5,132.9 225.3,131.5 225.1,130.0 224.8,128.6 224.6,127.1 224.4,125.5 224.4,125.5 224.3,127.1 224.2,128.6 224.1,130.1 223.9,131.5 223.8,133.0 223.7,134.5 223.5,136.1 223.4,137.7 223.2,139.5Z" fill="#26561a" fill-opacity="0.65"/>
<path d="M230.3,139.2 229.9,138.1 229.8,137.1 229.8,136.0 229.9,134.8 230.0,133.6 230.1,132.5 230.2,131.3 230.1,130.0 229.8,128.8 229.8,128.8 229.7,130.0 229.4,131.1 229.0,132.2 228.5,133.2 227.9,134.2 227.4,135.4 227.0,136.7 226.6,138.1 226.6,139.8Z" fill="#2f6a1a" fill-opacity="0.65"/>
<path d="M168.7,139.5 168.5,138.5 168.4,137.6 168.3,136.7 168.2,135.8 168.2,135.0 168.1,134.2 168.1,133.3 168.0,132.4 167.9,131.5 167.9,131.5 167.7,132.4 167.6,133.3 167.3,134.1 167.1,134.9 166.9,135.7 166.7,136.6 166.4,137.5 166.3,138.5 166.1,139.5Z" fill="#3b7a22" fill-opacity="0.65"/>
<path d="M358.9,139.8 358.9,137.8 358.7,136.1 358.4,134.5 358.0,133.0 357.7,131.6 357.4,130.2 357.2,128.9 357.1,127.4 357.2,125.8 357.2,125.8 356.7,127.4 356.4,128.8 356.3,130.3 356.2,131.8 356.1,133.2 356.1,134.7 355.9,136.1 355.7,137.7 355.3,139.2Z" fill="#3b7a22" fill-opacity="0.65"/>
<path d="M299.8,139.3 299.6,138.8 299.5,138.3 299.4,137.7 299.5,137.0 299.6,136.2 299.7,135.4 299.8,134.6 299.8,133.8 299.7,133.1 299.7,133.1 299.5,133.8 299.1,134.4 298.6,134.9 298.1,135.5 297.6,136.0 297.0,136.7 296.5,137.5 296.1,138.5 295.9,139.7Z" fill="#2f6a1a" fill-opacity="0.65"/>
<path d="M424.4,139.5 424.2,137.5 424.0,135.8 423.9,134.1 423.8,132.4 423.8,130.8 423.7,129.2 423.6,127.5 423.5,125.9 423.3,124.1 423.3,124.1 423.1,125.9 422.9,127.5 422.5,129.1 422.2,130.6 421.8,132.2 421.5,133.9 421.1,135.6 420.9,137.5 420.7,139.5Z" fill="#2f6a1a" fill-opacity="0.65"/>
<path d="M206.2,140.0 206.0,139.0 205.8,138.2 205.5,137.4 205.2,136.8 204.9,136.3 204.7,135.7 204.4,135.2 204.3,134.6 204.2,133.9 204.2,133.9 203.8,134.5 203.5,135.1 203.2,135.7 202.9,136.3 202.7,137.0 202.4,137.5 202.2,138.1 201.9,138.6 201.5,139.0Z" fill="#2f6a1a" fill-opacity="0.65"/>
<path d="M432.2,139.5 432.0,138.1 431.8,136.7 431.7,135.4 431.7,134.2 431.6,132.9 431.6,131.6 431.6,130.4 431.5,129.0 431.5,127.7 431.5,127.7 431.1,129.0 430.7,130.2 430.3,131.4 429.9,132.6 429.4,133.8 429.0,135.1 428.6,136.4 428.3,137.9 428.0,139.5Z" fill="#2f6a1a" fill-opacity="0.65"/>
<path d="M536.7,139.6 536.5,138.7 536.3,137.8 536.1,136.9 536.0,136.1 535.9,135.2 535.8,134.4 535.7,133.5 535.6,132.6 535.5,131.7 535.5,131.7 535.2,132.5 534.8,133.3 534.3,134.1 533.9,134.8 533.5,135.6 533.1,136.4 532.7,137.3 532.3,138.3 532.0,139.4Z" fill="#26561a" fill-opacity="0.65"/>
<path d="M497.6,139.8 497.5,138.5 497.2,137.3 496.7,136.4 496.1,135.6 495.6,134.9 495.0,134.2 494.6,133.5 494.3,132.7 494.2,131.9 494.2,131.9 494.0,132.8 494.0,133.7 494.2,134.6 494.5,135.5 494.8,136.3 495.0,137.1 495.1,137.9 495.0,138.6 494.8,139.2Z" fill="#2f6a1a" fill-opacity="0.65"/>
<path d="M577.8,139.5 577.6,138.3 577.3,137.3 576.9,136.3 576.4,135.4 576.0,134.6 575.5,133.8 575.1,133.1 574.7,132.2 574.4,131.3 574.4,131.3 574.4,132.3 574.5,133.2 574.6,134.1 574.8,135.1 575.0,135.9 575.1,136.8 575.1,137.7 575.1,138.6 574.9,139.5Z" fill="#2f6a1a" fill-opacity="0.65"/>
<path d="M263.0,138.9 262.6,138.2 262.2,137.4 262.0,136.6 261.7,135.8 261.5,134.9 261.3,134.0 261.0,133.1 260.5,132.2 259.9,131.3 259.9,131.3 260.1,132.3 260.0,133.2 259.8,134.0 259.6,134.8 259.3,135.6 259.0,136.5 258.7,137.6 258.5,138.8 258.5,140.1Z" fill="#3b7a22" fill-opacity="0.65"/>
<path d="M386.1,139.6 386.0,137.5 386.0,135.5 386.1,133.7 386.1,132.0 386.2,130.2 386.3,128.5 386.4,126.8 386.6,125.0 386.7,123.1 386.7,123.1 386.3,125.0 385.9,126.7 385.5,128.4 385.1,130.1 384.7,131.8 384.3,133.5 384.0,135.4 383.7,137.3 383.4,139.4Z" fill="#3b7a22" fill-opacity="0.65"/>
<path d="M441.6,139.2 441.3,138.2 441.0,137.3 440.6,136.3 440.3,135.5 440.0,134.6 439.7,133.7 439.3,132.9 438.9,132.0 438.4,131.1 438.4,131.1 438.6,132.1 438.6,133.0 438.6,133.9 438.6,134.8 438.6,135.7 438.5,136.6 438.4,137.6 438.4,138.6 438.4,139.8Z" fill="#26561a" fill-opacity="0.65"/>
<path d="M346.7,139.5 346.6,137.7 346.5,136.0 346.4,134.4 346.4,132.8 346.3,131.3 346.3,129.8 346.2,128.3 346.2,126.7 346.2,125.1 346.2,125.1 345.9,126.7 345.6,128.3 345.4,129.8 345.1,131.2 344.9,132.7 344.6,134.3 344.4,135.9 344.2,137.6 343.9,139.5Z" fill="#2f6a1a" fill-opacity="0.65"/>
<path d="M396.1,139.8 396.0,138.2 395.7,136.7 395.3,135.4 394.9,134.2 394.6,133.1 394.2,132.0 393.9,130.9 393.7,129.7 393.6,128.5 393.6,128.5 393.2,129.7 392.9,130.9 392.6,132.1 392.5,133.3 392.3,134.5 392.2,135.7 391.9,136.8 391.6,138.0 391.2,139.2Z" fill="#2f6a1a" fill-opacity="0.65"/>
<path d="M309.6,139.6 309.5,137.6 309.3,135.8 309.2,134.0 309.0,132.4 308.9,130.7 308.9,129.1 308.8,127.4 308.8,125.7 308.8,123.9 308.8,123.9 308.3,125.6 307.8,127.3 307.3,128.9 306.8,130.5 306.4,132.1 306.0,133.8 305.5,135.5 305.1,137.4 304.7,139.4Z" fill="#2f6a1a" fill-opacity="0.65"/>
<path d="M536.9,139.2 536.6,138.0 536.3,136.7 536.2,135.5 536.1,134.3 536.1,133.0 536.0,131.8 535.9,130.5 535.7,129.2 535.3,127.9 535.3,127.9 535.3,129.3 535.0,130.5 534.7,131.6 534.4,132.8 533.9,133.9 533.5,135.2 533.2,136.6 532.9,138.1 532.8,139.8Z" fill="#3b7a22" fill-opacity="0.65"/>
<path d="M240.3,140.0 240.3,139.0 240.3,138.1 240.2,137.3 240.2,136.6 240.1,135.9 240.1,135.2 240.2,134.4 240.3,133.6 240.5,132.8 240.5,132.8 240.0,133.5 239.5,134.1 239.0,134.8 238.6,135.5 238.2,136.2 237.9,136.9 237.5,137.6 237.1,138.3 236.7,139.0Z" fill="#2f6a1a" fill-opacity="0.65"/>
<path d="M175.5,139.5 175.3,137.8 175.2,136.2 175.2,134.6 175.2,133.1 175.3,131.6 175.3,130.1 175.4,128.6 175.4,127.0 175.3,125.4 175.3,125.4 175.0,127.0 174.6,128.5 174.2,129.9 173.7,131.3 173.2,132.7 172.7,134.3 172.3,135.9 171.9,137.6 171.7,139.5Z" fill="#3b7a22" fill-opacity="0.65"/>
<path d="M344.6,139.8 344.5,138.0 344.3,136.5 343.9,135.0 343.5,133.8 343.0,132.6 342.6,131.4 342.3,130.2 342.1,129.0 342.1,127.6 342.1,127.6 341.7,128.9 341.5,130.3 341.5,131.6 341.5,132.9 341.5,134.1 341.6,135.4 341.5,136.7 341.3,137.9 341.0,139.2Z" fill="#26561a" fill-opacity="0.65"/>
<path d="M537.9,139.4 537.7,138.8 537.6,138.2 537.6,137.6 537.6,137.0 537.6,136.3 537.6,135.7 537.6,135.0 537.6,134.3 537.4,133.7 537.4,133.7 537.3,134.3 537.0,134.9 536.7,135.4 536.4,136.0 536.1,136.6 535.7,137.2 535.4,137.9 535.2,138.7 535.0,139.6Z" fill="#26561a" fill-opacity="0.65"/>
<path d="M299.4,139.6 299.3,137.3 298.9,135.1 298.4,133.1 297.8,131.3 297.2,129.6 296.6,127.8 296.1,126.1 295.7,124.3 295.6,122.4 295.6,122.4 295.4,124.3 295.4,126.2 295.5,128.1 295.7,129.9 296.0,131.7 296.1,133.6 296.2,135.4 296.2,137.3 295.9,139.4Z" fill="#2f6a1a" fill-opacity="0.65"/>
<path d="M147.2,139.3 146.8,137.6 146.6,136.1 146.4,134.6 146.2,133.1 146.1,131.7 145.9,130.3 145.7,128.8 145.4,127.3 144.9,125.8 144.9,125.8 145.0,127.4 145.0,128.9 144.9,130.3 144.7,131.7 144.5,133.1 144.2,134.6 144.0,136.1 143.9,137.9 143.9,139.7Z" fill="#2f6a1a" fill-opacity="0.65"/>
<path d="M450.4,139.2 450.0,138.1 449.8,137.0 449.6,135.9 449.5,134.8 449.3,133.8 449.2,132.7 449.0,131.6 448.6,130.5 448.1,129.4 448.1,129.4 448.3,130.6 448.3,131.7 448.3,132.7 448.1,133.7 447.9,134.8 447.7,135.9 447.5,137.0 447.4,138.4 447.5,139.8Z" fill="#3b7a22" fill-opacity="0.65"/>
<path d="M487.6,139.3 487.2,137.6 487.0,136.0 486.9,134.4 486.9,132.8 487.0,131.3 487.0,129.7 486.9,128.1 486.8,126.4 486.5,124.8 486.5,124.8 486.3,126.4 486.0,128.0 485.6,129.5 485.1,130.9 484.6,132.4 484.0,134.0 483.6,135.7 483.3,137.6 483.1,139.7Z" fill="#2f6a1a" fill-opacity="0.65"/>
<path d="M308.8,139.5 308.5,137.8 308.0,136.3 307.5,135.0 307.0,133.7 306.4,132.5 305.9,131.3 305.4,130.2 304.9,128.9 304.5,127.6 304.5,127.6 304.4,129.0 304.4,130.4 304.5,131.7 304.5,133.0 304.6,134.2 304.6,135.5 304.5,136.8 304.4,138.1 304.2,139.5Z" fill="#2f6a1a" fill-opacity="0.65"/>
<path d="M297.3,139.7 297.3,138.1 297.3,136.7 297.2,135.3 297.1,134.0 297.0,132.8 296.9,131.6 296.9,130.3 297.0,129.0 297.2,127.7 297.2,127.7 296.7,129.0 296.2,130.2 295.9,131.5 295.6,132.7 295.4,133.9 295.1,135.2 294.9,136.5 294.5,137.8 294.2,139.3Z" fill="#2f6a1a" fill-opacity="0.65"/>
<path d="M410.8,139.2 410.6,138.8 410.5,138.4 410.6,137.8 410.8,137.1 411.1,136.4 411.4,135.7 411.6,135.0 411.7,134.2 411.6,133.5 411.6,133.5 411.4,134.2 411.1,134.7 410.6,135.2 410.1,135.7 409.5,136.3 408.9,136.9 408.4,137.7 408.0,138.6 407.9,139.8Z" fill="#3b7a22" fill-opacity="0.65"/>
<path d="M505.3,139.6 505.1,137.4 504.9,135.5 504.5,133.6 504.1,131.9 503.7,130.2 503.3,128.6 503.0,127.0 502.7,125.3 502.5,123.5 502.5,123.5 502.3,125.3 502.2,127.0 502.2,128.7 502.2,130.4 502.2,132.1 502.2,133.9 502.1,135.6 502.0,137.5 501.7,139.4Z" fill="#26561a" fill-opacity="0.65"/>
<path d="M227.7,139.3 227.4,138.7 227.3,138.2 227.3,137.5 227.4,136.8 227.5,136.0 227.7,135.2 227.8,134.4 227.8,133.6 227.6,132.8 227.6,132.8 227.4,133.5 227.0,134.1 226.6,134.7 226.1,135.3 225.5,135.9 225.0,136.6 224.5,137.5 224.1,138.5 223.9,139.7Z" fill="#2f6a1a" fill-opacity="0.65"/>
<path d="M554.7,139.2 554.4,138.4 554.2,137.6 554.0,136.7 554.0,135.9 553.9,135.1 553.8,134.2 553.6,133.4 553.3,132.5 552.9,131.7 552.9,131.7 553.0,132.6 553.0,133.4 552.9,134.2 552.7,135.0 552.5,135.8 552.3,136.6 552.1,137.6 552.0,138.6 552.1,139.8Z" fill="#3b7a22" fill-opacity="0.65"/>
<path d="M246.6,139.7 246.5,138.4 246.3,137.2 246.0,136.2 245.6,135.2 245.2,134.4 244.8,133.5 244.5,132.7 244.3,131.8 244.3,130.8 244.3,130.8 244.0,131.8 243.9,132.7 243.9,133.7 243.9,134.7 244.0,135.6 244.0,136.5 243.9,137.5 243.8,138.4 243.5,139.3Z" fill="#2f6a1a" fill-opacity="0.65"/>
<path d="M276.0,139.3 275.7,137.6 275.3,135.9 274.9,134.3 274.6,132.8 274.2,131.3 273.9,129.8 273.5,128.4 273.1,126.8 272.6,125.2 272.6,125.2 272.6,126.9 272.5,128.4 272.3,129.9 272.2,131.4 272.0,132.9 271.8,134.5 271.6,136.1 271.4,137.8 271.2,139.7Z" fill="#26561a" fill-opacity="0.65"/>
<path d="M141.2,139.2 140.8,138.1 140.5,137.1 140.3,136.1 140.1,135.1 139.9,134.1 139.7,133.1 139.4,132.1 139.0,131.1 138.6,130.1 138.6,130.1 138.7,131.2 138.7,132.2 138.5,133.2 138.3,134.1 138.1,135.1 137.9,136.1 137.7,137.2 137.6,138.5 137.5,139.8Z" fill="#3b7a22" fill-opacity="0.65"/>
<path d="M420.8,139.3 420.5,137.3 420.4,135.3 420.4,133.4 420.6,131.5 420.8,129.7 421.0,127.8 421.0,126.0 420.9,124.1 420.6,122.1 420.6,122.1 420.7,124.1 420.4,125.9 420.1,127.7 419.6,129.4 419.1,131.2 418.6,133.1 418.2,135.1 417.9,137.3 417.9,139.7Z" fill="#2f6a1a" fill-opacity="0.65"/>
<path d="M355.5,139.5 355.3,137.4 355.3,135.3 355.3,133.4 355.3,131.6 355.4,129.8 355.5,127.9 355.6,126.1 355.6,124.2 355.7,122.2 355.7,122.2 355.3,124.2 354.9,126.0 354.4,127.8 354.0,129.5 353.5,131.3 353.1,133.2 352.7,135.1 352.3,137.2 352.1,139.5Z" fill="#3b7a22" fill-opacity="0.65"/>
<path d="M209.0,139.5 208.7,137.9 208.4,136.4 208.1,135.0 207.8,133.6 207.5,132.3 207.1,131.1 206.8,129.8 206.5,128.4 206.2,127.0 206.2,127.0 206.0,128.5 205.9,129.8 205.7,131.1 205.5,132.4 205.3,133.7 205.1,135.1 204.9,136.5 204.7,137.9 204.4,139.5Z" fill="#26561a" fill-opacity="0.65"/>
<path d="M292.7,139.9 292.6,138.6 292.4,137.3 292.0,136.3 291.7,135.4 291.3,134.5 290.9,133.7 290.7,132.9 290.5,132.0 290.5,131.0 290.5,131.0 290.1,131.9 289.7,132.9 289.5,133.8 289.4,134.8 289.3,135.7 289.1,136.6 288.9,137.5 288.7,138.3 288.3,139.1Z" fill="#26561a" fill-opacity="0.65"/>
<path d="M469.0,139.8 468.9,138.4 468.7,137.1 468.4,136.0 468.0,135.0 467.7,134.0 467.4,133.1 467.1,132.2 466.9,131.2 466.9,130.1 466.9,130.1 466.5,131.1 466.3,132.2 466.2,133.2 466.1,134.2 466.0,135.3 465.9,136.3 465.8,137.2 465.5,138.2 465.2,139.2Z" fill="#26561a" fill-opacity="0.65"/>
<path d="M372.3,139.6 372.1,139.1 372.0,138.6 371.9,138.0 371.9,137.4 371.9,136.7 372.0,136.0 372.1,135.3 372.1,134.6 372.1,133.9 372.1,133.9 371.7,134.4 371.2,134.9 370.7,135.4 370.2,135.8 369.7,136.3 369.1,136.9 368.6,137.6 368.1,138.4 367.7,139.4Z" fill="#26561a" fill-opacity="0.65"/>
<path d="M391.2,139.9 391.3,138.8 391.2,137.8 391.0,137.0 390.7,136.2 390.5,135.5 390.3,134.9 390.2,134.2 390.2,133.5 390.3,132.7 390.3,132.7 389.9,133.4 389.6,134.1 389.4,134.9 389.3,135.7 389.2,136.4 389.1,137.1 389.0,137.8 388.8,138.4 388.5,139.1Z" fill="#2f6a1a" fill-opacity="0.65"/>
<path d="M209.9,139.2 209.4,137.9 209.0,136.7 208.6,135.5 208.3,134.4 207.9,133.2 207.5,132.1 207.0,131.0 206.5,129.9 205.9,128.8 205.9,128.8 206.1,130.0 206.1,131.2 206.1,132.4 206.0,133.5 205.9,134.6 205.8,135.8 205.7,137.0 205.6,138.4 205.5,139.8Z" fill="#3b7a22" fill-opacity="0.65"/>
<path d="M426.2,139.4 426.0,138.5 425.7,137.6 425.5,136.7 425.3,135.9 425.1,135.1 424.9,134.3 424.7,133.5 424.5,132.7 424.2,131.8 424.2,131.8 424.1,132.7 424.0,133.6 423.9,134.4 423.7,135.1 423.5,135.9 423.4,136.8 423.2,137.6 423.0,138.6 422.9,139.6Z" fill="#26561a" fill-opacity="0.65"/>
<path d="M453.6,139.7 453.5,138.7 453.5,137.8 453.5,136.8 453.5,136.0 453.6,135.1 453.7,134.2 453.8,133.3 453.9,132.3 454.1,131.3 454.1,131.3 453.6,132.2 453.1,133.0 452.6,133.8 452.2,134.6 451.7,135.4 451.2,136.3 450.8,137.2 450.4,138.2 450.1,139.3Z" fill="#3b7a22" fill-opacity="0.65"/>
<path d="M160.9,139.3 160.6,138.6 160.5,138.0 160.4,137.3 160.4,136.7 160.3,136.0 160.3,135.3 160.2,134.6 160.0,133.9 159.7,133.2 159.7,133.2 159.7,133.9 159.6,134.6 159.5,135.2 159.2,135.8 159.0,136.5 158.7,137.1 158.5,137.9 158.4,138.8 158.3,139.7Z" fill="#3b7a22" fill-opacity="0.65"/>
<path d="M212.3,139.2 212.0,138.0 211.7,136.9 211.5,135.7 211.3,134.6 211.1,133.5 211.0,132.4 210.7,131.3 210.4,130.1 209.9,129.0 209.9,129.0 210.0,130.2 210.0,131.3 209.8,132.4 209.6,133.5 209.3,134.5 209.1,135.7 208.9,136.9 208.7,138.3 208.7,139.8Z" fill="#3b7a22" fill-opacity="0.65"/>
<path d="M388.8,139.5 388.5,137.9 388.2,136.5 387.8,135.2 387.4,134.0 387.0,132.8 386.6,131.7 386.2,130.5 385.8,129.3 385.5,128.0 385.5,128.0 385.5,129.3 385.5,130.6 385.5,131.9 385.6,133.1 385.6,134.3 385.6,135.5 385.6,136.8 385.5,138.1 385.3,139.5Z" fill="#26561a" fill-opacity="0.65"/>
<path d="M335.1,139.2 334.8,138.3 334.7,137.3 334.6,136.2 334.7,135.1 334.9,134.0 335.1,132.8 335.2,131.6 335.1,130.4 334.9,129.2 334.9,129.2 334.7,130.3 334.2,131.3 333.6,132.3 333.0,133.2 332.3,134.2 331.6,135.3 331.0,136.6 330.6,138.1 330.3,139.8Z" fill="#26561a" fill-opacity="0.65"/>
<path d="M246.6,139.6 246.4,138.0 246.3,136.6 246.1,135.2 245.9,134.0 245.7,132.7 245.6,131.5 245.4,130.2 245.3,128.9 245.3,127.5 245.3,127.5 244.9,128.9 244.6,130.1 244.3,131.4 244.0,132.6 243.7,133.9 243.5,135.1 243.2,136.5 242.9,137.9 242.6,139.4Z" fill="#3b7a22" fill-opacity="0.65"/>
<path d="M270.1,140.0 270.0,138.3 269.6,136.8 268.9,135.5 268.2,134.5 267.6,133.6 266.9,132.7 266.4,131.9 266.0,130.9 265.9,129.8 265.9,129.8 265.5,130.9 265.4,132.1 265.5,133.2 265.7,134.4 265.8,135.5 265.9,136.5 265.9,137.5 265.7,138.3 265.4,139.0Z" fill="#26561a" fill-opacity="0.65"/>
<path d="M569.3,139.7 569.2,138.2 568.9,136.9 568.5,135.8 567.9,134.7 567.3,133.8 566.8,132.9 566.3,132.0 566.0,131.0 565.9,129.9 565.9,129.9 565.7,131.0 565.7,132.1 565.9,133.2 566.2,134.3 566.5,135.3 566.7,136.3 566.8,137.3 566.8,138.3 566.5,139.3Z" fill="#2f6a1a" fill-opacity="0.65"/>
<path d="M255.8,139.6 255.6,137.6 255.5,135.7 255.4,133.9 255.4,132.1 255.5,130.4 255.5,128.7 255.6,126.9 255.6,125.1 255.6,123.2 255.6,123.2 255.2,125.0 254.6,126.7 254.0,128.4 253.4,130.0 252.8,131.7 252.2,133.4 251.7,135.3 251.2,137.3 250.8,139.4Z" fill="#26561a" fill-opacity="0.65"/>
<path d="M193.0,139.6 192.8,138.0 192.7,136.4 192.6,135.0 192.6,133.5 192.7,132.1 192.7,130.7 192.7,129.2 192.8,127.8 192.8,126.2 192.8,126.2 192.3,127.7 191.9,129.1 191.3,130.4 190.8,131.7 190.3,133.1 189.8,134.5 189.3,136.0 188.9,137.6 188.6,139.4Z" fill="#26561a" fill-opacity="0.65"/>
<path d="M456.9,139.2 456.5,138.2 456.2,137.2 455.9,136.3 455.5,135.4 455.2,134.5 454.8,133.6 454.4,132.7 454.0,131.8 453.5,130.9 453.5,130.9 453.7,131.9 453.8,132.9 453.9,133.8 453.9,134.7 453.9,135.6 453.8,136.6 453.8,137.6 453.8,138.6 453.8,139.8Z" fill="#2f6a1a" fill-opacity="0.65"/>
<path d="M477.6,139.7 477.5,137.4 477.1,135.3 476.5,133.4 475.8,131.7 475.1,130.1 474.4,128.5 473.9,126.9 473.4,125.2 473.2,123.4 473.2,123.4 473.0,125.2 473.0,127.0 473.1,128.8 473.4,130.6 473.6,132.3 473.8,134.0 473.8,135.7 473.7,137.5 473.4,139.3Z" fill="#3b7a22" fill-opacity="0.65"/>
<path d="M513.3,139.8 513.1,138.1 512.7,136.5 512.1,135.2 511.5,134.1 510.8,133.1 510.2,132.1 509.6,131.1 509.2,130.0 509.0,128.8 509.0,128.8 508.8,130.0 508.8,131.3 508.9,132.5 509.1,133.7 509.3,134.9 509.4,136.1 509.4,137.2 509.3,138.2 509.0,139.2Z" fill="#26561a" fill-opacity="0.65"/>
<path d="M153.6,139.7 153.6,137.5 153.5,135.4 153.3,133.5 153.1,131.7 152.9,129.9 152.7,128.2 152.6,126.5 152.7,124.7 152.9,122.7 152.9,122.7 152.3,124.6 151.9,126.4 151.5,128.2 151.3,129.9 151.1,131.7 150.9,133.5 150.6,135.3 150.3,137.2 149.9,139.3Z" fill="#26561a" fill-opacity="0.65"/>
<path d="M340.3,139.1 339.9,138.2 339.7,137.3 339.6,136.4 339.6,135.4 339.6,134.4 339.7,133.3 339.6,132.2 339.4,131.2 339.0,130.1 339.0,130.1 339.0,131.2 338.7,132.1 338.4,133.0 337.9,133.9 337.4,134.8 336.9,135.8 336.4,137.0 336.2,138.4 336.1,139.9Z" fill="#3b7a22" fill-opacity="0.65"/>
<path d="M589.1,139.5 588.8,138.4 588.5,137.3 588.2,136.4 587.9,135.5 587.5,134.6 587.2,133.8 586.9,132.9 586.6,132.1 586.3,131.1 586.3,131.1 586.2,132.1 586.0,133.0 585.9,133.9 585.7,134.8 585.6,135.7 585.4,136.6 585.2,137.5 585.0,138.5 584.8,139.5Z" fill="#3b7a22" fill-opacity="0.65"/>
<path d="M228.3,139.3 228.0,137.9 227.8,136.6 227.8,135.4 227.8,134.1 227.8,132.8 227.8,131.5 227.8,130.1 227.6,128.8 227.3,127.4 227.3,127.4 227.2,128.8 227.0,130.1 226.6,131.3 226.2,132.4 225.7,133.7 225.3,135.0 224.9,136.4 224.6,138.0 224.5,139.7Z" fill="#2f6a1a" fill-opacity="0.65"/>
<path d="M589.2,139.8 589.2,138.9 589.2,138.1 589.2,137.3 589.1,136.6 589.1,135.9 589.1,135.3 589.2,134.6 589.3,133.8 589.5,133.0 589.5,133.0 589.0,133.7 588.6,134.4 588.3,135.0 587.9,135.7 587.6,136.3 587.3,137.0 587.1,137.7 586.8,138.4 586.4,139.2Z" fill="#3b7a22" fill-opacity="0.65"/>
<path d="M406.8,139.6 406.6,137.6 406.5,135.7 406.4,133.9 406.4,132.2 406.3,130.5 406.3,128.9 406.3,127.2 406.3,125.4 406.2,123.6 406.2,123.6 405.8,125.4 405.4,127.1 405.0,128.7 404.6,130.3 404.1,132.0 403.7,133.7 403.3,135.5 403.0,137.4 402.6,139.4Z" fill="#26561a" fill-opacity="0.65"/>
<path d="M471.5,139.4 471.2,138.1 471.0,136.9 470.7,135.8 470.5,134.7 470.2,133.7 470.0,132.6 469.7,131.6 469.4,130.5 469.1,129.4 469.1,129.4 469.1,130.5 469.0,131.6 468.9,132.7 468.8,133.8 468.7,134.8 468.5,135.9 468.4,137.1 468.3,138.3 468.2,139.6Z" fill="#2f6a1a" fill-opacity="0.65"/>
<path d="M590.1,139.6 590.0,138.6 589.8,137.7 589.7,136.9 589.5,136.1 589.4,135.3 589.3,134.6 589.1,133.8 589.0,133.0 589.0,132.2 589.0,132.2 588.8,133.0 588.6,133.8 588.4,134.6 588.3,135.3 588.1,136.1 588.0,136.9 587.8,137.7 587.6,138.5 587.4,139.4Z" fill="#3b7a22" fill-opacity="0.65"/>
<path d="M507.5,140.0 507.4,139.1 507.3,138.4 507.1,137.7 506.9,137.0 506.8,136.3 506.7,135.7 506.6,135.0 506.6,134.3 506.7,133.5 506.7,133.5 506.1,134.1 505.6,134.7 505.2,135.3 504.7,135.8 504.3,136.4 503.9,137.0 503.5,137.7 503.1,138.3 502.7,139.0Z" fill="#3b7a22" fill-opacity="0.65"/>
<path d="M411.8,139.4 411.4,138.0 411.0,136.7 410.6,135.6 410.2,134.5 409.7,133.4 409.2,132.4 408.8,131.4 408.3,130.3 407.9,129.2 407.9,129.2 407.9,130.4 407.8,131.6 407.8,132.7 407.8,133.8 407.7,134.9 407.6,136.0 407.5,137.2 407.4,138.4 407.2,139.6Z" fill="#3b7a22" fill-opacity="0.65"/>
<path d="M136.2,139.1 135.9,138.5 135.6,137.8 135.4,137.1 135.3,136.3 135.2,135.5 135.1,134.6 135.0,133.7 134.8,132.8 134.4,132.0 134.4,132.0 134.3,132.8 134.0,133.6 133.6,134.3 133.2,134.9 132.7,135.7 132.2,136.5 131.8,137.5 131.5,138.6 131.3,139.9Z" fill="#26561a" fill-opacity="0.65"/>
<path d="M149.9,139.4 149.5,138.0 149.1,136.8 148.7,135.6 148.3,134.5 147.8,133.4 147.4,132.4 146.9,131.4 146.5,130.3 146.1,129.2 146.1,129.2 146.0,130.4 146.0,131.6 145.9,132.7 145.8,133.8 145.8,134.9 145.7,136.0 145.5,137.2 145.4,138.3 145.2,139.6Z" fill="#26561a" fill-opacity="0.65"/>
<path d="M139.3,139.4 138.9,137.7 138.5,136.1 138.2,134.6 137.9,133.1 137.6,131.7 137.2,130.3 136.9,128.9 136.5,127.4 136.0,125.9 136.0,125.9 136.0,127.5 135.8,129.0 135.6,130.4 135.4,131.8 135.2,133.2 135.0,134.7 134.7,136.2 134.5,137.9 134.3,139.6Z" fill="#3b7a22" fill-opacity="0.65"/>
<path d="M163.6,139.0 163.2,138.5 163.0,137.9 162.8,137.3 162.8,136.5 162.7,135.7 162.6,134.9 162.5,134.1 162.2,133.3 161.8,132.5 161.8,132.5 161.8,133.3 161.6,134.0 161.3,134.7 160.9,135.3 160.5,136.0 160.0,136.7 159.7,137.6 159.4,138.7 159.3,140.0Z" fill="#26561a" fill-opacity="0.65"/>
<path d="M409.7,139.3 409.4,137.9 409.3,136.6 409.3,135.3 409.4,133.9 409.6,132.6 409.7,131.2 409.8,129.9 409.7,128.5 409.5,127.1 409.5,127.1 409.4,128.5 409.1,129.8 408.7,131.0 408.2,132.2 407.7,133.5 407.2,134.8 406.7,136.3 406.4,137.9 406.3,139.7Z" fill="#26561a" fill-opacity="0.65"/>
<path d="M378.6,139.4 378.2,137.5 377.8,135.7 377.4,134.0 377.0,132.4 376.5,130.9 376.0,129.4 375.5,127.9 375.0,126.4 374.5,124.7 374.5,124.7 374.7,126.4 374.8,128.1 375.0,129.6 375.1,131.2 375.2,132.8 375.3,134.4 375.4,136.0 375.4,137.7 375.3,139.6Z" fill="#26561a" fill-opacity="0.65"/>
<rect x="129.6" y="137" width="466.2" height="3" fill="#2c5418" fill-opacity="0.9"/>
</g>
<g stroke="#403c2c" stroke-width="1.1"><line x1="109.5" x2="619" y1="290.6" y2="290.6"/><line x1="109.5" x2="619" y1="240.3" y2="240.3"/><line x1="109.5" x2="619" y1="189.9" y2="189.9"/><line x1="109.5" x2="619" y1="139.3" y2="139.3"/></g>
<line x1="109.5" x2="619" y1="342.6" y2="342.6" stroke="#4a4638" stroke-width="1.9"/><g stroke="#4a4a4a" stroke-width="1.3"><line x1="129.6" x2="129.6" y1="342.4" y2="353.2"/><line x1="207.3" x2="207.3" y1="342.4" y2="347.5"/><line x1="285.0" x2="285.0" y1="342.4" y2="353.2"/><line x1="362.7" x2="362.7" y1="342.4" y2="347.5"/><line x1="440.4" x2="440.4" y1="342.4" y2="353.2"/><line x1="518.1" x2="518.1" y1="342.4" y2="347.5"/><line x1="595.8" x2="595.8" y1="342.4" y2="353.2"/></g>
<path d="M129.6,340.9 L273.3,247.7 Q285.0,240.1 298.2,235.5 L427.2,190.3 Q440.4,185.7 454.0,182.3 L595.8,147.6" stroke="#29adc9" stroke-width="3" fill="none" stroke-linecap="round" stroke-linejoin="round"/>
<path d="M129.6,341 Q362.8,300.6 596,254" stroke="#c0471c" stroke-width="2.9" fill="none" stroke-linecap="round"/>
<g font-size="16" fill="#4a4a4a"><text x="102.6" y="139.5" font-size="15.5" text-anchor="end" textLength="34.6" lengthAdjust="spacingAndGlyphs">100%</text><text x="102.6" y="190.1" font-size="15.5" text-anchor="end" textLength="27.7" lengthAdjust="spacingAndGlyphs">75%</text><text x="102.6" y="240.5" font-size="15.5" text-anchor="end" textLength="27.7" lengthAdjust="spacingAndGlyphs">50%</text><text x="102.6" y="290.8" font-size="15.5" text-anchor="end" textLength="27.7" lengthAdjust="spacingAndGlyphs">25%</text><text x="102.6" y="340.7" font-size="15.5" text-anchor="end" textLength="20" lengthAdjust="spacingAndGlyphs">0%</text><text x="129.2" y="371.8" text-anchor="middle">0</text><text x="285.2" y="371.8" text-anchor="middle" textLength="15.5" lengthAdjust="spacingAndGlyphs">10</text><text x="440.4" y="371.8" text-anchor="middle" textLength="16.2" lengthAdjust="spacingAndGlyphs">20</text><text x="596.1" y="371.8" text-anchor="middle" textLength="17.0" lengthAdjust="spacingAndGlyphs">30</text></g>
<g font-size="13" fill="#4a4a4a">
<text y="0" transform="translate(34.8,351.4) rotate(-90)" ><tspan x="0.00" textLength="65.00" lengthAdjust="spacingAndGlyphs">Percentage</tspan> <tspan x="69.40" textLength="76.60" lengthAdjust="spacingAndGlyphs">beschadigde</tspan> <tspan x="152.00" textLength="42.40" lengthAdjust="spacingAndGlyphs">planten</tspan></text>
<text y="0" transform="translate(49.9,351.4) rotate(-90)" ><tspan x="-0.20" textLength="18.00" lengthAdjust="spacingAndGlyphs">dat</tspan> <tspan x="20.20" textLength="44.20" lengthAdjust="spacingAndGlyphs">herstelt</tspan> <tspan x="70.20" textLength="11.40" lengthAdjust="spacingAndGlyphs">na</tspan> <tspan x="87.60" textLength="47.60" lengthAdjust="spacingAndGlyphs">extreme</tspan> <tspan x="139.60" textLength="31.40" lengthAdjust="spacingAndGlyphs">stress</tspan></text>
</g>
<g font-size="14" fill="#3f3f3f">
<text y="401.3" ><tspan x="131.00" textLength="59.50" lengthAdjust="spacingAndGlyphs">Relatieve</tspan> <tspan x="194.00" textLength="46.00" lengthAdjust="spacingAndGlyphs">herstel</tspan> <tspan x="246.00" textLength="15.50" lengthAdjust="spacingAndGlyphs">bij</tspan> <tspan x="265.50" textLength="70.00" lengthAdjust="spacingAndGlyphs">voldoende</tspan> <tspan x="341.00" textLength="35.50" lengthAdjust="spacingAndGlyphs">vocht</tspan> <tspan x="381.00" textLength="75.00" lengthAdjust="spacingAndGlyphs">gedurende</tspan> <tspan x="461.00" textLength="40.00" lengthAdjust="spacingAndGlyphs">eerste</tspan> <tspan x="506.00" textLength="15.50" lengthAdjust="spacingAndGlyphs">30</tspan> <tspan x="526.50" textLength="42.50" lengthAdjust="spacingAndGlyphs">dagen</tspan> <tspan x="572.50" textLength="14.50" lengthAdjust="spacingAndGlyphs">na</tspan></text>
<text y="420.6" ><tspan x="131.00" textLength="54.00" lengthAdjust="spacingAndGlyphs">extreme</tspan> <tspan x="189.00" textLength="37.00" lengthAdjust="spacingAndGlyphs">stress</tspan> <tspan x="230.50" textLength="51.00" lengthAdjust="spacingAndGlyphs">periode</tspan> <tspan x="286.00" textLength="46.50" lengthAdjust="spacingAndGlyphs">(dagen</tspan> <tspan x="337.00" textLength="51.50" lengthAdjust="spacingAndGlyphs">herstel)</tspan></text>
</g>
<g font-size="14" font-weight="bold" fill="#b84a26">
<text x="621.3" y="261.6" textLength="63.9" lengthAdjust="spacingAndGlyphs">Doorsnee</text>
<text x="621.3" y="279.2" textLength="106" lengthAdjust="spacingAndGlyphs">veldbeemdgras</text>
</g>

<g fill="none" stroke-linecap="round">
<g stroke="#141414" stroke-width="2.9">
<path d="M633.5,155 C631.5,150 626.5,148.6 623.6,150.8 C620.3,153.8 625,160.5 630.5,165.5 C635.5,170 643.5,173 644.4,168 C644.9,164 641.5,161 638.6,159.3"/>
</g>
<path d="M628.6,127.2 C633,131 638.6,137 639.6,145 C640.1,152 636.2,158 633.2,163.2 L631.2,162.6 C634,157 636.6,151 636.7,145 C636.2,138 632.2,132 628.6,127.2 Z" fill="#3aa55c" stroke="none"/>
<path d="M644,127.8 C645.6,136 644.2,144 640.7,151 C638.7,155 636.4,159 634.6,163.6 L632.6,163.2 C634.6,158 636.6,153 638.4,148 C640.6,142 642.6,136 644,127.8 Z" fill="#45b467" stroke="none"/>
<path d="M629.8,129 C633.5,133 637.6,138.5 638.2,145 C638.4,151 635.6,157 632.3,162.3" stroke="#a3e3b4" stroke-width="0.7"/>
<path d="M643.6,131 C643.8,138 642.2,144.5 639.4,150.2 C637.6,154.5 635.6,158.6 633.7,163" stroke="#a3e3b4" stroke-width="0.7"/>
<path d="M653.6,141.2 C648,141.5 643.5,144.5 640.5,150.8 L642.4,150.3 C645,146 649,143 653.6,141.2 Z" fill="#1a241a" stroke="#1a241a" stroke-width="0.8"/>
<g stroke="#141414" stroke-width="2.1">
<path d="M641.5,172 C634,171 623,164.3 620.2,166.6 C617.8,169.3 629,171 634.5,171.4 C628,172 620,170.6 620.4,173.2 C621,176 627.5,177.4 631.8,178"/>
</g>
</g>

<g>
<text x="650.6" y="161.1" font-size="15.8" font-weight="bold" fill="#1d1d1b" textLength="75.6" lengthAdjust="spacingAndGlyphs">Resilient</text>
<text x="650.6" y="178.1" font-size="16.3" font-weight="bold" fill="#2aa9e0" textLength="37.4" lengthAdjust="spacingAndGlyphs">Blue</text>
<text x="692.1" y="173.8" font-size="4.9" fill="#555" textLength="15.5" lengthAdjust="spacingAndGlyphs">GRASS</text>
<text x="692.1" y="178.9" font-size="4.9" fill="#555" textLength="32.6" lengthAdjust="spacingAndGlyphs">TECHNOLOGY</text>
</g>
</svg>
</body></html>
